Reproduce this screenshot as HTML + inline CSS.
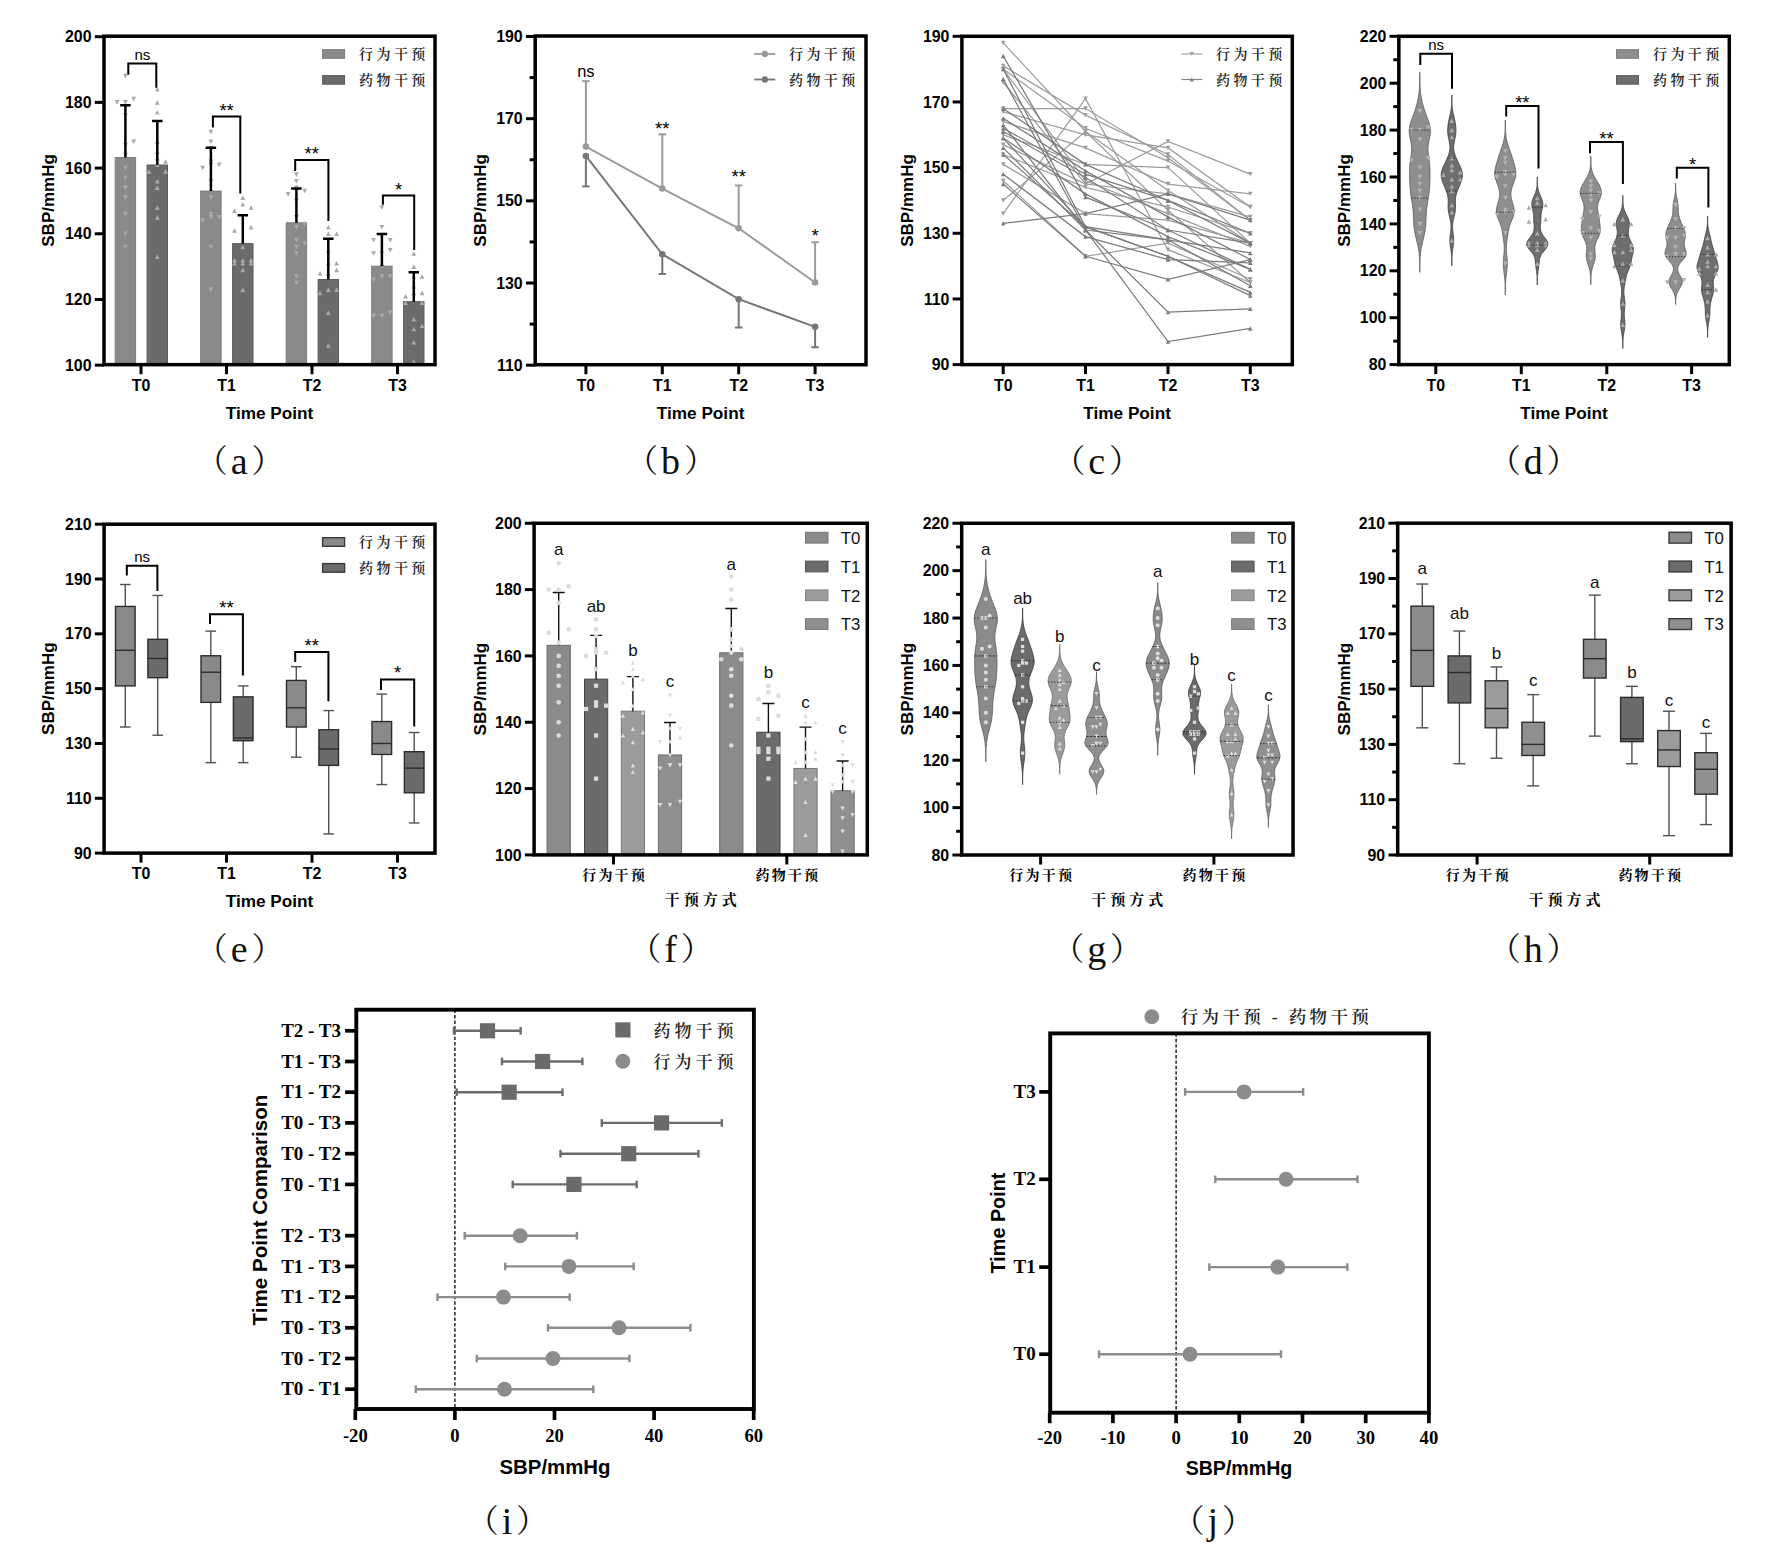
<!DOCTYPE html>
<html lang="zh"><head><meta charset="utf-8"><title>SBP figure</title>
<style>html,body{margin:0;padding:0;background:#fff}svg{display:block}</style></head>
<body>
<svg width="1770" height="1550" viewBox="0 0 1770 1550">
<rect width="1770" height="1550" fill="#fff"/>
<g id="pa">
<clipPath id="ca"><rect x="104.0" y="36.2" width="331.0" height="328.45"/></clipPath><g clip-path="url(#ca)">
<rect x="115.2" y="157.57" width="20.4" height="207.08" fill="#8a8a8a" stroke="#7a7a7a" stroke-width="1"/>
<polygon points="123,244.63 127.8,244.63 125.4,249.19" fill="#a9a9a9"/>
<polygon points="123,231.49 127.8,231.49 125.4,236.05" fill="#a9a9a9"/>
<polygon points="123,211.78 127.8,211.78 125.4,216.34" fill="#a9a9a9"/>
<polygon points="123,195.36 127.8,195.36 125.4,199.92" fill="#a9a9a9"/>
<polygon points="123,185.51 127.8,185.51 125.4,190.07" fill="#a9a9a9"/>
<polygon points="123,175.65 127.8,175.65 125.4,180.21" fill="#a9a9a9"/>
<polygon points="123,165.8 127.8,165.8 125.4,170.36" fill="#a9a9a9"/>
<polygon points="123,152.66 127.8,152.66 125.4,157.22" fill="#a9a9a9"/>
<polygon points="123,142.81 127.8,142.81 125.4,147.37" fill="#a9a9a9"/>
<polygon points="131.3,139.52 136.1,139.52 133.7,144.08" fill="#a9a9a9"/>
<polygon points="123,113.25 127.8,113.25 125.4,117.81" fill="#a9a9a9"/>
<polygon points="114.7,100.11 119.5,100.11 117.1,104.67" fill="#a9a9a9"/>
<polygon points="123,100.11 127.8,100.11 125.4,104.67" fill="#a9a9a9"/>
<polygon points="131.3,96.83 136.1,96.83 133.7,101.39" fill="#a9a9a9"/>
<polygon points="123,73.83 127.8,73.83 125.4,78.39" fill="#a9a9a9"/>
<line x1="125.4" y1="157.57" x2="125.4" y2="105.24" stroke="#000" stroke-width="2.5" stroke-linecap="butt"/>
<line x1="120.15" y1="105.24" x2="130.65" y2="105.24" stroke="#000" stroke-width="2.5" stroke-linecap="butt"/>
<rect x="147.1" y="165.01" width="20.4" height="199.64" fill="#6b6b6b" stroke="#5b5b5b" stroke-width="1"/>
<polygon points="154.9,259.04 159.7,259.04 157.3,254.48" fill="#a9a9a9"/>
<polygon points="154.9,219.63 159.7,219.63 157.3,215.07" fill="#a9a9a9"/>
<polygon points="154.9,209.77 159.7,209.77 157.3,205.21" fill="#a9a9a9"/>
<polygon points="154.9,190.07 159.7,190.07 157.3,185.51" fill="#a9a9a9"/>
<polygon points="154.9,183.5 159.7,183.5 157.3,178.94" fill="#a9a9a9"/>
<polygon points="146.6,173.64 151.4,173.64 149,169.08" fill="#a9a9a9"/>
<polygon points="163.2,173.64 168,173.64 165.6,169.08" fill="#a9a9a9"/>
<polygon points="154.9,167.08 159.7,167.08 157.3,162.52" fill="#a9a9a9"/>
<polygon points="163.2,163.79 168,163.79 165.6,159.23" fill="#a9a9a9"/>
<polygon points="154.9,160.51 159.7,160.51 157.3,155.95" fill="#a9a9a9"/>
<polygon points="154.9,153.94 159.7,153.94 157.3,149.38" fill="#a9a9a9"/>
<polygon points="154.9,144.08 159.7,144.08 157.3,139.52" fill="#a9a9a9"/>
<polygon points="154.9,114.52 159.7,114.52 157.3,109.96" fill="#a9a9a9"/>
<polygon points="154.9,104.67 159.7,104.67 157.3,100.11" fill="#a9a9a9"/>
<polygon points="154.9,91.53 159.7,91.53 157.3,86.97" fill="#a9a9a9"/>
<line x1="157.3" y1="165.01" x2="157.3" y2="121.06" stroke="#000" stroke-width="2.5" stroke-linecap="butt"/>
<line x1="152.05" y1="121.06" x2="162.55" y2="121.06" stroke="#000" stroke-width="2.5" stroke-linecap="butt"/>
<rect x="200.7" y="191.07" width="20.4" height="173.58" fill="#8a8a8a" stroke="#7a7a7a" stroke-width="1"/>
<polygon points="208.5,287.33 213.3,287.33 210.9,291.89" fill="#a9a9a9"/>
<polygon points="208.5,244.63 213.3,244.63 210.9,249.19" fill="#a9a9a9"/>
<polygon points="200.2,218.35 205,218.35 202.6,222.91" fill="#a9a9a9"/>
<polygon points="208.5,215.07 213.3,215.07 210.9,219.63" fill="#a9a9a9"/>
<polygon points="216.8,215.07 221.6,215.07 219.2,219.63" fill="#a9a9a9"/>
<polygon points="208.5,211.78 213.3,211.78 210.9,216.34" fill="#a9a9a9"/>
<polygon points="208.5,195.36 213.3,195.36 210.9,199.92" fill="#a9a9a9"/>
<polygon points="208.5,178.94 213.3,178.94 210.9,183.5" fill="#a9a9a9"/>
<polygon points="200.2,165.8 205,165.8 202.6,170.36" fill="#a9a9a9"/>
<polygon points="208.5,162.52 213.3,162.52 210.9,167.08" fill="#a9a9a9"/>
<polygon points="216.8,162.52 221.6,162.52 219.2,167.08" fill="#a9a9a9"/>
<polygon points="208.5,159.23 213.3,159.23 210.9,163.79" fill="#a9a9a9"/>
<polygon points="208.5,146.09 213.3,146.09 210.9,150.65" fill="#a9a9a9"/>
<polygon points="208.5,139.52 213.3,139.52 210.9,144.08" fill="#a9a9a9"/>
<polygon points="208.5,129.67 213.3,129.67 210.9,134.23" fill="#a9a9a9"/>
<line x1="210.9" y1="191.07" x2="210.9" y2="147.75" stroke="#000" stroke-width="2.5" stroke-linecap="butt"/>
<line x1="205.65" y1="147.75" x2="216.15" y2="147.75" stroke="#000" stroke-width="2.5" stroke-linecap="butt"/>
<rect x="232.6" y="243.62" width="20.4" height="121.03" fill="#6b6b6b" stroke="#5b5b5b" stroke-width="1"/>
<polygon points="240.4,291.89 245.2,291.89 242.8,287.33" fill="#a9a9a9"/>
<polygon points="240.4,272.18 245.2,272.18 242.8,267.62" fill="#a9a9a9"/>
<polygon points="232.1,265.61 236.9,265.61 234.5,261.05" fill="#a9a9a9"/>
<polygon points="240.4,265.61 245.2,265.61 242.8,261.05" fill="#a9a9a9"/>
<polygon points="248.7,265.61 253.5,265.61 251.1,261.05" fill="#a9a9a9"/>
<polygon points="232.1,262.33 236.9,262.33 234.5,257.77" fill="#a9a9a9"/>
<polygon points="240.4,262.33 245.2,262.33 242.8,257.77" fill="#a9a9a9"/>
<polygon points="248.7,262.33 253.5,262.33 251.1,257.77" fill="#a9a9a9"/>
<polygon points="240.4,249.19 245.2,249.19 242.8,244.63" fill="#a9a9a9"/>
<polygon points="232.1,232.77 236.9,232.77 234.5,228.21" fill="#a9a9a9"/>
<polygon points="248.7,229.48 253.5,229.48 251.1,224.92" fill="#a9a9a9"/>
<polygon points="232.1,213.06 236.9,213.06 234.5,208.5" fill="#a9a9a9"/>
<polygon points="248.7,209.77 253.5,209.77 251.1,205.21" fill="#a9a9a9"/>
<polygon points="240.4,206.49 245.2,206.49 242.8,201.93" fill="#a9a9a9"/>
<polygon points="240.4,199.92 245.2,199.92 242.8,195.36" fill="#a9a9a9"/>
<line x1="242.8" y1="243.62" x2="242.8" y2="215.23" stroke="#000" stroke-width="2.5" stroke-linecap="butt"/>
<line x1="237.55" y1="215.23" x2="248.05" y2="215.23" stroke="#000" stroke-width="2.5" stroke-linecap="butt"/>
<rect x="286.2" y="222.82" width="20.4" height="141.83" fill="#8a8a8a" stroke="#7a7a7a" stroke-width="1"/>
<polygon points="294,280.76 298.8,280.76 296.4,285.32" fill="#a9a9a9"/>
<polygon points="294,274.19 298.8,274.19 296.4,278.75" fill="#a9a9a9"/>
<polygon points="294,251.2 298.8,251.2 296.4,255.76" fill="#a9a9a9"/>
<polygon points="294,244.63 298.8,244.63 296.4,249.19" fill="#a9a9a9"/>
<polygon points="302.3,241.34 307.1,241.34 304.7,245.9" fill="#a9a9a9"/>
<polygon points="294,238.06 298.8,238.06 296.4,242.62" fill="#a9a9a9"/>
<polygon points="294,224.92 298.8,224.92 296.4,229.48" fill="#a9a9a9"/>
<polygon points="302.3,221.64 307.1,221.64 304.7,226.2" fill="#a9a9a9"/>
<polygon points="294,215.07 298.8,215.07 296.4,219.63" fill="#a9a9a9"/>
<polygon points="294,198.64 298.8,198.64 296.4,203.2" fill="#a9a9a9"/>
<polygon points="285.7,192.08 290.5,192.08 288.1,196.64" fill="#a9a9a9"/>
<polygon points="302.3,188.79 307.1,188.79 304.7,193.35" fill="#a9a9a9"/>
<polygon points="294,185.51 298.8,185.51 296.4,190.07" fill="#a9a9a9"/>
<polygon points="294,178.94 298.8,178.94 296.4,183.5" fill="#a9a9a9"/>
<polygon points="294,172.37 298.8,172.37 296.4,176.93" fill="#a9a9a9"/>
<line x1="296.4" y1="222.82" x2="296.4" y2="188.61" stroke="#000" stroke-width="2.5" stroke-linecap="butt"/>
<line x1="291.15" y1="188.61" x2="301.65" y2="188.61" stroke="#000" stroke-width="2.5" stroke-linecap="butt"/>
<rect x="318.1" y="279.53" width="20.4" height="85.12" fill="#6b6b6b" stroke="#5b5b5b" stroke-width="1"/>
<polygon points="325.9,377.28 330.7,377.28 328.3,372.72" fill="#a9a9a9"/>
<polygon points="325.9,347.72 330.7,347.72 328.3,343.16" fill="#a9a9a9"/>
<polygon points="325.9,314.88 330.7,314.88 328.3,310.32" fill="#a9a9a9"/>
<polygon points="317.6,295.17 322.4,295.17 320,290.61" fill="#a9a9a9"/>
<polygon points="325.9,291.89 330.7,291.89 328.3,287.33" fill="#a9a9a9"/>
<polygon points="334.2,291.89 339,291.89 336.6,287.33" fill="#a9a9a9"/>
<polygon points="317.6,275.46 322.4,275.46 320,270.9" fill="#a9a9a9"/>
<polygon points="325.9,275.46 330.7,275.46 328.3,270.9" fill="#a9a9a9"/>
<polygon points="334.2,272.18 339,272.18 336.6,267.62" fill="#a9a9a9"/>
<polygon points="325.9,265.61 330.7,265.61 328.3,261.05" fill="#a9a9a9"/>
<polygon points="334.2,265.61 339,265.61 336.6,261.05" fill="#a9a9a9"/>
<polygon points="325.9,252.47 330.7,252.47 328.3,247.91" fill="#a9a9a9"/>
<polygon points="325.9,236.05 330.7,236.05 328.3,231.49" fill="#a9a9a9"/>
<polygon points="334.2,236.05 339,236.05 336.6,231.49" fill="#a9a9a9"/>
<polygon points="325.9,229.48 330.7,229.48 328.3,224.92" fill="#a9a9a9"/>
<line x1="328.3" y1="279.53" x2="328.3" y2="238.63" stroke="#000" stroke-width="2.5" stroke-linecap="butt"/>
<line x1="323.05" y1="238.63" x2="333.55" y2="238.63" stroke="#000" stroke-width="2.5" stroke-linecap="butt"/>
<rect x="371.7" y="266.18" width="20.4" height="98.47" fill="#8a8a8a" stroke="#7a7a7a" stroke-width="1"/>
<polygon points="371.2,313.6 376,313.6 373.6,318.16" fill="#a9a9a9"/>
<polygon points="379.5,313.6 384.3,313.6 381.9,318.16" fill="#a9a9a9"/>
<polygon points="387.8,310.32 392.6,310.32 390.2,314.88" fill="#a9a9a9"/>
<polygon points="371.2,277.47 376,277.47 373.6,282.03" fill="#a9a9a9"/>
<polygon points="379.5,274.19 384.3,274.19 381.9,278.75" fill="#a9a9a9"/>
<polygon points="387.8,274.19 392.6,274.19 390.2,278.75" fill="#a9a9a9"/>
<polygon points="379.5,274.19 384.3,274.19 381.9,278.75" fill="#a9a9a9"/>
<polygon points="379.5,264.34 384.3,264.34 381.9,268.89" fill="#a9a9a9"/>
<polygon points="371.2,251.2 376,251.2 373.6,255.76" fill="#a9a9a9"/>
<polygon points="379.5,251.2 384.3,251.2 381.9,255.76" fill="#a9a9a9"/>
<polygon points="387.8,247.91 392.6,247.91 390.2,252.47" fill="#a9a9a9"/>
<polygon points="371.2,238.06 376,238.06 373.6,242.62" fill="#a9a9a9"/>
<polygon points="387.8,238.06 392.6,238.06 390.2,242.62" fill="#a9a9a9"/>
<polygon points="379.5,224.92 384.3,224.92 381.9,229.48" fill="#a9a9a9"/>
<polygon points="379.5,205.21 384.3,205.21 381.9,209.77" fill="#a9a9a9"/>
<line x1="381.9" y1="266.18" x2="381.9" y2="234.02" stroke="#000" stroke-width="2.5" stroke-linecap="butt"/>
<line x1="376.65" y1="234.02" x2="387.15" y2="234.02" stroke="#000" stroke-width="2.5" stroke-linecap="butt"/>
<rect x="403.6" y="301.65" width="20.4" height="63" fill="#6b6b6b" stroke="#5b5b5b" stroke-width="1"/>
<polygon points="411.4,364.15 416.2,364.15 413.8,359.59" fill="#a9a9a9"/>
<polygon points="411.4,344.44 416.2,344.44 413.8,339.88" fill="#a9a9a9"/>
<polygon points="411.4,331.3 416.2,331.3 413.8,326.74" fill="#a9a9a9"/>
<polygon points="419.7,328.02 424.5,328.02 422.1,323.46" fill="#a9a9a9"/>
<polygon points="411.4,321.45 416.2,321.45 413.8,316.89" fill="#a9a9a9"/>
<polygon points="403.1,305.02 407.9,305.02 405.5,300.46" fill="#a9a9a9"/>
<polygon points="419.7,305.02 424.5,305.02 422.1,300.46" fill="#a9a9a9"/>
<polygon points="403.1,298.46 407.9,298.46 405.5,293.9" fill="#a9a9a9"/>
<polygon points="411.4,295.17 416.2,295.17 413.8,290.61" fill="#a9a9a9"/>
<polygon points="419.7,295.17 424.5,295.17 422.1,290.61" fill="#a9a9a9"/>
<polygon points="411.4,288.6 416.2,288.6 413.8,284.04" fill="#a9a9a9"/>
<polygon points="411.4,278.75 416.2,278.75 413.8,274.19" fill="#a9a9a9"/>
<polygon points="419.7,278.75 424.5,278.75 422.1,274.19" fill="#a9a9a9"/>
<polygon points="411.4,268.89 416.2,268.89 413.8,264.34" fill="#a9a9a9"/>
<polygon points="411.4,255.76 416.2,255.76 413.8,251.2" fill="#a9a9a9"/>
<line x1="413.8" y1="301.65" x2="413.8" y2="272.2" stroke="#000" stroke-width="2.5" stroke-linecap="butt"/>
<line x1="408.55" y1="272.2" x2="419.05" y2="272.2" stroke="#000" stroke-width="2.5" stroke-linecap="butt"/>
</g>
<rect x="104" y="36.2" width="331" height="328.45" fill="none" stroke="#000" stroke-width="3.5"/>
<line x1="94.75" y1="365.15" x2="104" y2="365.15" stroke="#000" stroke-width="3" stroke-linecap="butt"/>
<text x="91.5" y="370.75" font-family='"Liberation Sans", sans-serif' font-size="15.9" font-weight="bold" text-anchor="end" fill="#000">100</text>
<line x1="94.75" y1="299.46" x2="104" y2="299.46" stroke="#000" stroke-width="3" stroke-linecap="butt"/>
<text x="91.5" y="305.06" font-family='"Liberation Sans", sans-serif' font-size="15.9" font-weight="bold" text-anchor="end" fill="#000">120</text>
<line x1="94.75" y1="233.77" x2="104" y2="233.77" stroke="#000" stroke-width="3" stroke-linecap="butt"/>
<text x="91.5" y="239.37" font-family='"Liberation Sans", sans-serif' font-size="15.9" font-weight="bold" text-anchor="end" fill="#000">140</text>
<line x1="94.75" y1="168.08" x2="104" y2="168.08" stroke="#000" stroke-width="3" stroke-linecap="butt"/>
<text x="91.5" y="173.68" font-family='"Liberation Sans", sans-serif' font-size="15.9" font-weight="bold" text-anchor="end" fill="#000">160</text>
<line x1="94.75" y1="102.39" x2="104" y2="102.39" stroke="#000" stroke-width="3" stroke-linecap="butt"/>
<text x="91.5" y="107.99" font-family='"Liberation Sans", sans-serif' font-size="15.9" font-weight="bold" text-anchor="end" fill="#000">180</text>
<line x1="94.75" y1="36.7" x2="104" y2="36.7" stroke="#000" stroke-width="3" stroke-linecap="butt"/>
<text x="91.5" y="42.3" font-family='"Liberation Sans", sans-serif' font-size="15.9" font-weight="bold" text-anchor="end" fill="#000">200</text>
<line x1="141" y1="364.65" x2="141" y2="374.2" stroke="#000" stroke-width="3" stroke-linecap="butt"/>
<text x="141" y="390.75" font-family='"Liberation Sans", sans-serif' font-size="15.9" font-weight="bold" text-anchor="middle" fill="#000">T0</text>
<line x1="226.5" y1="364.65" x2="226.5" y2="374.2" stroke="#000" stroke-width="3" stroke-linecap="butt"/>
<text x="226.5" y="390.75" font-family='"Liberation Sans", sans-serif' font-size="15.9" font-weight="bold" text-anchor="middle" fill="#000">T1</text>
<line x1="312" y1="364.65" x2="312" y2="374.2" stroke="#000" stroke-width="3" stroke-linecap="butt"/>
<text x="312" y="390.75" font-family='"Liberation Sans", sans-serif' font-size="15.9" font-weight="bold" text-anchor="middle" fill="#000">T2</text>
<line x1="397.5" y1="364.65" x2="397.5" y2="374.2" stroke="#000" stroke-width="3" stroke-linecap="butt"/>
<text x="397.5" y="390.75" font-family='"Liberation Sans", sans-serif' font-size="15.9" font-weight="bold" text-anchor="middle" fill="#000">T3</text>
<text x="49" y="200.42" font-family='"Liberation Sans", sans-serif' font-size="17.0" font-weight="bold" text-anchor="middle" fill="#000" transform="rotate(-90 49 200.42)" dominant-baseline="central">SBP/mmHg</text>
<text x="269.5" y="418.9" font-family='"Liberation Sans", sans-serif' font-size="17.2" font-weight="bold" text-anchor="middle" fill="#000">Time Point</text>
<polyline points="128.3,74.8 128.3,63.5 156.3,63.5 156.3,87.7" fill="none" stroke="#000" stroke-width="2"/>
<text x="142.3" y="59.5" font-family='"Liberation Sans", sans-serif' font-size="15" font-weight="normal" text-anchor="middle" fill="#000">ns</text>
<polyline points="212.9,127.4 212.9,116.6 240.3,116.6 240.3,193.5" fill="none" stroke="#000" stroke-width="2"/>
<text x="226.6" y="116.8" font-family='"Liberation Sans", sans-serif' font-size="18.5" font-weight="normal" text-anchor="middle" fill="#000">**</text>
<polyline points="295.2,171 295.2,160.1 328.4,160.1 328.4,221" fill="none" stroke="#000" stroke-width="2"/>
<text x="311.8" y="160.3" font-family='"Liberation Sans", sans-serif' font-size="18.5" font-weight="normal" text-anchor="middle" fill="#000">**</text>
<polyline points="382.9,204.8 382.9,195.5 414.2,195.5 414.2,250" fill="none" stroke="#000" stroke-width="2"/>
<text x="398.55" y="195.7" font-family='"Liberation Sans", sans-serif' font-size="18.5" font-weight="normal" text-anchor="middle" fill="#000">*</text>
<rect x="322.6" y="49.7" width="22" height="8.6" fill="#8a8a8a" stroke="#787878" stroke-width="1"/>
<text x="359.1" y="59" font-family='"Liberation Serif", "Noto Serif CJK SC", serif' font-size="14" font-weight="600" text-anchor="start" fill="#222" letter-spacing="3.4">行为干预</text>
<rect x="322.6" y="75.6" width="22" height="8.6" fill="#6b6b6b" stroke="#595959" stroke-width="1"/>
<text x="359.1" y="84.5" font-family='"Liberation Serif", "Noto Serif CJK SC", serif' font-size="14" font-weight="600" text-anchor="start" fill="#222" letter-spacing="3.4">药物干预</text>
<text x="195.73" y="472.2" font-family='"Noto Serif CJK SC", serif' font-size="32" font-weight="normal" text-anchor="start" fill="#111">（</text>
<text x="239.2" y="474" font-family='"Liberation Serif", serif' font-size="38" font-weight="normal" text-anchor="middle" fill="#111">a</text>
<text x="251.44" y="472.2" font-family='"Noto Serif CJK SC", serif' font-size="32" font-weight="normal" text-anchor="start" fill="#111">）</text>
</g>
<g id="pb">
<line x1="585.9" y1="146.61" x2="585.9" y2="81.15" stroke="#9a9a9a" stroke-width="2" stroke-linecap="butt"/>
<line x1="582.15" y1="81.15" x2="589.65" y2="81.15" stroke="#9a9a9a" stroke-width="2" stroke-linecap="butt"/>
<line x1="585.9" y1="155.93" x2="585.9" y2="186.38" stroke="#767676" stroke-width="2" stroke-linecap="butt"/>
<line x1="582.15" y1="186.38" x2="589.65" y2="186.38" stroke="#767676" stroke-width="2" stroke-linecap="butt"/>
<line x1="662.3" y1="188.52" x2="662.3" y2="134.33" stroke="#9a9a9a" stroke-width="2" stroke-linecap="butt"/>
<line x1="658.55" y1="134.33" x2="666.05" y2="134.33" stroke="#9a9a9a" stroke-width="2" stroke-linecap="butt"/>
<line x1="662.3" y1="254.26" x2="662.3" y2="273.93" stroke="#767676" stroke-width="2" stroke-linecap="butt"/>
<line x1="658.55" y1="273.93" x2="666.05" y2="273.93" stroke="#767676" stroke-width="2" stroke-linecap="butt"/>
<line x1="738.7" y1="228.24" x2="738.7" y2="185.44" stroke="#9a9a9a" stroke-width="2" stroke-linecap="butt"/>
<line x1="734.95" y1="185.44" x2="742.45" y2="185.44" stroke="#9a9a9a" stroke-width="2" stroke-linecap="butt"/>
<line x1="738.7" y1="299.19" x2="738.7" y2="327.52" stroke="#767676" stroke-width="2" stroke-linecap="butt"/>
<line x1="734.95" y1="327.52" x2="742.45" y2="327.52" stroke="#767676" stroke-width="2" stroke-linecap="butt"/>
<line x1="815.1" y1="282.48" x2="815.1" y2="242.25" stroke="#9a9a9a" stroke-width="2" stroke-linecap="butt"/>
<line x1="811.35" y1="242.25" x2="818.85" y2="242.25" stroke="#9a9a9a" stroke-width="2" stroke-linecap="butt"/>
<line x1="815.1" y1="326.85" x2="815.1" y2="347.25" stroke="#767676" stroke-width="2" stroke-linecap="butt"/>
<line x1="811.35" y1="347.25" x2="818.85" y2="347.25" stroke="#767676" stroke-width="2" stroke-linecap="butt"/>
<polyline fill="none" stroke="#9a9a9a" stroke-width="2" points="585.9,146.61 662.3,188.52 738.7,228.24 815.1,282.48"/>
<polyline fill="none" stroke="#767676" stroke-width="2" points="585.9,155.93 662.3,254.26 738.7,299.19 815.1,326.85"/>
<circle cx="585.9" cy="146.61" r="3.3" fill="#9a9a9a"/>
<circle cx="585.9" cy="155.93" r="3.3" fill="#767676"/>
<text x="585.9" y="76.65" font-family='"Liberation Sans", sans-serif' font-size="16.5" font-weight="normal" text-anchor="middle" fill="#000">ns</text>
<circle cx="662.3" cy="188.52" r="3.3" fill="#9a9a9a"/>
<circle cx="662.3" cy="254.26" r="3.3" fill="#767676"/>
<text x="662.3" y="135.33" font-family='"Liberation Sans", sans-serif' font-size="18.5" font-weight="normal" text-anchor="middle" fill="#000">**</text>
<circle cx="738.7" cy="228.24" r="3.3" fill="#9a9a9a"/>
<circle cx="738.7" cy="299.19" r="3.3" fill="#767676"/>
<text x="738.7" y="183.24" font-family='"Liberation Sans", sans-serif' font-size="18.5" font-weight="normal" text-anchor="middle" fill="#000">**</text>
<circle cx="815.1" cy="282.48" r="3.3" fill="#9a9a9a"/>
<circle cx="815.1" cy="326.85" r="3.3" fill="#767676"/>
<text x="815.1" y="241.65" font-family='"Liberation Sans", sans-serif' font-size="18.5" font-weight="normal" text-anchor="middle" fill="#000">*</text>
<rect x="535.2" y="36" width="330.8" height="328.7" fill="none" stroke="#000" stroke-width="3.5"/>
<line x1="525.95" y1="365.2" x2="535.2" y2="365.2" stroke="#000" stroke-width="3" stroke-linecap="butt"/>
<text x="522.7" y="370.8" font-family='"Liberation Sans", sans-serif' font-size="15.9" font-weight="bold" text-anchor="end" fill="#000">110</text>
<line x1="525.95" y1="283.02" x2="535.2" y2="283.02" stroke="#000" stroke-width="3" stroke-linecap="butt"/>
<text x="522.7" y="288.62" font-family='"Liberation Sans", sans-serif' font-size="15.9" font-weight="bold" text-anchor="end" fill="#000">130</text>
<line x1="525.95" y1="200.85" x2="535.2" y2="200.85" stroke="#000" stroke-width="3" stroke-linecap="butt"/>
<text x="522.7" y="206.45" font-family='"Liberation Sans", sans-serif' font-size="15.9" font-weight="bold" text-anchor="end" fill="#000">150</text>
<line x1="525.95" y1="118.68" x2="535.2" y2="118.68" stroke="#000" stroke-width="3" stroke-linecap="butt"/>
<text x="522.7" y="124.28" font-family='"Liberation Sans", sans-serif' font-size="15.9" font-weight="bold" text-anchor="end" fill="#000">170</text>
<line x1="525.95" y1="36.5" x2="535.2" y2="36.5" stroke="#000" stroke-width="3" stroke-linecap="butt"/>
<text x="522.7" y="42.1" font-family='"Liberation Sans", sans-serif' font-size="15.9" font-weight="bold" text-anchor="end" fill="#000">190</text>
<line x1="529.65" y1="324.11" x2="535.2" y2="324.11" stroke="#000" stroke-width="3" stroke-linecap="butt"/>
<line x1="529.65" y1="241.94" x2="535.2" y2="241.94" stroke="#000" stroke-width="3" stroke-linecap="butt"/>
<line x1="529.65" y1="159.76" x2="535.2" y2="159.76" stroke="#000" stroke-width="3" stroke-linecap="butt"/>
<line x1="529.65" y1="77.59" x2="535.2" y2="77.59" stroke="#000" stroke-width="3" stroke-linecap="butt"/>
<line x1="585.9" y1="364.7" x2="585.9" y2="374.25" stroke="#000" stroke-width="3" stroke-linecap="butt"/>
<text x="585.9" y="390.8" font-family='"Liberation Sans", sans-serif' font-size="15.9" font-weight="bold" text-anchor="middle" fill="#000">T0</text>
<line x1="662.3" y1="364.7" x2="662.3" y2="374.25" stroke="#000" stroke-width="3" stroke-linecap="butt"/>
<text x="662.3" y="390.8" font-family='"Liberation Sans", sans-serif' font-size="15.9" font-weight="bold" text-anchor="middle" fill="#000">T1</text>
<line x1="738.7" y1="364.7" x2="738.7" y2="374.25" stroke="#000" stroke-width="3" stroke-linecap="butt"/>
<text x="738.7" y="390.8" font-family='"Liberation Sans", sans-serif' font-size="15.9" font-weight="bold" text-anchor="middle" fill="#000">T2</text>
<line x1="815.1" y1="364.7" x2="815.1" y2="374.25" stroke="#000" stroke-width="3" stroke-linecap="butt"/>
<text x="815.1" y="390.8" font-family='"Liberation Sans", sans-serif' font-size="15.9" font-weight="bold" text-anchor="middle" fill="#000">T3</text>
<text x="480.5" y="200.35" font-family='"Liberation Sans", sans-serif' font-size="17.0" font-weight="bold" text-anchor="middle" fill="#000" transform="rotate(-90 480.5 200.35)" dominant-baseline="central">SBP/mmHg</text>
<text x="700.6" y="418.9" font-family='"Liberation Sans", sans-serif' font-size="17.2" font-weight="bold" text-anchor="middle" fill="#000">Time Point</text>
<line x1="754.3" y1="54" x2="775.3" y2="54" stroke="#9a9a9a" stroke-width="1.8" stroke-linecap="butt"/>
<circle cx="764.8" cy="54" r="3.2" fill="#9a9a9a"/>
<text x="789" y="59" font-family='"Liberation Serif", "Noto Serif CJK SC", serif' font-size="14" font-weight="600" text-anchor="start" fill="#222" letter-spacing="3.4">行为干预</text>
<line x1="754.3" y1="79.5" x2="775.3" y2="79.5" stroke="#767676" stroke-width="1.8" stroke-linecap="butt"/>
<circle cx="764.8" cy="79.5" r="3.2" fill="#767676"/>
<text x="789" y="84.5" font-family='"Liberation Serif", "Noto Serif CJK SC", serif' font-size="14" font-weight="600" text-anchor="start" fill="#222" letter-spacing="3.4">药物干预</text>
<text x="626.07" y="472.2" font-family='"Noto Serif CJK SC", serif' font-size="32" font-weight="normal" text-anchor="start" fill="#111">（</text>
<text x="670.6" y="474" font-family='"Liberation Serif", serif' font-size="38" font-weight="normal" text-anchor="middle" fill="#111">b</text>
<text x="683.9" y="472.2" font-family='"Noto Serif CJK SC", serif' font-size="32" font-weight="normal" text-anchor="start" fill="#111">）</text>
</g>
<g id="pc">
<polyline fill="none" stroke="#9c9c9c" stroke-width="1.25" points="1003.2,42.87 1085.5,131.51 1168,190.6 1250.3,243.13"/>
<polygon points="1000.9,40.68 1005.5,40.68 1003.2,45.05" fill="#9c9c9c"/>
<polygon points="1083.2,129.32 1087.8,129.32 1085.5,133.69" fill="#9c9c9c"/>
<polygon points="1165.7,188.42 1170.3,188.42 1168,192.79" fill="#9c9c9c"/>
<polygon points="1248,240.94 1252.6,240.94 1250.3,245.31" fill="#9c9c9c"/>
<polyline fill="none" stroke="#9c9c9c" stroke-width="1.25" points="1003.2,65.85 1085.5,115.09 1168,154.49 1250.3,220.15"/>
<polygon points="1000.9,63.66 1005.5,63.66 1003.2,68.03" fill="#9c9c9c"/>
<polygon points="1083.2,112.91 1087.8,112.91 1085.5,117.28" fill="#9c9c9c"/>
<polygon points="1165.7,152.3 1170.3,152.3 1168,156.67" fill="#9c9c9c"/>
<polygon points="1248,217.96 1252.6,217.96 1250.3,222.33" fill="#9c9c9c"/>
<polyline fill="none" stroke="#9c9c9c" stroke-width="1.25" points="1003.2,69.13 1085.5,128.22 1168,161.05 1250.3,207.02"/>
<polygon points="1000.9,66.94 1005.5,66.94 1003.2,71.31" fill="#9c9c9c"/>
<polygon points="1083.2,126.04 1087.8,126.04 1085.5,130.41" fill="#9c9c9c"/>
<polygon points="1165.7,158.87 1170.3,158.87 1168,163.24" fill="#9c9c9c"/>
<polygon points="1248,204.83 1252.6,204.83 1250.3,209.2" fill="#9c9c9c"/>
<polyline fill="none" stroke="#9c9c9c" stroke-width="1.25" points="1003.2,69.13 1085.5,180.75 1168,213.58 1250.3,246.41"/>
<polygon points="1000.9,66.94 1005.5,66.94 1003.2,71.31" fill="#9c9c9c"/>
<polygon points="1083.2,178.57 1087.8,178.57 1085.5,182.94" fill="#9c9c9c"/>
<polygon points="1165.7,211.4 1170.3,211.4 1168,215.77" fill="#9c9c9c"/>
<polygon points="1248,244.23 1252.6,244.23 1250.3,248.6" fill="#9c9c9c"/>
<polyline fill="none" stroke="#9c9c9c" stroke-width="1.25" points="1003.2,82.26 1085.5,184.03 1168,193.88 1250.3,216.87"/>
<polygon points="1000.9,80.08 1005.5,80.08 1003.2,84.45" fill="#9c9c9c"/>
<polygon points="1083.2,181.85 1087.8,181.85 1085.5,186.22" fill="#9c9c9c"/>
<polygon points="1165.7,191.7 1170.3,191.7 1168,196.07" fill="#9c9c9c"/>
<polygon points="1248,214.68 1252.6,214.68 1250.3,219.05" fill="#9c9c9c"/>
<polyline fill="none" stroke="#9c9c9c" stroke-width="1.25" points="1003.2,108.53 1085.5,108.53 1168,157.77 1250.3,220.15"/>
<polygon points="1000.9,106.34 1005.5,106.34 1003.2,110.71" fill="#9c9c9c"/>
<polygon points="1083.2,106.34 1087.8,106.34 1085.5,110.71" fill="#9c9c9c"/>
<polygon points="1165.7,155.59 1170.3,155.59 1168,159.96" fill="#9c9c9c"/>
<polygon points="1248,217.96 1252.6,217.96 1250.3,222.33" fill="#9c9c9c"/>
<polyline fill="none" stroke="#9c9c9c" stroke-width="1.25" points="1003.2,111.81 1085.5,134.79 1168,147.92 1250.3,207.02"/>
<polygon points="1000.9,109.62 1005.5,109.62 1003.2,113.99" fill="#9c9c9c"/>
<polygon points="1083.2,132.61 1087.8,132.61 1085.5,136.98" fill="#9c9c9c"/>
<polygon points="1165.7,145.74 1170.3,145.74 1168,150.11" fill="#9c9c9c"/>
<polygon points="1248,204.83 1252.6,204.83 1250.3,209.2" fill="#9c9c9c"/>
<polyline fill="none" stroke="#9c9c9c" stroke-width="1.25" points="1003.2,121.66 1085.5,147.92 1168,184.03 1250.3,193.88"/>
<polygon points="1000.9,119.47 1005.5,119.47 1003.2,123.84" fill="#9c9c9c"/>
<polygon points="1083.2,145.74 1087.8,145.74 1085.5,150.11" fill="#9c9c9c"/>
<polygon points="1165.7,181.85 1170.3,181.85 1168,186.22" fill="#9c9c9c"/>
<polygon points="1248,191.7 1252.6,191.7 1250.3,196.07" fill="#9c9c9c"/>
<polyline fill="none" stroke="#9c9c9c" stroke-width="1.25" points="1003.2,134.79 1085.5,164.34 1168,167.62 1250.3,243.13"/>
<polygon points="1000.9,132.61 1005.5,132.61 1003.2,136.98" fill="#9c9c9c"/>
<polygon points="1083.2,162.15 1087.8,162.15 1085.5,166.52" fill="#9c9c9c"/>
<polygon points="1165.7,165.44 1170.3,165.44 1168,169.81" fill="#9c9c9c"/>
<polygon points="1248,240.94 1252.6,240.94 1250.3,245.31" fill="#9c9c9c"/>
<polyline fill="none" stroke="#9c9c9c" stroke-width="1.25" points="1003.2,144.64 1085.5,184.03 1168,141.36 1250.3,174.19"/>
<polygon points="1000.9,142.45 1005.5,142.45 1003.2,146.82" fill="#9c9c9c"/>
<polygon points="1083.2,181.85 1087.8,181.85 1085.5,186.22" fill="#9c9c9c"/>
<polygon points="1165.7,139.17 1170.3,139.17 1168,143.54" fill="#9c9c9c"/>
<polygon points="1248,172 1252.6,172 1250.3,176.37" fill="#9c9c9c"/>
<polyline fill="none" stroke="#9c9c9c" stroke-width="1.25" points="1003.2,154.49 1085.5,187.32 1168,207.02 1250.3,233.28"/>
<polygon points="1000.9,152.3 1005.5,152.3 1003.2,156.67" fill="#9c9c9c"/>
<polygon points="1083.2,185.13 1087.8,185.13 1085.5,189.5" fill="#9c9c9c"/>
<polygon points="1165.7,204.83 1170.3,204.83 1168,209.2" fill="#9c9c9c"/>
<polygon points="1248,231.09 1252.6,231.09 1250.3,235.47" fill="#9c9c9c"/>
<polyline fill="none" stroke="#9c9c9c" stroke-width="1.25" points="1003.2,164.34 1085.5,213.58 1168,220.15 1250.3,243.13"/>
<polygon points="1000.9,162.15 1005.5,162.15 1003.2,166.52" fill="#9c9c9c"/>
<polygon points="1083.2,211.4 1087.8,211.4 1085.5,215.77" fill="#9c9c9c"/>
<polygon points="1165.7,217.96 1170.3,217.96 1168,222.33" fill="#9c9c9c"/>
<polygon points="1248,240.94 1252.6,240.94 1250.3,245.31" fill="#9c9c9c"/>
<polyline fill="none" stroke="#9c9c9c" stroke-width="1.25" points="1003.2,180.75 1085.5,256.26 1168,243.13 1250.3,279.24"/>
<polygon points="1000.9,178.57 1005.5,178.57 1003.2,182.94" fill="#9c9c9c"/>
<polygon points="1083.2,254.08 1087.8,254.08 1085.5,258.45" fill="#9c9c9c"/>
<polygon points="1165.7,240.94 1170.3,240.94 1168,245.31" fill="#9c9c9c"/>
<polygon points="1248,277.06 1252.6,277.06 1250.3,281.43" fill="#9c9c9c"/>
<polyline fill="none" stroke="#9c9c9c" stroke-width="1.25" points="1003.2,200.45 1085.5,131.51 1168,210.3 1250.3,282.53"/>
<polygon points="1000.9,198.27 1005.5,198.27 1003.2,202.64" fill="#9c9c9c"/>
<polygon points="1083.2,129.32 1087.8,129.32 1085.5,133.69" fill="#9c9c9c"/>
<polygon points="1165.7,208.11 1170.3,208.11 1168,212.48" fill="#9c9c9c"/>
<polygon points="1248,280.34 1252.6,280.34 1250.3,284.71" fill="#9c9c9c"/>
<polyline fill="none" stroke="#9c9c9c" stroke-width="1.25" points="1003.2,213.58 1085.5,98.68 1168,249.7 1250.3,282.53"/>
<polygon points="1000.9,211.4 1005.5,211.4 1003.2,215.77" fill="#9c9c9c"/>
<polygon points="1083.2,96.49 1087.8,96.49 1085.5,100.86" fill="#9c9c9c"/>
<polygon points="1165.7,247.51 1170.3,247.51 1168,251.88" fill="#9c9c9c"/>
<polygon points="1248,280.34 1252.6,280.34 1250.3,284.71" fill="#9c9c9c"/>
<polyline fill="none" stroke="#7c7c7c" stroke-width="1.25" points="1003.2,56 1085.5,197.17 1168,230 1250.3,269.39"/>
<polygon points="1000.9,58.18 1005.5,58.18 1003.2,53.81" fill="#7c7c7c"/>
<polygon points="1083.2,199.35 1087.8,199.35 1085.5,194.98" fill="#7c7c7c"/>
<polygon points="1165.7,232.18 1170.3,232.18 1168,227.81" fill="#7c7c7c"/>
<polygon points="1248,271.58 1252.6,271.58 1250.3,267.21" fill="#7c7c7c"/>
<polyline fill="none" stroke="#7c7c7c" stroke-width="1.25" points="1003.2,69.13 1085.5,226.71 1168,256.26 1250.3,292.37"/>
<polygon points="1000.9,71.31 1005.5,71.31 1003.2,66.94" fill="#7c7c7c"/>
<polygon points="1083.2,228.9 1087.8,228.9 1085.5,224.53" fill="#7c7c7c"/>
<polygon points="1165.7,258.45 1170.3,258.45 1168,254.08" fill="#7c7c7c"/>
<polygon points="1248,294.56 1252.6,294.56 1250.3,290.19" fill="#7c7c7c"/>
<polyline fill="none" stroke="#7c7c7c" stroke-width="1.25" points="1003.2,78.98 1085.5,230 1168,341.62 1250.3,328.49"/>
<polygon points="1000.9,81.16 1005.5,81.16 1003.2,76.79" fill="#7c7c7c"/>
<polygon points="1083.2,232.18 1087.8,232.18 1085.5,227.81" fill="#7c7c7c"/>
<polygon points="1165.7,343.8 1170.3,343.8 1168,339.43" fill="#7c7c7c"/>
<polygon points="1248,330.67 1252.6,330.67 1250.3,326.3" fill="#7c7c7c"/>
<polyline fill="none" stroke="#7c7c7c" stroke-width="1.25" points="1003.2,108.53 1085.5,164.34 1168,200.45 1250.3,243.13"/>
<polygon points="1000.9,110.71 1005.5,110.71 1003.2,106.34" fill="#7c7c7c"/>
<polygon points="1083.2,166.52 1087.8,166.52 1085.5,162.15" fill="#7c7c7c"/>
<polygon points="1165.7,202.64 1170.3,202.64 1168,198.27" fill="#7c7c7c"/>
<polygon points="1248,245.31 1252.6,245.31 1250.3,240.94" fill="#7c7c7c"/>
<polyline fill="none" stroke="#7c7c7c" stroke-width="1.25" points="1003.2,118.38 1085.5,170.9 1168,216.87 1250.3,259.54"/>
<polygon points="1000.9,120.56 1005.5,120.56 1003.2,116.19" fill="#7c7c7c"/>
<polygon points="1083.2,173.09 1087.8,173.09 1085.5,168.72" fill="#7c7c7c"/>
<polygon points="1165.7,219.05 1170.3,219.05 1168,214.68" fill="#7c7c7c"/>
<polygon points="1248,261.73 1252.6,261.73 1250.3,257.36" fill="#7c7c7c"/>
<polyline fill="none" stroke="#7c7c7c" stroke-width="1.25" points="1003.2,124.94 1085.5,230 1168,312.07 1250.3,308.79"/>
<polygon points="1000.9,127.13 1005.5,127.13 1003.2,122.76" fill="#7c7c7c"/>
<polygon points="1083.2,232.18 1087.8,232.18 1085.5,227.81" fill="#7c7c7c"/>
<polygon points="1165.7,314.26 1170.3,314.26 1168,309.89" fill="#7c7c7c"/>
<polygon points="1248,310.97 1252.6,310.97 1250.3,306.6" fill="#7c7c7c"/>
<polyline fill="none" stroke="#7c7c7c" stroke-width="1.25" points="1003.2,128.22 1085.5,174.19 1168,200.45 1250.3,233.28"/>
<polygon points="1000.9,130.41 1005.5,130.41 1003.2,126.04" fill="#7c7c7c"/>
<polygon points="1083.2,176.37 1087.8,176.37 1085.5,172" fill="#7c7c7c"/>
<polygon points="1165.7,202.64 1170.3,202.64 1168,198.27" fill="#7c7c7c"/>
<polygon points="1248,235.47 1252.6,235.47 1250.3,231.09" fill="#7c7c7c"/>
<polyline fill="none" stroke="#7c7c7c" stroke-width="1.25" points="1003.2,131.51 1085.5,177.47 1168,230 1250.3,243.13"/>
<polygon points="1000.9,133.69 1005.5,133.69 1003.2,129.32" fill="#7c7c7c"/>
<polygon points="1083.2,179.65 1087.8,179.65 1085.5,175.28" fill="#7c7c7c"/>
<polygon points="1165.7,232.18 1170.3,232.18 1168,227.81" fill="#7c7c7c"/>
<polygon points="1248,245.31 1252.6,245.31 1250.3,240.94" fill="#7c7c7c"/>
<polyline fill="none" stroke="#7c7c7c" stroke-width="1.25" points="1003.2,138.07 1085.5,226.71 1168,239.85 1250.3,252.98"/>
<polygon points="1000.9,140.26 1005.5,140.26 1003.2,135.89" fill="#7c7c7c"/>
<polygon points="1083.2,228.9 1087.8,228.9 1085.5,224.53" fill="#7c7c7c"/>
<polygon points="1165.7,242.03 1170.3,242.03 1168,237.66" fill="#7c7c7c"/>
<polygon points="1248,255.16 1252.6,255.16 1250.3,250.79" fill="#7c7c7c"/>
<polyline fill="none" stroke="#7c7c7c" stroke-width="1.25" points="1003.2,138.07 1085.5,193.88 1168,236.56 1250.3,269.39"/>
<polygon points="1000.9,140.26 1005.5,140.26 1003.2,135.89" fill="#7c7c7c"/>
<polygon points="1083.2,196.07 1087.8,196.07 1085.5,191.7" fill="#7c7c7c"/>
<polygon points="1165.7,238.75 1170.3,238.75 1168,234.38" fill="#7c7c7c"/>
<polygon points="1248,271.58 1252.6,271.58 1250.3,267.21" fill="#7c7c7c"/>
<polyline fill="none" stroke="#7c7c7c" stroke-width="1.25" points="1003.2,147.92 1085.5,230 1168,239.85 1250.3,285.81"/>
<polygon points="1000.9,150.11 1005.5,150.11 1003.2,145.74" fill="#7c7c7c"/>
<polygon points="1083.2,232.18 1087.8,232.18 1085.5,227.81" fill="#7c7c7c"/>
<polygon points="1165.7,242.03 1170.3,242.03 1168,237.66" fill="#7c7c7c"/>
<polygon points="1248,287.99 1252.6,287.99 1250.3,283.62" fill="#7c7c7c"/>
<polyline fill="none" stroke="#7c7c7c" stroke-width="1.25" points="1003.2,154.49 1085.5,226.71 1168,256.26 1250.3,295.66"/>
<polygon points="1000.9,156.67 1005.5,156.67 1003.2,152.3" fill="#7c7c7c"/>
<polygon points="1083.2,228.9 1087.8,228.9 1085.5,224.53" fill="#7c7c7c"/>
<polygon points="1165.7,258.45 1170.3,258.45 1168,254.08" fill="#7c7c7c"/>
<polygon points="1248,297.84 1252.6,297.84 1250.3,293.47" fill="#7c7c7c"/>
<polyline fill="none" stroke="#7c7c7c" stroke-width="1.25" points="1003.2,174.19 1085.5,236.56 1168,259.54 1250.3,262.83"/>
<polygon points="1000.9,176.37 1005.5,176.37 1003.2,172" fill="#7c7c7c"/>
<polygon points="1083.2,238.75 1087.8,238.75 1085.5,234.38" fill="#7c7c7c"/>
<polygon points="1165.7,261.73 1170.3,261.73 1168,257.36" fill="#7c7c7c"/>
<polygon points="1248,265.01 1252.6,265.01 1250.3,260.64" fill="#7c7c7c"/>
<polyline fill="none" stroke="#7c7c7c" stroke-width="1.25" points="1003.2,184.03 1085.5,256.26 1168,279.24 1250.3,259.54"/>
<polygon points="1000.9,186.22 1005.5,186.22 1003.2,181.85" fill="#7c7c7c"/>
<polygon points="1083.2,258.45 1087.8,258.45 1085.5,254.08" fill="#7c7c7c"/>
<polygon points="1165.7,281.43 1170.3,281.43 1168,277.06" fill="#7c7c7c"/>
<polygon points="1248,261.73 1252.6,261.73 1250.3,257.36" fill="#7c7c7c"/>
<polyline fill="none" stroke="#7c7c7c" stroke-width="1.25" points="1003.2,223.43 1085.5,213.58 1168,193.88 1250.3,220.15"/>
<polygon points="1000.9,225.62 1005.5,225.62 1003.2,221.25" fill="#7c7c7c"/>
<polygon points="1083.2,215.77 1087.8,215.77 1085.5,211.4" fill="#7c7c7c"/>
<polygon points="1165.7,196.07 1170.3,196.07 1168,191.7" fill="#7c7c7c"/>
<polygon points="1248,222.33 1252.6,222.33 1250.3,217.96" fill="#7c7c7c"/>
<rect x="961.9" y="36.3" width="330.4" height="328.3" fill="none" stroke="#000" stroke-width="3.5"/>
<line x1="952.65" y1="364.6" x2="961.9" y2="364.6" stroke="#000" stroke-width="3" stroke-linecap="butt"/>
<text x="949.4" y="370.2" font-family='"Liberation Sans", sans-serif' font-size="15.9" font-weight="bold" text-anchor="end" fill="#000">90</text>
<line x1="952.65" y1="298.94" x2="961.9" y2="298.94" stroke="#000" stroke-width="3" stroke-linecap="butt"/>
<text x="949.4" y="304.54" font-family='"Liberation Sans", sans-serif' font-size="15.9" font-weight="bold" text-anchor="end" fill="#000">110</text>
<line x1="952.65" y1="233.28" x2="961.9" y2="233.28" stroke="#000" stroke-width="3" stroke-linecap="butt"/>
<text x="949.4" y="238.88" font-family='"Liberation Sans", sans-serif' font-size="15.9" font-weight="bold" text-anchor="end" fill="#000">130</text>
<line x1="952.65" y1="167.62" x2="961.9" y2="167.62" stroke="#000" stroke-width="3" stroke-linecap="butt"/>
<text x="949.4" y="173.22" font-family='"Liberation Sans", sans-serif' font-size="15.9" font-weight="bold" text-anchor="end" fill="#000">150</text>
<line x1="952.65" y1="101.96" x2="961.9" y2="101.96" stroke="#000" stroke-width="3" stroke-linecap="butt"/>
<text x="949.4" y="107.56" font-family='"Liberation Sans", sans-serif' font-size="15.9" font-weight="bold" text-anchor="end" fill="#000">170</text>
<line x1="952.65" y1="36.3" x2="961.9" y2="36.3" stroke="#000" stroke-width="3" stroke-linecap="butt"/>
<text x="949.4" y="41.9" font-family='"Liberation Sans", sans-serif' font-size="15.9" font-weight="bold" text-anchor="end" fill="#000">190</text>
<line x1="1003.2" y1="364.6" x2="1003.2" y2="374.15" stroke="#000" stroke-width="3" stroke-linecap="butt"/>
<text x="1003.2" y="390.7" font-family='"Liberation Sans", sans-serif' font-size="15.9" font-weight="bold" text-anchor="middle" fill="#000">T0</text>
<line x1="1085.5" y1="364.6" x2="1085.5" y2="374.15" stroke="#000" stroke-width="3" stroke-linecap="butt"/>
<text x="1085.5" y="390.7" font-family='"Liberation Sans", sans-serif' font-size="15.9" font-weight="bold" text-anchor="middle" fill="#000">T1</text>
<line x1="1168" y1="364.6" x2="1168" y2="374.15" stroke="#000" stroke-width="3" stroke-linecap="butt"/>
<text x="1168" y="390.7" font-family='"Liberation Sans", sans-serif' font-size="15.9" font-weight="bold" text-anchor="middle" fill="#000">T2</text>
<line x1="1250.3" y1="364.6" x2="1250.3" y2="374.15" stroke="#000" stroke-width="3" stroke-linecap="butt"/>
<text x="1250.3" y="390.7" font-family='"Liberation Sans", sans-serif' font-size="15.9" font-weight="bold" text-anchor="middle" fill="#000">T3</text>
<text x="908" y="200.45" font-family='"Liberation Sans", sans-serif' font-size="17.0" font-weight="bold" text-anchor="middle" fill="#000" transform="rotate(-90 908 200.45)" dominant-baseline="central">SBP/mmHg</text>
<text x="1127.1" y="418.9" font-family='"Liberation Sans", sans-serif' font-size="17.2" font-weight="bold" text-anchor="middle" fill="#000">Time Point</text>
<line x1="1181.3" y1="54" x2="1202.3" y2="54" stroke="#a2a2a2" stroke-width="1.2" stroke-linecap="butt"/>
<polygon points="1189.6,51.91 1194,51.91 1191.8,56.09" fill="#a2a2a2"/>
<text x="1216" y="59" font-family='"Liberation Serif", "Noto Serif CJK SC", serif' font-size="14" font-weight="600" text-anchor="start" fill="#222" letter-spacing="3.4">行为干预</text>
<line x1="1181.3" y1="79.5" x2="1202.3" y2="79.5" stroke="#828282" stroke-width="1.2" stroke-linecap="butt"/>
<polygon points="1189.6,81.59 1194,81.59 1191.8,77.41" fill="#828282"/>
<text x="1216" y="84.5" font-family='"Liberation Serif", "Noto Serif CJK SC", serif' font-size="14" font-weight="600" text-anchor="start" fill="#222" letter-spacing="3.4">药物干预</text>
<text x="1053.33" y="472.2" font-family='"Noto Serif CJK SC", serif' font-size="32" font-weight="normal" text-anchor="start" fill="#111">（</text>
<text x="1096.8" y="474" font-family='"Liberation Serif", serif' font-size="38" font-weight="normal" text-anchor="middle" fill="#111">c</text>
<text x="1109.04" y="472.2" font-family='"Noto Serif CJK SC", serif' font-size="32" font-weight="normal" text-anchor="start" fill="#111">）</text>
</g>
<g id="pd">
<path d="M1419.8,272.41 L1419.81,270.16 L1419.83,267.91 L1419.85,265.66 L1419.89,263.41 L1419.96,261.16 L1420.06,258.91 L1420.2,256.66 L1420.39,254.41 L1420.65,252.17 L1420.97,249.92 L1421.36,247.67 L1421.82,245.42 L1422.33,243.17 L1422.88,240.92 L1423.43,238.67 L1423.98,236.42 L1424.48,234.17 L1424.91,231.92 L1425.27,229.67 L1425.54,227.42 L1425.74,225.17 L1425.88,222.92 L1425.98,220.67 L1426.06,218.42 L1426.15,216.17 L1426.26,213.92 L1426.42,211.68 L1426.63,209.43 L1426.89,207.18 L1427.2,204.93 L1427.54,202.68 L1427.91,200.43 L1428.27,198.18 L1428.62,195.93 L1428.94,193.68 L1429.22,191.43 L1429.45,189.18 L1429.63,186.93 L1429.76,184.68 L1429.85,182.43 L1429.92,180.18 L1429.97,177.93 L1430.01,175.68 L1430.03,173.43 L1430.02,171.19 L1429.98,168.94 L1429.88,166.69 L1429.72,164.44 L1429.48,162.19 L1429.18,159.94 L1428.85,157.69 L1428.52,155.44 L1428.25,153.19 L1428.06,150.94 L1428.02,148.69 L1428.13,146.44 L1428.39,144.19 L1428.78,141.94 L1429.24,139.69 L1429.69,137.44 L1430.08,135.19 L1430.33,132.94 L1430.4,130.7 L1430.26,128.45 L1429.91,126.2 L1429.37,123.95 L1428.69,121.7 L1427.91,119.45 L1427.09,117.2 L1426.25,114.95 L1425.43,112.7 L1424.65,110.45 L1423.93,108.2 L1423.26,105.95 L1422.65,103.7 L1422.1,101.45 L1421.61,99.2 L1421.2,96.95 L1420.85,94.7 L1420.56,92.45 L1420.33,90.21 L1420.16,87.96 L1420.04,85.71 L1419.95,83.46 L1419.89,81.21 L1419.85,78.96 L1419.82,76.71 L1419.81,74.46 L1419.8,72.21 L1419.8,72.21 L1419.79,74.46 L1419.78,76.71 L1419.75,78.96 L1419.71,81.21 L1419.65,83.46 L1419.56,85.71 L1419.44,87.96 L1419.27,90.21 L1419.04,92.45 L1418.75,94.7 L1418.4,96.95 L1417.99,99.2 L1417.5,101.45 L1416.95,103.7 L1416.34,105.95 L1415.67,108.2 L1414.95,110.45 L1414.17,112.7 L1413.35,114.95 L1412.51,117.2 L1411.69,119.45 L1410.91,121.7 L1410.23,123.95 L1409.69,126.2 L1409.34,128.45 L1409.2,130.7 L1409.27,132.94 L1409.52,135.19 L1409.91,137.44 L1410.36,139.69 L1410.82,141.94 L1411.21,144.19 L1411.47,146.44 L1411.58,148.69 L1411.54,150.94 L1411.35,153.19 L1411.08,155.44 L1410.75,157.69 L1410.42,159.94 L1410.12,162.19 L1409.88,164.44 L1409.72,166.69 L1409.62,168.94 L1409.58,171.19 L1409.57,173.43 L1409.59,175.68 L1409.63,177.93 L1409.68,180.18 L1409.75,182.43 L1409.84,184.68 L1409.97,186.93 L1410.15,189.18 L1410.38,191.43 L1410.66,193.68 L1410.98,195.93 L1411.33,198.18 L1411.69,200.43 L1412.06,202.68 L1412.4,204.93 L1412.71,207.18 L1412.97,209.43 L1413.18,211.68 L1413.34,213.92 L1413.45,216.17 L1413.54,218.42 L1413.62,220.67 L1413.72,222.92 L1413.86,225.17 L1414.06,227.42 L1414.33,229.67 L1414.69,231.92 L1415.12,234.17 L1415.62,236.42 L1416.17,238.67 L1416.72,240.92 L1417.27,243.17 L1417.78,245.42 L1418.24,247.67 L1418.63,249.92 L1418.95,252.17 L1419.21,254.41 L1419.4,256.66 L1419.54,258.91 L1419.64,261.16 L1419.71,263.41 L1419.75,265.66 L1419.77,267.91 L1419.79,270.16 L1419.8,272.41Z" fill="#8e8e8e" stroke="#5c5c5c" stroke-width="0.8"/>
<polygon points="1417.45,231.05 1422.15,231.05 1419.8,235.51" fill="#b2b2b2"/>
<polygon points="1417.45,221.67 1422.15,221.67 1419.8,226.13" fill="#b2b2b2"/>
<polygon points="1417.45,207.6 1422.15,207.6 1419.8,212.06" fill="#b2b2b2"/>
<polygon points="1417.45,195.87 1422.15,195.87 1419.8,200.34" fill="#b2b2b2"/>
<polygon points="1417.45,188.84 1422.15,188.84 1419.8,193.3" fill="#b2b2b2"/>
<polygon points="1417.45,181.8 1422.15,181.8 1419.8,186.27" fill="#b2b2b2"/>
<polygon points="1417.45,174.77 1422.15,174.77 1419.8,179.23" fill="#b2b2b2"/>
<polygon points="1417.45,165.39 1422.15,165.39 1419.8,169.85" fill="#b2b2b2"/>
<polygon points="1409.05,158.35 1413.75,158.35 1411.4,162.82" fill="#b2b2b2"/>
<polygon points="1425.85,156.01 1430.55,156.01 1428.2,160.47" fill="#b2b2b2"/>
<polygon points="1417.45,137.25 1422.15,137.25 1419.8,141.71" fill="#b2b2b2"/>
<polygon points="1409.05,127.87 1413.75,127.87 1411.4,132.33" fill="#b2b2b2"/>
<polygon points="1417.45,127.87 1422.15,127.87 1419.8,132.33" fill="#b2b2b2"/>
<polygon points="1425.85,125.52 1430.55,125.52 1428.2,129.99" fill="#b2b2b2"/>
<polygon points="1417.45,109.11 1422.15,109.11 1419.8,113.57" fill="#b2b2b2"/>
<line x1="1411.32" y1="198.11" x2="1428.28" y2="198.11" stroke="#1a1a1a" stroke-width="0.8" stroke-linecap="butt" stroke-dasharray="1.3 1.7"/>
<line x1="1409.24" y1="130.1" x2="1430.36" y2="130.1" stroke="#1a1a1a" stroke-width="0.8" stroke-linecap="butt" stroke-dasharray="1.3 1.7"/>
<path d="M1451.8,265.97 L1451.81,264.05 L1451.83,262.13 L1451.86,260.21 L1451.92,258.29 L1452.01,256.37 L1452.15,254.45 L1452.35,252.53 L1452.59,250.61 L1452.87,248.69 L1453.16,246.77 L1453.43,244.85 L1453.63,242.93 L1453.74,241.01 L1453.72,239.09 L1453.6,237.17 L1453.39,235.25 L1453.13,233.33 L1452.88,231.41 L1452.69,229.49 L1452.58,227.57 L1452.59,225.65 L1452.72,223.73 L1452.98,221.8 L1453.34,219.88 L1453.78,217.96 L1454.25,216.04 L1454.7,214.12 L1455.08,212.2 L1455.35,210.28 L1455.5,208.36 L1455.53,206.44 L1455.49,204.52 L1455.43,202.6 L1455.42,200.68 L1455.51,198.76 L1455.74,196.84 L1456.14,194.92 L1456.68,193 L1457.35,191.08 L1458.1,189.16 L1458.9,187.24 L1459.71,185.32 L1460.49,183.4 L1461.2,181.48 L1461.79,179.56 L1462.2,177.64 L1462.4,175.72 L1462.36,173.8 L1462.07,171.88 L1461.56,169.96 L1460.86,168.04 L1460.04,166.11 L1459.14,164.19 L1458.21,162.27 L1457.3,160.35 L1456.43,158.43 L1455.63,156.51 L1454.93,154.59 L1454.36,152.67 L1453.94,150.75 L1453.71,148.83 L1453.66,146.91 L1453.78,144.99 L1454.06,143.07 L1454.43,141.15 L1454.85,139.23 L1455.24,137.31 L1455.58,135.39 L1455.81,133.47 L1455.94,131.55 L1455.95,129.63 L1455.86,127.71 L1455.69,125.79 L1455.43,123.87 L1455.11,121.95 L1454.73,120.03 L1454.3,118.11 L1453.86,116.19 L1453.42,114.27 L1453.02,112.35 L1452.67,110.42 L1452.39,108.5 L1452.17,106.58 L1452.02,104.66 L1451.92,102.74 L1451.86,100.82 L1451.83,98.9 L1451.81,96.98 L1451.8,95.06 L1451.8,95.06 L1451.79,96.98 L1451.77,98.9 L1451.74,100.82 L1451.68,102.74 L1451.58,104.66 L1451.43,106.58 L1451.21,108.5 L1450.93,110.42 L1450.58,112.35 L1450.18,114.27 L1449.74,116.19 L1449.3,118.11 L1448.87,120.03 L1448.49,121.95 L1448.17,123.87 L1447.91,125.79 L1447.74,127.71 L1447.65,129.63 L1447.66,131.55 L1447.79,133.47 L1448.02,135.39 L1448.36,137.31 L1448.75,139.23 L1449.17,141.15 L1449.54,143.07 L1449.82,144.99 L1449.94,146.91 L1449.89,148.83 L1449.66,150.75 L1449.24,152.67 L1448.67,154.59 L1447.97,156.51 L1447.17,158.43 L1446.3,160.35 L1445.39,162.27 L1444.46,164.19 L1443.56,166.11 L1442.74,168.04 L1442.04,169.96 L1441.53,171.88 L1441.24,173.8 L1441.2,175.72 L1441.4,177.64 L1441.81,179.56 L1442.4,181.48 L1443.11,183.4 L1443.89,185.32 L1444.7,187.24 L1445.5,189.16 L1446.25,191.08 L1446.92,193 L1447.46,194.92 L1447.86,196.84 L1448.09,198.76 L1448.18,200.68 L1448.17,202.6 L1448.11,204.52 L1448.07,206.44 L1448.1,208.36 L1448.25,210.28 L1448.52,212.2 L1448.9,214.12 L1449.35,216.04 L1449.82,217.96 L1450.26,219.88 L1450.62,221.8 L1450.88,223.73 L1451.01,225.65 L1451.02,227.57 L1450.91,229.49 L1450.72,231.41 L1450.47,233.33 L1450.21,235.25 L1450,237.17 L1449.88,239.09 L1449.86,241.01 L1449.97,242.93 L1450.17,244.85 L1450.44,246.77 L1450.73,248.69 L1451.01,250.61 L1451.25,252.53 L1451.45,254.45 L1451.59,256.37 L1451.68,258.29 L1451.74,260.21 L1451.77,262.13 L1451.79,264.05 L1451.8,265.97Z" fill="#6e6e6e" stroke="#3c3c3c" stroke-width="0.8"/>
<polygon points="1449.45,242.55 1454.15,242.55 1451.8,238.08" fill="#aaaaaa"/>
<polygon points="1449.45,214.41 1454.15,214.41 1451.8,209.94" fill="#aaaaaa"/>
<polygon points="1449.45,207.37 1454.15,207.37 1451.8,202.91" fill="#aaaaaa"/>
<polygon points="1449.45,193.3 1454.15,193.3 1451.8,188.84" fill="#aaaaaa"/>
<polygon points="1449.45,188.61 1454.15,188.61 1451.8,184.15" fill="#aaaaaa"/>
<polygon points="1449.45,181.58 1454.15,181.58 1451.8,177.11" fill="#aaaaaa"/>
<polygon points="1457.85,181.58 1462.55,181.58 1460.2,177.11" fill="#aaaaaa"/>
<polygon points="1441.05,176.89 1445.75,176.89 1443.4,172.42" fill="#aaaaaa"/>
<polygon points="1457.85,174.54 1462.55,174.54 1460.2,170.08" fill="#aaaaaa"/>
<polygon points="1449.45,172.2 1454.15,172.2 1451.8,167.73" fill="#aaaaaa"/>
<polygon points="1449.45,167.51 1454.15,167.51 1451.8,163.04" fill="#aaaaaa"/>
<polygon points="1449.45,160.47 1454.15,160.47 1451.8,156.01" fill="#aaaaaa"/>
<polygon points="1449.45,139.37 1454.15,139.37 1451.8,134.9" fill="#aaaaaa"/>
<polygon points="1449.45,132.33 1454.15,132.33 1451.8,127.87" fill="#aaaaaa"/>
<polygon points="1449.45,122.95 1454.15,122.95 1451.8,118.49" fill="#aaaaaa"/>
<line x1="1446.25" y1="191.07" x2="1457.35" y2="191.07" stroke="#1a1a1a" stroke-width="0.8" stroke-linecap="butt" stroke-dasharray="1.3 1.7"/>
<line x1="1447.25" y1="158.24" x2="1456.35" y2="158.24" stroke="#1a1a1a" stroke-width="0.8" stroke-linecap="butt" stroke-dasharray="1.3 1.7"/>
<path d="M1505.3,294.92 L1505.31,292.96 L1505.32,290.99 L1505.34,289.03 L1505.38,287.06 L1505.44,285.1 L1505.53,283.13 L1505.65,281.17 L1505.82,279.2 L1506.02,277.24 L1506.25,275.27 L1506.51,273.31 L1506.77,271.34 L1507,269.38 L1507.19,267.41 L1507.31,265.45 L1507.35,263.48 L1507.3,261.52 L1507.18,259.55 L1507.01,257.59 L1506.81,255.62 L1506.62,253.66 L1506.48,251.69 L1506.39,249.73 L1506.39,247.76 L1506.47,245.8 L1506.62,243.83 L1506.83,241.87 L1507.08,239.91 L1507.35,237.94 L1507.63,235.98 L1507.92,234.01 L1508.23,232.05 L1508.59,230.08 L1509.03,228.12 L1509.58,226.15 L1510.23,224.19 L1510.99,222.22 L1511.81,220.26 L1512.62,218.29 L1513.34,216.33 L1513.89,214.36 L1514.21,212.4 L1514.27,210.43 L1514.07,208.47 L1513.67,206.5 L1513.13,204.54 L1512.53,202.57 L1511.95,200.61 L1511.46,198.64 L1511.11,196.68 L1510.95,194.71 L1510.98,192.75 L1511.2,190.78 L1511.62,188.82 L1512.19,186.85 L1512.88,184.89 L1513.62,182.92 L1514.35,180.96 L1514.99,178.99 L1515.49,177.03 L1515.8,175.06 L1515.9,173.1 L1515.79,171.14 L1515.51,169.17 L1515.09,167.21 L1514.59,165.24 L1514.03,163.28 L1513.45,161.31 L1512.86,159.35 L1512.25,157.38 L1511.63,155.42 L1510.97,153.45 L1510.3,151.49 L1509.61,149.52 L1508.92,147.56 L1508.26,145.59 L1507.65,143.63 L1507.11,141.66 L1506.64,139.7 L1506.26,137.73 L1505.96,135.77 L1505.74,133.8 L1505.58,131.84 L1505.47,129.87 L1505.4,127.91 L1505.35,125.94 L1505.32,123.98 L1505.31,122.01 L1505.3,120.05 L1505.3,120.05 L1505.29,122.01 L1505.28,123.98 L1505.25,125.94 L1505.2,127.91 L1505.13,129.87 L1505.02,131.84 L1504.86,133.8 L1504.64,135.77 L1504.34,137.73 L1503.96,139.7 L1503.49,141.66 L1502.95,143.63 L1502.34,145.59 L1501.68,147.56 L1500.99,149.52 L1500.3,151.49 L1499.63,153.45 L1498.97,155.42 L1498.35,157.38 L1497.74,159.35 L1497.15,161.31 L1496.57,163.28 L1496.01,165.24 L1495.51,167.21 L1495.09,169.17 L1494.81,171.14 L1494.7,173.1 L1494.8,175.06 L1495.11,177.03 L1495.61,178.99 L1496.25,180.96 L1496.98,182.92 L1497.72,184.89 L1498.41,186.85 L1498.98,188.82 L1499.4,190.78 L1499.62,192.75 L1499.65,194.71 L1499.49,196.68 L1499.14,198.64 L1498.65,200.61 L1498.07,202.57 L1497.47,204.54 L1496.93,206.5 L1496.53,208.47 L1496.33,210.43 L1496.39,212.4 L1496.71,214.36 L1497.26,216.33 L1497.98,218.29 L1498.79,220.26 L1499.61,222.22 L1500.37,224.19 L1501.02,226.15 L1501.57,228.12 L1502.01,230.08 L1502.37,232.05 L1502.68,234.01 L1502.97,235.98 L1503.25,237.94 L1503.52,239.91 L1503.77,241.87 L1503.98,243.83 L1504.13,245.8 L1504.21,247.76 L1504.21,249.73 L1504.12,251.69 L1503.98,253.66 L1503.79,255.62 L1503.59,257.59 L1503.42,259.55 L1503.3,261.52 L1503.25,263.48 L1503.29,265.45 L1503.41,267.41 L1503.6,269.38 L1503.83,271.34 L1504.09,273.31 L1504.35,275.27 L1504.58,277.24 L1504.78,279.2 L1504.95,281.17 L1505.07,283.13 L1505.16,285.1 L1505.22,287.06 L1505.26,289.03 L1505.28,290.99 L1505.29,292.96 L1505.3,294.92Z" fill="#8e8e8e" stroke="#5c5c5c" stroke-width="0.8"/>
<polygon points="1502.95,261.53 1507.65,261.53 1505.3,266" fill="#b2b2b2"/>
<polygon points="1502.95,231.05 1507.65,231.05 1505.3,235.51" fill="#b2b2b2"/>
<polygon points="1494.55,212.29 1499.25,212.29 1496.9,216.75" fill="#b2b2b2"/>
<polygon points="1502.95,209.94 1507.65,209.94 1505.3,214.41" fill="#b2b2b2"/>
<polygon points="1511.35,209.94 1516.05,209.94 1513.7,214.41" fill="#b2b2b2"/>
<polygon points="1502.95,207.6 1507.65,207.6 1505.3,212.06" fill="#b2b2b2"/>
<polygon points="1502.95,195.87 1507.65,195.87 1505.3,200.34" fill="#b2b2b2"/>
<polygon points="1502.95,184.15 1507.65,184.15 1505.3,188.61" fill="#b2b2b2"/>
<polygon points="1494.55,174.77 1499.25,174.77 1496.9,179.23" fill="#b2b2b2"/>
<polygon points="1502.95,172.42 1507.65,172.42 1505.3,176.89" fill="#b2b2b2"/>
<polygon points="1511.35,172.42 1516.05,172.42 1513.7,176.89" fill="#b2b2b2"/>
<polygon points="1502.95,170.08 1507.65,170.08 1505.3,174.54" fill="#b2b2b2"/>
<polygon points="1502.95,160.7 1507.65,160.7 1505.3,165.16" fill="#b2b2b2"/>
<polygon points="1502.95,156.01 1507.65,156.01 1505.3,160.47" fill="#b2b2b2"/>
<polygon points="1502.95,148.97 1507.65,148.97 1505.3,153.44" fill="#b2b2b2"/>
<line x1="1496.39" y1="212.18" x2="1514.21" y2="212.18" stroke="#1a1a1a" stroke-width="0.8" stroke-linecap="butt" stroke-dasharray="1.3 1.7"/>
<line x1="1494.74" y1="172.31" x2="1515.86" y2="172.31" stroke="#1a1a1a" stroke-width="0.8" stroke-linecap="butt" stroke-dasharray="1.3 1.7"/>
<path d="M1537.3,284.99 L1537.3,283.78 L1537.31,282.56 L1537.33,281.35 L1537.35,280.13 L1537.39,278.92 L1537.44,277.7 L1537.51,276.49 L1537.6,275.27 L1537.72,274.06 L1537.86,272.84 L1538.03,271.63 L1538.21,270.42 L1538.39,269.2 L1538.58,267.99 L1538.75,266.77 L1538.89,265.56 L1539.02,264.34 L1539.12,263.13 L1539.22,261.91 L1539.34,260.7 L1539.51,259.48 L1539.76,258.27 L1540.13,257.05 L1540.64,255.84 L1541.3,254.62 L1542.11,253.41 L1543.05,252.19 L1544.06,250.98 L1545.08,249.76 L1546.05,248.55 L1546.88,247.33 L1547.49,246.12 L1547.84,244.9 L1547.9,243.69 L1547.66,242.48 L1547.16,241.26 L1546.45,240.05 L1545.59,238.83 L1544.67,237.62 L1543.75,236.4 L1542.89,235.19 L1542.14,233.97 L1541.51,232.76 L1541.03,231.54 L1540.7,230.33 L1540.49,229.11 L1540.41,227.9 L1540.41,226.68 L1540.48,225.47 L1540.59,224.25 L1540.71,223.04 L1540.81,221.82 L1540.89,220.61 L1540.93,219.39 L1540.95,218.18 L1540.96,216.97 L1540.99,215.75 L1541.06,214.54 L1541.19,213.32 L1541.38,212.11 L1541.63,210.89 L1541.92,209.68 L1542.22,208.46 L1542.49,207.25 L1542.7,206.03 L1542.82,204.82 L1542.82,203.6 L1542.7,202.39 L1542.46,201.17 L1542.11,199.96 L1541.67,198.74 L1541.18,197.53 L1540.65,196.31 L1540.12,195.1 L1539.62,193.88 L1539.15,192.67 L1538.74,191.45 L1538.38,190.24 L1538.09,189.03 L1537.86,187.81 L1537.69,186.6 L1537.56,185.38 L1537.47,184.17 L1537.4,182.95 L1537.36,181.74 L1537.33,180.52 L1537.32,179.31 L1537.31,178.09 L1537.3,176.88 L1537.3,176.88 L1537.29,178.09 L1537.28,179.31 L1537.27,180.52 L1537.24,181.74 L1537.2,182.95 L1537.13,184.17 L1537.04,185.38 L1536.91,186.6 L1536.74,187.81 L1536.51,189.03 L1536.22,190.24 L1535.86,191.45 L1535.45,192.67 L1534.98,193.88 L1534.48,195.1 L1533.95,196.31 L1533.42,197.53 L1532.93,198.74 L1532.49,199.96 L1532.14,201.17 L1531.9,202.39 L1531.78,203.6 L1531.78,204.82 L1531.9,206.03 L1532.11,207.25 L1532.38,208.46 L1532.68,209.68 L1532.97,210.89 L1533.22,212.11 L1533.41,213.32 L1533.54,214.54 L1533.61,215.75 L1533.64,216.97 L1533.65,218.18 L1533.67,219.39 L1533.71,220.61 L1533.79,221.82 L1533.89,223.04 L1534.01,224.25 L1534.12,225.47 L1534.19,226.68 L1534.19,227.9 L1534.11,229.11 L1533.9,230.33 L1533.57,231.54 L1533.09,232.76 L1532.46,233.97 L1531.71,235.19 L1530.85,236.4 L1529.93,237.62 L1529.01,238.83 L1528.15,240.05 L1527.44,241.26 L1526.94,242.48 L1526.7,243.69 L1526.76,244.9 L1527.11,246.12 L1527.72,247.33 L1528.55,248.55 L1529.52,249.76 L1530.54,250.98 L1531.55,252.19 L1532.49,253.41 L1533.3,254.62 L1533.96,255.84 L1534.47,257.05 L1534.84,258.27 L1535.09,259.48 L1535.26,260.7 L1535.38,261.91 L1535.48,263.13 L1535.58,264.34 L1535.71,265.56 L1535.85,266.77 L1536.02,267.99 L1536.21,269.2 L1536.39,270.42 L1536.57,271.63 L1536.74,272.84 L1536.88,274.06 L1537,275.27 L1537.09,276.49 L1537.16,277.7 L1537.21,278.92 L1537.25,280.13 L1537.27,281.35 L1537.29,282.56 L1537.3,283.78 L1537.3,284.99Z" fill="#6e6e6e" stroke="#3c3c3c" stroke-width="0.8"/>
<polygon points="1534.95,266 1539.65,266 1537.3,261.53" fill="#aaaaaa"/>
<polygon points="1534.95,251.93 1539.65,251.93 1537.3,247.46" fill="#aaaaaa"/>
<polygon points="1526.55,247.24 1531.25,247.24 1528.9,242.77" fill="#aaaaaa"/>
<polygon points="1534.95,247.24 1539.65,247.24 1537.3,242.77" fill="#aaaaaa"/>
<polygon points="1543.35,247.24 1548.05,247.24 1545.7,242.77" fill="#aaaaaa"/>
<polygon points="1526.55,244.89 1531.25,244.89 1528.9,240.43" fill="#aaaaaa"/>
<polygon points="1534.95,244.89 1539.65,244.89 1537.3,240.43" fill="#aaaaaa"/>
<polygon points="1543.35,244.89 1548.05,244.89 1545.7,240.43" fill="#aaaaaa"/>
<polygon points="1534.95,235.51 1539.65,235.51 1537.3,231.05" fill="#aaaaaa"/>
<polygon points="1526.55,223.79 1531.25,223.79 1528.9,219.32" fill="#aaaaaa"/>
<polygon points="1543.35,221.44 1548.05,221.44 1545.7,216.98" fill="#aaaaaa"/>
<polygon points="1526.55,209.72 1531.25,209.72 1528.9,205.25" fill="#aaaaaa"/>
<polygon points="1543.35,207.37 1548.05,207.37 1545.7,202.91" fill="#aaaaaa"/>
<polygon points="1534.95,205.03 1539.65,205.03 1537.3,200.56" fill="#aaaaaa"/>
<polygon points="1534.95,200.34 1539.65,200.34 1537.3,195.87" fill="#aaaaaa"/>
<line x1="1526.79" y1="245.01" x2="1547.81" y2="245.01" stroke="#1a1a1a" stroke-width="0.8" stroke-linecap="butt" stroke-dasharray="1.3 1.7"/>
<line x1="1532.16" y1="207.49" x2="1542.44" y2="207.49" stroke="#1a1a1a" stroke-width="0.8" stroke-linecap="butt" stroke-dasharray="1.3 1.7"/>
<path d="M1590.8,284.66 L1590.81,283.21 L1590.82,281.77 L1590.85,280.33 L1590.89,278.88 L1590.95,277.44 L1591.04,275.99 L1591.16,274.55 L1591.34,273.1 L1591.57,271.66 L1591.87,270.21 L1592.22,268.77 L1592.64,267.33 L1593.09,265.88 L1593.57,264.44 L1594.04,262.99 L1594.48,261.55 L1594.85,260.1 L1595.13,258.66 L1595.29,257.21 L1595.35,255.77 L1595.31,254.33 L1595.19,252.88 L1595.05,251.44 L1594.92,249.99 L1594.86,248.55 L1594.9,247.1 L1595.08,245.66 L1595.4,244.22 L1595.87,242.77 L1596.45,241.33 L1597.12,239.88 L1597.83,238.44 L1598.51,236.99 L1599.13,235.55 L1599.63,234.1 L1600.01,232.66 L1600.24,231.22 L1600.33,229.77 L1600.31,228.33 L1600.21,226.88 L1600.06,225.44 L1599.89,223.99 L1599.71,222.55 L1599.53,221.1 L1599.34,219.66 L1599.14,218.22 L1598.91,216.77 L1598.66,215.33 L1598.37,213.88 L1598.09,212.44 L1597.83,210.99 L1597.63,209.55 L1597.53,208.11 L1597.56,206.66 L1597.74,205.22 L1598.05,203.77 L1598.5,202.33 L1599.03,200.88 L1599.61,199.44 L1600.18,197.99 L1600.68,196.55 L1601.08,195.11 L1601.32,193.66 L1601.4,192.22 L1601.29,190.77 L1601.01,189.33 L1600.56,187.88 L1599.96,186.44 L1599.25,184.99 L1598.45,183.55 L1597.59,182.11 L1596.72,180.66 L1595.84,179.22 L1595.01,177.77 L1594.23,176.33 L1593.53,174.88 L1592.91,173.44 L1592.39,171.99 L1591.97,170.55 L1591.63,169.11 L1591.37,167.66 L1591.18,166.22 L1591.05,164.77 L1590.95,163.33 L1590.89,161.88 L1590.85,160.44 L1590.82,159 L1590.81,157.55 L1590.8,156.11 L1590.8,156.11 L1590.79,157.55 L1590.78,159 L1590.75,160.44 L1590.71,161.88 L1590.65,163.33 L1590.55,164.77 L1590.42,166.22 L1590.23,167.66 L1589.97,169.11 L1589.63,170.55 L1589.21,171.99 L1588.69,173.44 L1588.07,174.88 L1587.37,176.33 L1586.59,177.77 L1585.76,179.22 L1584.88,180.66 L1584.01,182.11 L1583.15,183.55 L1582.35,184.99 L1581.64,186.44 L1581.04,187.88 L1580.59,189.33 L1580.31,190.77 L1580.2,192.22 L1580.28,193.66 L1580.52,195.11 L1580.92,196.55 L1581.42,197.99 L1581.99,199.44 L1582.57,200.88 L1583.1,202.33 L1583.55,203.77 L1583.86,205.22 L1584.04,206.66 L1584.07,208.11 L1583.97,209.55 L1583.77,210.99 L1583.51,212.44 L1583.23,213.88 L1582.94,215.33 L1582.69,216.77 L1582.46,218.22 L1582.26,219.66 L1582.07,221.1 L1581.89,222.55 L1581.71,223.99 L1581.54,225.44 L1581.39,226.88 L1581.29,228.33 L1581.27,229.77 L1581.36,231.22 L1581.59,232.66 L1581.97,234.1 L1582.47,235.55 L1583.09,236.99 L1583.77,238.44 L1584.48,239.88 L1585.15,241.33 L1585.73,242.77 L1586.2,244.22 L1586.52,245.66 L1586.7,247.1 L1586.74,248.55 L1586.68,249.99 L1586.55,251.44 L1586.41,252.88 L1586.29,254.33 L1586.25,255.77 L1586.31,257.21 L1586.47,258.66 L1586.75,260.1 L1587.12,261.55 L1587.56,262.99 L1588.03,264.44 L1588.51,265.88 L1588.96,267.33 L1589.38,268.77 L1589.73,270.21 L1590.03,271.66 L1590.26,273.1 L1590.44,274.55 L1590.56,275.99 L1590.65,277.44 L1590.71,278.88 L1590.75,280.33 L1590.78,281.77 L1590.79,283.21 L1590.8,284.66Z" fill="#8e8e8e" stroke="#5c5c5c" stroke-width="0.8"/>
<polygon points="1588.45,256.84 1593.15,256.84 1590.8,261.31" fill="#b2b2b2"/>
<polygon points="1588.45,252.15 1593.15,252.15 1590.8,256.62" fill="#b2b2b2"/>
<polygon points="1588.45,235.74 1593.15,235.74 1590.8,240.2" fill="#b2b2b2"/>
<polygon points="1580.05,231.05 1584.75,231.05 1582.4,235.51" fill="#b2b2b2"/>
<polygon points="1596.85,228.7 1601.55,228.7 1599.2,233.17" fill="#b2b2b2"/>
<polygon points="1588.45,226.36 1593.15,226.36 1590.8,230.82" fill="#b2b2b2"/>
<polygon points="1580.05,216.98 1584.75,216.98 1582.4,221.44" fill="#b2b2b2"/>
<polygon points="1596.85,214.63 1601.55,214.63 1599.2,219.1" fill="#b2b2b2"/>
<polygon points="1588.45,209.94 1593.15,209.94 1590.8,214.41" fill="#b2b2b2"/>
<polygon points="1588.45,198.22 1593.15,198.22 1590.8,202.68" fill="#b2b2b2"/>
<polygon points="1588.45,193.53 1593.15,193.53 1590.8,197.99" fill="#b2b2b2"/>
<polygon points="1596.85,191.18 1601.55,191.18 1599.2,195.65" fill="#b2b2b2"/>
<polygon points="1588.45,188.84 1593.15,188.84 1590.8,193.3" fill="#b2b2b2"/>
<polygon points="1588.45,184.15 1593.15,184.15 1590.8,188.61" fill="#b2b2b2"/>
<polygon points="1588.45,179.46 1593.15,179.46 1590.8,183.92" fill="#b2b2b2"/>
<line x1="1581.75" y1="233.28" x2="1599.85" y2="233.28" stroke="#1a1a1a" stroke-width="0.8" stroke-linecap="butt" stroke-dasharray="1.3 1.7"/>
<line x1="1580.26" y1="193.41" x2="1601.34" y2="193.41" stroke="#1a1a1a" stroke-width="0.8" stroke-linecap="butt" stroke-dasharray="1.3 1.7"/>
<path d="M1622.8,348.56 L1622.81,346.84 L1622.83,345.12 L1622.86,343.4 L1622.92,341.68 L1623.01,339.95 L1623.15,338.23 L1623.34,336.51 L1623.58,334.79 L1623.87,333.07 L1624.17,331.35 L1624.47,329.63 L1624.72,327.91 L1624.88,326.19 L1624.94,324.47 L1624.89,322.74 L1624.75,321.02 L1624.57,319.3 L1624.39,317.58 L1624.26,315.86 L1624.22,314.14 L1624.27,312.42 L1624.4,310.7 L1624.58,308.98 L1624.76,307.25 L1624.9,305.53 L1624.95,303.81 L1624.9,302.09 L1624.75,300.37 L1624.53,298.65 L1624.3,296.93 L1624.08,295.21 L1623.94,293.49 L1623.9,291.76 L1623.97,290.04 L1624.14,288.32 L1624.39,286.6 L1624.69,284.88 L1625,283.16 L1625.31,281.44 L1625.62,279.72 L1625.94,278 L1626.32,276.28 L1626.8,274.55 L1627.38,272.83 L1628.05,271.11 L1628.77,269.39 L1629.48,267.67 L1630.11,265.95 L1630.62,264.23 L1631.02,262.51 L1631.36,260.79 L1631.68,259.06 L1632.03,257.34 L1632.43,255.62 L1632.84,253.9 L1633.19,252.18 L1633.4,250.46 L1633.38,248.74 L1633.11,247.02 L1632.58,245.3 L1631.86,243.57 L1631.03,241.85 L1630.19,240.13 L1629.43,238.41 L1628.84,236.69 L1628.45,234.97 L1628.29,233.25 L1628.34,231.53 L1628.55,229.81 L1628.85,228.09 L1629.15,226.36 L1629.33,224.64 L1629.32,222.92 L1629.07,221.2 L1628.59,219.48 L1627.9,217.76 L1627.08,216.04 L1626.22,214.32 L1625.4,212.6 L1624.68,210.87 L1624.09,209.15 L1623.64,207.43 L1623.31,205.71 L1623.1,203.99 L1622.96,202.27 L1622.88,200.55 L1622.84,198.83 L1622.81,197.11 L1622.8,195.38 L1622.8,195.38 L1622.79,197.11 L1622.76,198.83 L1622.72,200.55 L1622.64,202.27 L1622.5,203.99 L1622.29,205.71 L1621.96,207.43 L1621.51,209.15 L1620.92,210.87 L1620.2,212.6 L1619.38,214.32 L1618.52,216.04 L1617.7,217.76 L1617.01,219.48 L1616.53,221.2 L1616.28,222.92 L1616.27,224.64 L1616.45,226.36 L1616.75,228.09 L1617.05,229.81 L1617.26,231.53 L1617.31,233.25 L1617.15,234.97 L1616.76,236.69 L1616.17,238.41 L1615.41,240.13 L1614.57,241.85 L1613.74,243.57 L1613.02,245.3 L1612.49,247.02 L1612.22,248.74 L1612.2,250.46 L1612.41,252.18 L1612.76,253.9 L1613.17,255.62 L1613.57,257.34 L1613.92,259.06 L1614.24,260.79 L1614.58,262.51 L1614.98,264.23 L1615.49,265.95 L1616.12,267.67 L1616.83,269.39 L1617.55,271.11 L1618.22,272.83 L1618.8,274.55 L1619.28,276.28 L1619.66,278 L1619.98,279.72 L1620.29,281.44 L1620.6,283.16 L1620.91,284.88 L1621.21,286.6 L1621.46,288.32 L1621.63,290.04 L1621.7,291.76 L1621.66,293.49 L1621.52,295.21 L1621.3,296.93 L1621.07,298.65 L1620.85,300.37 L1620.7,302.09 L1620.65,303.81 L1620.7,305.53 L1620.84,307.25 L1621.02,308.98 L1621.2,310.7 L1621.33,312.42 L1621.38,314.14 L1621.34,315.86 L1621.21,317.58 L1621.03,319.3 L1620.85,321.02 L1620.71,322.74 L1620.66,324.47 L1620.72,326.19 L1620.88,327.91 L1621.13,329.63 L1621.43,331.35 L1621.73,333.07 L1622.02,334.79 L1622.26,336.51 L1622.45,338.23 L1622.59,339.95 L1622.68,341.68 L1622.74,343.4 L1622.77,345.12 L1622.79,346.84 L1622.8,348.56Z" fill="#6e6e6e" stroke="#3c3c3c" stroke-width="0.8"/>
<polygon points="1620.45,326.97 1625.15,326.97 1622.8,322.5" fill="#aaaaaa"/>
<polygon points="1620.45,305.86 1625.15,305.86 1622.8,301.4" fill="#aaaaaa"/>
<polygon points="1620.45,282.41 1625.15,282.41 1622.8,277.95" fill="#aaaaaa"/>
<polygon points="1612.05,268.34 1616.75,268.34 1614.4,263.88" fill="#aaaaaa"/>
<polygon points="1620.45,266 1625.15,266 1622.8,261.53" fill="#aaaaaa"/>
<polygon points="1628.85,266 1633.55,266 1631.2,261.53" fill="#aaaaaa"/>
<polygon points="1612.05,254.27 1616.75,254.27 1614.4,249.81" fill="#aaaaaa"/>
<polygon points="1620.45,254.27 1625.15,254.27 1622.8,249.81" fill="#aaaaaa"/>
<polygon points="1628.85,251.93 1633.55,251.93 1631.2,247.46" fill="#aaaaaa"/>
<polygon points="1612.05,247.24 1616.75,247.24 1614.4,242.77" fill="#aaaaaa"/>
<polygon points="1628.85,247.24 1633.55,247.24 1631.2,242.77" fill="#aaaaaa"/>
<polygon points="1620.45,237.86 1625.15,237.86 1622.8,233.39" fill="#aaaaaa"/>
<polygon points="1612.05,226.13 1616.75,226.13 1614.4,221.67" fill="#aaaaaa"/>
<polygon points="1628.85,226.13 1633.55,226.13 1631.2,221.67" fill="#aaaaaa"/>
<polygon points="1620.45,221.44 1625.15,221.44 1622.8,216.98" fill="#aaaaaa"/>
<line x1="1615.55" y1="266.11" x2="1630.05" y2="266.11" stroke="#1a1a1a" stroke-width="0.8" stroke-linecap="butt" stroke-dasharray="1.3 1.7"/>
<line x1="1617" y1="235.63" x2="1628.6" y2="235.63" stroke="#1a1a1a" stroke-width="0.8" stroke-linecap="butt" stroke-dasharray="1.3 1.7"/>
<path d="M1675.61,304.52 L1675.63,303.15 L1675.67,301.79 L1675.73,300.43 L1675.83,299.06 L1675.98,297.7 L1676.21,296.34 L1676.54,294.97 L1676.99,293.61 L1677.56,292.24 L1678.25,290.88 L1679.03,289.52 L1679.86,288.15 L1680.67,286.79 L1681.39,285.43 L1681.94,284.06 L1682.27,282.7 L1682.32,281.33 L1682.1,279.97 L1681.64,278.61 L1681,277.24 L1680.24,275.88 L1679.47,274.52 L1678.77,273.15 L1678.2,271.79 L1677.83,270.42 L1677.69,269.06 L1677.82,267.7 L1678.22,266.33 L1678.88,264.97 L1679.77,263.61 L1680.84,262.24 L1682.01,260.88 L1683.2,259.52 L1684.28,258.15 L1685.18,256.79 L1685.82,255.42 L1686.16,254.06 L1686.2,252.7 L1685.99,251.33 L1685.62,249.97 L1685.17,248.61 L1684.75,247.24 L1684.43,245.88 L1684.26,244.51 L1684.27,243.15 L1684.42,241.79 L1684.67,240.42 L1684.95,239.06 L1685.21,237.7 L1685.39,236.33 L1685.45,234.97 L1685.36,233.6 L1685.14,232.24 L1684.79,230.88 L1684.33,229.51 L1683.79,228.15 L1683.2,226.79 L1682.58,225.42 L1681.95,224.06 L1681.34,222.7 L1680.76,221.33 L1680.22,219.97 L1679.74,218.6 L1679.31,217.24 L1678.96,215.88 L1678.68,214.51 L1678.48,213.15 L1678.36,211.79 L1678.29,210.42 L1678.26,209.06 L1678.23,207.69 L1678.19,206.33 L1678.1,204.97 L1677.95,203.6 L1677.74,202.24 L1677.49,200.88 L1677.2,199.51 L1676.9,198.15 L1676.62,196.78 L1676.36,195.42 L1676.15,194.06 L1675.98,192.69 L1675.85,191.33 L1675.75,189.97 L1675.69,188.6 L1675.65,187.24 L1675.62,185.87 L1675.61,184.51 L1675.6,183.15 L1675.6,183.15 L1675.59,184.51 L1675.58,185.87 L1675.55,187.24 L1675.51,188.6 L1675.45,189.97 L1675.35,191.33 L1675.22,192.69 L1675.05,194.06 L1674.84,195.42 L1674.58,196.78 L1674.3,198.15 L1674,199.51 L1673.71,200.88 L1673.46,202.24 L1673.25,203.6 L1673.1,204.97 L1673.01,206.33 L1672.97,207.69 L1672.94,209.06 L1672.91,210.42 L1672.84,211.79 L1672.72,213.15 L1672.52,214.51 L1672.24,215.88 L1671.89,217.24 L1671.46,218.6 L1670.98,219.97 L1670.44,221.33 L1669.86,222.7 L1669.25,224.06 L1668.62,225.42 L1668,226.79 L1667.41,228.15 L1666.87,229.51 L1666.41,230.88 L1666.06,232.24 L1665.84,233.6 L1665.75,234.97 L1665.81,236.33 L1665.99,237.7 L1666.25,239.06 L1666.53,240.42 L1666.78,241.79 L1666.93,243.15 L1666.94,244.51 L1666.77,245.88 L1666.45,247.24 L1666.03,248.61 L1665.58,249.97 L1665.21,251.33 L1665,252.7 L1665.04,254.06 L1665.38,255.42 L1666.02,256.79 L1666.92,258.15 L1668,259.52 L1669.19,260.88 L1670.36,262.24 L1671.43,263.61 L1672.32,264.97 L1672.98,266.33 L1673.38,267.7 L1673.51,269.06 L1673.37,270.42 L1673,271.79 L1672.43,273.15 L1671.73,274.52 L1670.96,275.88 L1670.2,277.24 L1669.56,278.61 L1669.1,279.97 L1668.88,281.33 L1668.93,282.7 L1669.26,284.06 L1669.81,285.43 L1670.53,286.79 L1671.34,288.15 L1672.17,289.52 L1672.95,290.88 L1673.64,292.24 L1674.21,293.61 L1674.66,294.97 L1674.99,296.34 L1675.22,297.7 L1675.37,299.06 L1675.47,300.43 L1675.53,301.79 L1675.57,303.15 L1675.59,304.52Z" fill="#8e8e8e" stroke="#5c5c5c" stroke-width="0.8"/>
<polygon points="1664.85,280.29 1669.55,280.29 1667.2,284.76" fill="#b2b2b2"/>
<polygon points="1673.25,280.29 1677.95,280.29 1675.6,284.76" fill="#b2b2b2"/>
<polygon points="1681.65,277.95 1686.35,277.95 1684,282.41" fill="#b2b2b2"/>
<polygon points="1664.85,254.5 1669.55,254.5 1667.2,258.96" fill="#b2b2b2"/>
<polygon points="1673.25,252.15 1677.95,252.15 1675.6,256.62" fill="#b2b2b2"/>
<polygon points="1681.65,252.15 1686.35,252.15 1684,256.62" fill="#b2b2b2"/>
<polygon points="1673.25,252.15 1677.95,252.15 1675.6,256.62" fill="#b2b2b2"/>
<polygon points="1673.25,245.12 1677.95,245.12 1675.6,249.58" fill="#b2b2b2"/>
<polygon points="1664.85,235.74 1669.55,235.74 1667.2,240.2" fill="#b2b2b2"/>
<polygon points="1673.25,235.74 1677.95,235.74 1675.6,240.2" fill="#b2b2b2"/>
<polygon points="1681.65,233.39 1686.35,233.39 1684,237.86" fill="#b2b2b2"/>
<polygon points="1673.25,226.36 1677.95,226.36 1675.6,230.82" fill="#b2b2b2"/>
<polygon points="1681.65,226.36 1686.35,226.36 1684,230.82" fill="#b2b2b2"/>
<polygon points="1673.25,216.98 1677.95,216.98 1675.6,221.44" fill="#b2b2b2"/>
<polygon points="1673.25,202.91 1677.95,202.91 1675.6,207.37" fill="#b2b2b2"/>
<line x1="1665.99" y1="256.73" x2="1685.21" y2="256.73" stroke="#1a1a1a" stroke-width="0.8" stroke-linecap="butt" stroke-dasharray="1.3 1.7"/>
<line x1="1667.23" y1="228.59" x2="1683.97" y2="228.59" stroke="#1a1a1a" stroke-width="0.8" stroke-linecap="butt" stroke-dasharray="1.3 1.7"/>
<path d="M1707.6,337.37 L1707.61,336.01 L1707.62,334.64 L1707.64,333.28 L1707.68,331.92 L1707.73,330.55 L1707.82,329.19 L1707.93,327.82 L1708.08,326.46 L1708.27,325.09 L1708.49,323.73 L1708.74,322.37 L1709,321 L1709.25,319.64 L1709.48,318.27 L1709.66,316.91 L1709.79,315.54 L1709.86,314.18 L1709.9,312.82 L1709.91,311.45 L1709.93,310.09 L1709.97,308.72 L1710.05,307.36 L1710.18,305.99 L1710.37,304.63 L1710.6,303.27 L1710.89,301.9 L1711.21,300.54 L1711.56,299.17 L1711.94,297.81 L1712.33,296.44 L1712.7,295.08 L1713.05,293.72 L1713.33,292.35 L1713.53,290.99 L1713.63,289.62 L1713.63,288.26 L1713.55,286.89 L1713.42,285.53 L1713.29,284.17 L1713.22,282.8 L1713.26,281.44 L1713.45,280.07 L1713.8,278.71 L1714.3,277.34 L1714.94,275.98 L1715.65,274.62 L1716.37,273.25 L1717.04,271.89 L1717.59,270.52 L1717.98,269.16 L1718.18,267.79 L1718.2,266.43 L1718.05,265.07 L1717.77,263.7 L1717.41,262.34 L1716.99,260.97 L1716.57,259.61 L1716.15,258.24 L1715.75,256.88 L1715.37,255.52 L1714.98,254.15 L1714.58,252.79 L1714.17,251.42 L1713.74,250.06 L1713.3,248.69 L1712.87,247.33 L1712.45,245.97 L1712.06,244.6 L1711.71,243.24 L1711.38,241.87 L1711.07,240.51 L1710.77,239.14 L1710.46,237.78 L1710.14,236.42 L1709.81,235.05 L1709.48,233.69 L1709.14,232.32 L1708.83,230.96 L1708.54,229.59 L1708.3,228.23 L1708.1,226.87 L1707.94,225.5 L1707.82,224.14 L1707.74,222.77 L1707.68,221.41 L1707.64,220.05 L1707.62,218.68 L1707.61,217.32 L1707.6,215.95 L1707.6,215.95 L1707.59,217.32 L1707.58,218.68 L1707.56,220.05 L1707.52,221.41 L1707.46,222.77 L1707.38,224.14 L1707.26,225.5 L1707.1,226.87 L1706.9,228.23 L1706.66,229.59 L1706.37,230.96 L1706.06,232.32 L1705.72,233.69 L1705.39,235.05 L1705.06,236.42 L1704.74,237.78 L1704.43,239.14 L1704.13,240.51 L1703.82,241.87 L1703.49,243.24 L1703.14,244.6 L1702.75,245.97 L1702.33,247.33 L1701.9,248.69 L1701.46,250.06 L1701.03,251.42 L1700.62,252.79 L1700.22,254.15 L1699.83,255.52 L1699.45,256.88 L1699.05,258.24 L1698.63,259.61 L1698.21,260.97 L1697.79,262.34 L1697.43,263.7 L1697.15,265.07 L1697,266.43 L1697.02,267.79 L1697.22,269.16 L1697.61,270.52 L1698.16,271.89 L1698.83,273.25 L1699.55,274.62 L1700.26,275.98 L1700.9,277.34 L1701.4,278.71 L1701.75,280.07 L1701.94,281.44 L1701.98,282.8 L1701.91,284.17 L1701.78,285.53 L1701.65,286.89 L1701.57,288.26 L1701.57,289.62 L1701.67,290.99 L1701.87,292.35 L1702.15,293.72 L1702.5,295.08 L1702.87,296.44 L1703.26,297.81 L1703.64,299.17 L1703.99,300.54 L1704.31,301.9 L1704.6,303.27 L1704.83,304.63 L1705.02,305.99 L1705.15,307.36 L1705.23,308.72 L1705.27,310.09 L1705.29,311.45 L1705.3,312.82 L1705.34,314.18 L1705.41,315.54 L1705.54,316.91 L1705.72,318.27 L1705.95,319.64 L1706.2,321 L1706.46,322.37 L1706.71,323.73 L1706.93,325.09 L1707.12,326.46 L1707.27,327.82 L1707.38,329.19 L1707.47,330.55 L1707.52,331.92 L1707.56,333.28 L1707.58,334.64 L1707.59,336.01 L1707.6,337.37Z" fill="#6e6e6e" stroke="#3c3c3c" stroke-width="0.8"/>
<polygon points="1705.25,317.59 1709.95,317.59 1707.6,313.12" fill="#aaaaaa"/>
<polygon points="1705.25,303.52 1709.95,303.52 1707.6,299.05" fill="#aaaaaa"/>
<polygon points="1705.25,294.14 1709.95,294.14 1707.6,289.67" fill="#aaaaaa"/>
<polygon points="1713.65,291.79 1718.35,291.79 1716,287.33" fill="#aaaaaa"/>
<polygon points="1705.25,287.1 1709.95,287.1 1707.6,282.64" fill="#aaaaaa"/>
<polygon points="1696.85,275.38 1701.55,275.38 1699.2,270.91" fill="#aaaaaa"/>
<polygon points="1713.65,275.38 1718.35,275.38 1716,270.91" fill="#aaaaaa"/>
<polygon points="1696.85,270.69 1701.55,270.69 1699.2,266.22" fill="#aaaaaa"/>
<polygon points="1705.25,268.34 1709.95,268.34 1707.6,263.88" fill="#aaaaaa"/>
<polygon points="1713.65,268.34 1718.35,268.34 1716,263.88" fill="#aaaaaa"/>
<polygon points="1705.25,263.65 1709.95,263.65 1707.6,259.19" fill="#aaaaaa"/>
<polygon points="1705.25,256.62 1709.95,256.62 1707.6,252.15" fill="#aaaaaa"/>
<polygon points="1713.65,256.62 1718.35,256.62 1716,252.15" fill="#aaaaaa"/>
<polygon points="1705.25,249.58 1709.95,249.58 1707.6,245.12" fill="#aaaaaa"/>
<polygon points="1705.25,240.2 1709.95,240.2 1707.6,235.74" fill="#aaaaaa"/>
<line x1="1701.57" y1="289.56" x2="1713.63" y2="289.56" stroke="#1a1a1a" stroke-width="0.8" stroke-linecap="butt" stroke-dasharray="1.3 1.7"/>
<line x1="1700.16" y1="254.39" x2="1715.04" y2="254.39" stroke="#1a1a1a" stroke-width="0.8" stroke-linecap="butt" stroke-dasharray="1.3 1.7"/>
<rect x="1398.85" y="36.3" width="330.45" height="328.3" fill="none" stroke="#000" stroke-width="3.5"/>
<line x1="1389.6" y1="364.6" x2="1398.85" y2="364.6" stroke="#000" stroke-width="3" stroke-linecap="butt"/>
<text x="1386.35" y="370.2" font-family='"Liberation Sans", sans-serif' font-size="15.9" font-weight="bold" text-anchor="end" fill="#000">80</text>
<line x1="1389.6" y1="317.7" x2="1398.85" y2="317.7" stroke="#000" stroke-width="3" stroke-linecap="butt"/>
<text x="1386.35" y="323.3" font-family='"Liberation Sans", sans-serif' font-size="15.9" font-weight="bold" text-anchor="end" fill="#000">100</text>
<line x1="1389.6" y1="270.8" x2="1398.85" y2="270.8" stroke="#000" stroke-width="3" stroke-linecap="butt"/>
<text x="1386.35" y="276.4" font-family='"Liberation Sans", sans-serif' font-size="15.9" font-weight="bold" text-anchor="end" fill="#000">120</text>
<line x1="1389.6" y1="223.9" x2="1398.85" y2="223.9" stroke="#000" stroke-width="3" stroke-linecap="butt"/>
<text x="1386.35" y="229.5" font-family='"Liberation Sans", sans-serif' font-size="15.9" font-weight="bold" text-anchor="end" fill="#000">140</text>
<line x1="1389.6" y1="177" x2="1398.85" y2="177" stroke="#000" stroke-width="3" stroke-linecap="butt"/>
<text x="1386.35" y="182.6" font-family='"Liberation Sans", sans-serif' font-size="15.9" font-weight="bold" text-anchor="end" fill="#000">160</text>
<line x1="1389.6" y1="130.1" x2="1398.85" y2="130.1" stroke="#000" stroke-width="3" stroke-linecap="butt"/>
<text x="1386.35" y="135.7" font-family='"Liberation Sans", sans-serif' font-size="15.9" font-weight="bold" text-anchor="end" fill="#000">180</text>
<line x1="1389.6" y1="83.2" x2="1398.85" y2="83.2" stroke="#000" stroke-width="3" stroke-linecap="butt"/>
<text x="1386.35" y="88.8" font-family='"Liberation Sans", sans-serif' font-size="15.9" font-weight="bold" text-anchor="end" fill="#000">200</text>
<line x1="1389.6" y1="36.3" x2="1398.85" y2="36.3" stroke="#000" stroke-width="3" stroke-linecap="butt"/>
<text x="1386.35" y="41.9" font-family='"Liberation Sans", sans-serif' font-size="15.9" font-weight="bold" text-anchor="end" fill="#000">220</text>
<line x1="1393.3" y1="341.15" x2="1398.85" y2="341.15" stroke="#000" stroke-width="3" stroke-linecap="butt"/>
<line x1="1393.3" y1="294.25" x2="1398.85" y2="294.25" stroke="#000" stroke-width="3" stroke-linecap="butt"/>
<line x1="1393.3" y1="247.35" x2="1398.85" y2="247.35" stroke="#000" stroke-width="3" stroke-linecap="butt"/>
<line x1="1393.3" y1="200.45" x2="1398.85" y2="200.45" stroke="#000" stroke-width="3" stroke-linecap="butt"/>
<line x1="1393.3" y1="153.55" x2="1398.85" y2="153.55" stroke="#000" stroke-width="3" stroke-linecap="butt"/>
<line x1="1393.3" y1="106.65" x2="1398.85" y2="106.65" stroke="#000" stroke-width="3" stroke-linecap="butt"/>
<line x1="1393.3" y1="59.75" x2="1398.85" y2="59.75" stroke="#000" stroke-width="3" stroke-linecap="butt"/>
<line x1="1435.8" y1="364.6" x2="1435.8" y2="374.15" stroke="#000" stroke-width="3" stroke-linecap="butt"/>
<text x="1435.8" y="390.7" font-family='"Liberation Sans", sans-serif' font-size="15.9" font-weight="bold" text-anchor="middle" fill="#000">T0</text>
<line x1="1521.3" y1="364.6" x2="1521.3" y2="374.15" stroke="#000" stroke-width="3" stroke-linecap="butt"/>
<text x="1521.3" y="390.7" font-family='"Liberation Sans", sans-serif' font-size="15.9" font-weight="bold" text-anchor="middle" fill="#000">T1</text>
<line x1="1606.8" y1="364.6" x2="1606.8" y2="374.15" stroke="#000" stroke-width="3" stroke-linecap="butt"/>
<text x="1606.8" y="390.7" font-family='"Liberation Sans", sans-serif' font-size="15.9" font-weight="bold" text-anchor="middle" fill="#000">T2</text>
<line x1="1691.6" y1="364.6" x2="1691.6" y2="374.15" stroke="#000" stroke-width="3" stroke-linecap="butt"/>
<text x="1691.6" y="390.7" font-family='"Liberation Sans", sans-serif' font-size="15.9" font-weight="bold" text-anchor="middle" fill="#000">T3</text>
<text x="1344.5" y="200.45" font-family='"Liberation Sans", sans-serif' font-size="17.0" font-weight="bold" text-anchor="middle" fill="#000" transform="rotate(-90 1344.5 200.45)" dominant-baseline="central">SBP/mmHg</text>
<text x="1564.07" y="418.9" font-family='"Liberation Sans", sans-serif' font-size="17.2" font-weight="bold" text-anchor="middle" fill="#000">Time Point</text>
<polyline points="1420.3,65 1420.3,53.7 1452,53.7 1452,88.8" fill="none" stroke="#000" stroke-width="2"/>
<text x="1436.15" y="49.7" font-family='"Liberation Sans", sans-serif' font-size="15" font-weight="normal" text-anchor="middle" fill="#000">ns</text>
<polyline points="1506.2,116.6 1506.2,106 1538.5,106 1538.5,168.6" fill="none" stroke="#000" stroke-width="2"/>
<text x="1522.35" y="108.9" font-family='"Liberation Sans", sans-serif' font-size="18.5" font-weight="normal" text-anchor="middle" fill="#000">**</text>
<polyline points="1590,153.2 1590,141.9 1622.9,141.9 1622.9,183.9" fill="none" stroke="#000" stroke-width="2"/>
<text x="1606.45" y="144.8" font-family='"Liberation Sans", sans-serif' font-size="18.5" font-weight="normal" text-anchor="middle" fill="#000">**</text>
<polyline points="1676.8,178.4 1676.8,167.7 1708.4,167.7 1708.4,207.4" fill="none" stroke="#000" stroke-width="2"/>
<text x="1692.6" y="170.6" font-family='"Liberation Sans", sans-serif' font-size="18.5" font-weight="normal" text-anchor="middle" fill="#000">*</text>
<rect x="1616.5" y="49.7" width="22" height="8.6" fill="#8e8e8e" stroke="#7c7c7c" stroke-width="1"/>
<text x="1653" y="59" font-family='"Liberation Serif", "Noto Serif CJK SC", serif' font-size="14" font-weight="600" text-anchor="start" fill="#222" letter-spacing="3.4">行为干预</text>
<rect x="1616.5" y="75.6" width="22" height="8.6" fill="#6e6e6e" stroke="#5c5c5c" stroke-width="1"/>
<text x="1653" y="84.5" font-family='"Liberation Serif", "Noto Serif CJK SC", serif' font-size="14" font-weight="600" text-anchor="start" fill="#222" letter-spacing="3.4">药物干预</text>
<text x="1488.67" y="472.2" font-family='"Noto Serif CJK SC", serif' font-size="32" font-weight="normal" text-anchor="start" fill="#111">（</text>
<text x="1533.2" y="474" font-family='"Liberation Serif", serif' font-size="38" font-weight="normal" text-anchor="middle" fill="#111">d</text>
<text x="1546.5" y="472.2" font-family='"Noto Serif CJK SC", serif' font-size="32" font-weight="normal" text-anchor="start" fill="#111">）</text>
</g>
<g id="pe">
<line x1="125.3" y1="584.5" x2="125.3" y2="727.02" stroke="#505050" stroke-width="1.4" stroke-linecap="butt"/>
<line x1="120" y1="584.5" x2="130.6" y2="584.5" stroke="#505050" stroke-width="1.4" stroke-linecap="butt"/>
<line x1="120" y1="727.02" x2="130.6" y2="727.02" stroke="#505050" stroke-width="1.4" stroke-linecap="butt"/>
<rect x="115.5" y="606.43" width="19.6" height="79.48" fill="#8a8a8a" stroke="#2c2c2c" stroke-width="1.4"/>
<line x1="115.5" y1="650.28" x2="135.1" y2="650.28" stroke="#2c2c2c" stroke-width="1.4" stroke-linecap="butt"/>
<line x1="157.7" y1="595.46" x2="157.7" y2="735.24" stroke="#505050" stroke-width="1.4" stroke-linecap="butt"/>
<line x1="152.4" y1="595.46" x2="163" y2="595.46" stroke="#505050" stroke-width="1.4" stroke-linecap="butt"/>
<line x1="152.4" y1="735.24" x2="163" y2="735.24" stroke="#505050" stroke-width="1.4" stroke-linecap="butt"/>
<rect x="147.9" y="639.32" width="19.6" height="38.37" fill="#6b6b6b" stroke="#2c2c2c" stroke-width="1.4"/>
<line x1="147.9" y1="658.5" x2="167.5" y2="658.5" stroke="#2c2c2c" stroke-width="1.4" stroke-linecap="butt"/>
<line x1="210.8" y1="631.09" x2="210.8" y2="762.65" stroke="#505050" stroke-width="1.4" stroke-linecap="butt"/>
<line x1="205.5" y1="631.09" x2="216.1" y2="631.09" stroke="#505050" stroke-width="1.4" stroke-linecap="butt"/>
<line x1="205.5" y1="762.65" x2="216.1" y2="762.65" stroke="#505050" stroke-width="1.4" stroke-linecap="butt"/>
<rect x="201" y="655.76" width="19.6" height="46.59" fill="#8a8a8a" stroke="#2c2c2c" stroke-width="1.4"/>
<line x1="201" y1="672.21" x2="220.6" y2="672.21" stroke="#2c2c2c" stroke-width="1.4" stroke-linecap="butt"/>
<line x1="243.2" y1="685.91" x2="243.2" y2="762.65" stroke="#505050" stroke-width="1.4" stroke-linecap="butt"/>
<line x1="237.9" y1="685.91" x2="248.5" y2="685.91" stroke="#505050" stroke-width="1.4" stroke-linecap="butt"/>
<line x1="237.9" y1="762.65" x2="248.5" y2="762.65" stroke="#505050" stroke-width="1.4" stroke-linecap="butt"/>
<rect x="233.4" y="696.87" width="19.6" height="43.85" fill="#6b6b6b" stroke="#2c2c2c" stroke-width="1.4"/>
<line x1="233.4" y1="737.99" x2="253" y2="737.99" stroke="#2c2c2c" stroke-width="1.4" stroke-linecap="butt"/>
<line x1="296.3" y1="666.72" x2="296.3" y2="757.17" stroke="#505050" stroke-width="1.4" stroke-linecap="butt"/>
<line x1="291" y1="666.72" x2="301.6" y2="666.72" stroke="#505050" stroke-width="1.4" stroke-linecap="butt"/>
<line x1="291" y1="757.17" x2="301.6" y2="757.17" stroke="#505050" stroke-width="1.4" stroke-linecap="butt"/>
<rect x="286.5" y="680.43" width="19.6" height="46.59" fill="#8a8a8a" stroke="#2c2c2c" stroke-width="1.4"/>
<line x1="286.5" y1="707.84" x2="306.1" y2="707.84" stroke="#2c2c2c" stroke-width="1.4" stroke-linecap="butt"/>
<line x1="328.7" y1="710.58" x2="328.7" y2="833.91" stroke="#505050" stroke-width="1.4" stroke-linecap="butt"/>
<line x1="323.4" y1="710.58" x2="334" y2="710.58" stroke="#505050" stroke-width="1.4" stroke-linecap="butt"/>
<line x1="323.4" y1="833.91" x2="334" y2="833.91" stroke="#505050" stroke-width="1.4" stroke-linecap="butt"/>
<rect x="318.9" y="729.76" width="19.6" height="35.63" fill="#6b6b6b" stroke="#2c2c2c" stroke-width="1.4"/>
<line x1="318.9" y1="748.95" x2="338.5" y2="748.95" stroke="#2c2c2c" stroke-width="1.4" stroke-linecap="butt"/>
<line x1="381.8" y1="694.13" x2="381.8" y2="784.58" stroke="#505050" stroke-width="1.4" stroke-linecap="butt"/>
<line x1="376.5" y1="694.13" x2="387.1" y2="694.13" stroke="#505050" stroke-width="1.4" stroke-linecap="butt"/>
<line x1="376.5" y1="784.58" x2="387.1" y2="784.58" stroke="#505050" stroke-width="1.4" stroke-linecap="butt"/>
<rect x="372" y="721.54" width="19.6" height="32.89" fill="#8a8a8a" stroke="#2c2c2c" stroke-width="1.4"/>
<line x1="372" y1="743.47" x2="391.6" y2="743.47" stroke="#2c2c2c" stroke-width="1.4" stroke-linecap="butt"/>
<line x1="414.2" y1="732.5" x2="414.2" y2="822.95" stroke="#505050" stroke-width="1.4" stroke-linecap="butt"/>
<line x1="408.9" y1="732.5" x2="419.5" y2="732.5" stroke="#505050" stroke-width="1.4" stroke-linecap="butt"/>
<line x1="408.9" y1="822.95" x2="419.5" y2="822.95" stroke="#505050" stroke-width="1.4" stroke-linecap="butt"/>
<rect x="404.4" y="751.69" width="19.6" height="41.11" fill="#6b6b6b" stroke="#2c2c2c" stroke-width="1.4"/>
<line x1="404.4" y1="768.13" x2="424" y2="768.13" stroke="#2c2c2c" stroke-width="1.4" stroke-linecap="butt"/>
<rect x="104.1" y="524.2" width="330.9" height="328.9" fill="none" stroke="#000" stroke-width="3.5"/>
<line x1="94.85" y1="853.1" x2="104.1" y2="853.1" stroke="#000" stroke-width="3" stroke-linecap="butt"/>
<text x="91.6" y="858.7" font-family='"Liberation Sans", sans-serif' font-size="15.9" font-weight="bold" text-anchor="end" fill="#000">90</text>
<line x1="94.85" y1="798.28" x2="104.1" y2="798.28" stroke="#000" stroke-width="3" stroke-linecap="butt"/>
<text x="91.6" y="803.88" font-family='"Liberation Sans", sans-serif' font-size="15.9" font-weight="bold" text-anchor="end" fill="#000">110</text>
<line x1="94.85" y1="743.47" x2="104.1" y2="743.47" stroke="#000" stroke-width="3" stroke-linecap="butt"/>
<text x="91.6" y="749.07" font-family='"Liberation Sans", sans-serif' font-size="15.9" font-weight="bold" text-anchor="end" fill="#000">130</text>
<line x1="94.85" y1="688.65" x2="104.1" y2="688.65" stroke="#000" stroke-width="3" stroke-linecap="butt"/>
<text x="91.6" y="694.25" font-family='"Liberation Sans", sans-serif' font-size="15.9" font-weight="bold" text-anchor="end" fill="#000">150</text>
<line x1="94.85" y1="633.83" x2="104.1" y2="633.83" stroke="#000" stroke-width="3" stroke-linecap="butt"/>
<text x="91.6" y="639.43" font-family='"Liberation Sans", sans-serif' font-size="15.9" font-weight="bold" text-anchor="end" fill="#000">170</text>
<line x1="94.85" y1="579.02" x2="104.1" y2="579.02" stroke="#000" stroke-width="3" stroke-linecap="butt"/>
<text x="91.6" y="584.62" font-family='"Liberation Sans", sans-serif' font-size="15.9" font-weight="bold" text-anchor="end" fill="#000">190</text>
<line x1="94.85" y1="524.2" x2="104.1" y2="524.2" stroke="#000" stroke-width="3" stroke-linecap="butt"/>
<text x="91.6" y="529.8" font-family='"Liberation Sans", sans-serif' font-size="15.9" font-weight="bold" text-anchor="end" fill="#000">210</text>
<line x1="141" y1="853.1" x2="141" y2="862.65" stroke="#000" stroke-width="3" stroke-linecap="butt"/>
<text x="141" y="879.2" font-family='"Liberation Sans", sans-serif' font-size="15.9" font-weight="bold" text-anchor="middle" fill="#000">T0</text>
<line x1="226.5" y1="853.1" x2="226.5" y2="862.65" stroke="#000" stroke-width="3" stroke-linecap="butt"/>
<text x="226.5" y="879.2" font-family='"Liberation Sans", sans-serif' font-size="15.9" font-weight="bold" text-anchor="middle" fill="#000">T1</text>
<line x1="312" y1="853.1" x2="312" y2="862.65" stroke="#000" stroke-width="3" stroke-linecap="butt"/>
<text x="312" y="879.2" font-family='"Liberation Sans", sans-serif' font-size="15.9" font-weight="bold" text-anchor="middle" fill="#000">T2</text>
<line x1="397.5" y1="853.1" x2="397.5" y2="862.65" stroke="#000" stroke-width="3" stroke-linecap="butt"/>
<text x="397.5" y="879.2" font-family='"Liberation Sans", sans-serif' font-size="15.9" font-weight="bold" text-anchor="middle" fill="#000">T3</text>
<text x="49" y="688.65" font-family='"Liberation Sans", sans-serif' font-size="17.0" font-weight="bold" text-anchor="middle" fill="#000" transform="rotate(-90 49 688.65)" dominant-baseline="central">SBP/mmHg</text>
<text x="269.55" y="907.4" font-family='"Liberation Sans", sans-serif' font-size="17.2" font-weight="bold" text-anchor="middle" fill="#000">Time Point</text>
<polyline points="126.8,575.5 126.8,565.8 157.4,565.8 157.4,591" fill="none" stroke="#000" stroke-width="2"/>
<text x="142.1" y="561.8" font-family='"Liberation Sans", sans-serif' font-size="15" font-weight="normal" text-anchor="middle" fill="#000">ns</text>
<polyline points="210,623.9 210,614.3 242.9,614.3 242.9,675.5" fill="none" stroke="#000" stroke-width="2"/>
<text x="226.45" y="613.9" font-family='"Liberation Sans", sans-serif' font-size="18.5" font-weight="normal" text-anchor="middle" fill="#000">**</text>
<polyline points="295.2,661.9 295.2,651.9 328.4,651.9 328.4,701.3" fill="none" stroke="#000" stroke-width="2"/>
<text x="311.8" y="651.5" font-family='"Liberation Sans", sans-serif' font-size="18.5" font-weight="normal" text-anchor="middle" fill="#000">**</text>
<polyline points="381,690 381,679.5 414.2,679.5 414.2,726.5" fill="none" stroke="#000" stroke-width="2"/>
<text x="397.6" y="679.1" font-family='"Liberation Sans", sans-serif' font-size="18.5" font-weight="normal" text-anchor="middle" fill="#000">*</text>
<rect x="322.6" y="537.7" width="22" height="8.6" fill="#8a8a8a" stroke="#3a3a3a" stroke-width="1.4"/>
<text x="359.1" y="547" font-family='"Liberation Serif", "Noto Serif CJK SC", serif' font-size="14" font-weight="600" text-anchor="start" fill="#222" letter-spacing="3.4">行为干预</text>
<rect x="322.6" y="563.6" width="22" height="8.6" fill="#6b6b6b" stroke="#3a3a3a" stroke-width="1.4"/>
<text x="359.1" y="572.5" font-family='"Liberation Serif", "Noto Serif CJK SC", serif' font-size="14" font-weight="600" text-anchor="start" fill="#222" letter-spacing="3.4">药物干预</text>
<text x="195.73" y="959.8" font-family='"Noto Serif CJK SC", serif' font-size="32" font-weight="normal" text-anchor="start" fill="#111">（</text>
<text x="239.2" y="961.6" font-family='"Liberation Serif", serif' font-size="38" font-weight="normal" text-anchor="middle" fill="#111">e</text>
<text x="251.44" y="959.8" font-family='"Noto Serif CJK SC", serif' font-size="32" font-weight="normal" text-anchor="start" fill="#111">）</text>
</g>
<g id="pf">
<clipPath id="cf"><rect x="534.1" y="523.25" width="333.19999999999993" height="331.65"/></clipPath><g clip-path="url(#cf)">
<rect x="547.1" y="645.3" width="23.2" height="209.6" fill="#8b8b8b" stroke="#676767" stroke-width="1"/>
<line x1="558.7" y1="645.3" x2="558.7" y2="592.45" stroke="#111" stroke-width="1.4" stroke-linecap="butt"/>
<line x1="552.7" y1="592.45" x2="564.7" y2="592.45" stroke="#111" stroke-width="1.4" stroke-linecap="butt"/>
<circle cx="558.7" cy="735.51" r="2.3" fill="#dcdcdc"/>
<circle cx="558.7" cy="722.24" r="2.3" fill="#dcdcdc"/>
<circle cx="558.7" cy="702.34" r="2.3" fill="#dcdcdc"/>
<circle cx="558.7" cy="685.76" r="2.3" fill="#dcdcdc"/>
<circle cx="558.7" cy="675.81" r="2.3" fill="#dcdcdc"/>
<circle cx="558.7" cy="665.86" r="2.3" fill="#dcdcdc"/>
<circle cx="558.7" cy="655.91" r="2.3" fill="#dcdcdc"/>
<circle cx="558.7" cy="642.64" r="2.3" fill="#dcdcdc"/>
<circle cx="548.7" cy="632.69" r="2.3" fill="#dcdcdc"/>
<circle cx="568.7" cy="629.38" r="2.3" fill="#dcdcdc"/>
<circle cx="558.7" cy="602.85" r="2.3" fill="#dcdcdc"/>
<circle cx="548.7" cy="589.58" r="2.3" fill="#dcdcdc"/>
<circle cx="558.7" cy="589.58" r="2.3" fill="#dcdcdc"/>
<circle cx="568.7" cy="586.26" r="2.3" fill="#dcdcdc"/>
<circle cx="558.7" cy="563.05" r="2.3" fill="#dcdcdc"/>
<rect x="584.5" y="679.13" width="23.2" height="175.77" fill="#6b6b6b" stroke="#474747" stroke-width="1"/>
<line x1="596.1" y1="679.13" x2="596.1" y2="635.38" stroke="#111" stroke-width="1.4" stroke-linecap="butt"/>
<line x1="590.1" y1="635.38" x2="602.1" y2="635.38" stroke="#111" stroke-width="1.4" stroke-linecap="butt"/>
<rect x="594" y="776.52" width="4.2" height="4.2" fill="#dcdcdc" stroke="none" stroke-width="1"/>
<rect x="594" y="733.41" width="4.2" height="4.2" fill="#dcdcdc" stroke="none" stroke-width="1"/>
<rect x="584" y="706.87" width="4.2" height="4.2" fill="#dcdcdc" stroke="none" stroke-width="1"/>
<rect x="594" y="703.56" width="4.2" height="4.2" fill="#dcdcdc" stroke="none" stroke-width="1"/>
<rect x="604" y="703.56" width="4.2" height="4.2" fill="#dcdcdc" stroke="none" stroke-width="1"/>
<rect x="594" y="700.24" width="4.2" height="4.2" fill="#dcdcdc" stroke="none" stroke-width="1"/>
<rect x="594" y="683.66" width="4.2" height="4.2" fill="#dcdcdc" stroke="none" stroke-width="1"/>
<rect x="594" y="667.08" width="4.2" height="4.2" fill="#dcdcdc" stroke="none" stroke-width="1"/>
<rect x="584" y="653.81" width="4.2" height="4.2" fill="#dcdcdc" stroke="none" stroke-width="1"/>
<rect x="594" y="650.49" width="4.2" height="4.2" fill="#dcdcdc" stroke="none" stroke-width="1"/>
<rect x="604" y="650.49" width="4.2" height="4.2" fill="#dcdcdc" stroke="none" stroke-width="1"/>
<rect x="594" y="647.18" width="4.2" height="4.2" fill="#dcdcdc" stroke="none" stroke-width="1"/>
<rect x="594" y="633.91" width="4.2" height="4.2" fill="#dcdcdc" stroke="none" stroke-width="1"/>
<rect x="594" y="627.28" width="4.2" height="4.2" fill="#dcdcdc" stroke="none" stroke-width="1"/>
<rect x="594" y="617.33" width="4.2" height="4.2" fill="#dcdcdc" stroke="none" stroke-width="1"/>
<rect x="621.3" y="711.18" width="23.2" height="143.72" fill="#9b9b9b" stroke="#777777" stroke-width="1"/>
<line x1="632.9" y1="711.18" x2="632.9" y2="676.64" stroke="#111" stroke-width="1.4" stroke-linecap="butt"/>
<line x1="626.9" y1="676.64" x2="638.9" y2="676.64" stroke="#111" stroke-width="1.4" stroke-linecap="butt"/>
<polygon points="630.7,774.08 635.1,774.08 632.9,769.9" fill="#dcdcdc"/>
<polygon points="630.7,767.44 635.1,767.44 632.9,763.26" fill="#dcdcdc"/>
<polygon points="630.7,744.23 635.1,744.23 632.9,740.05" fill="#dcdcdc"/>
<polygon points="620.7,737.6 625.1,737.6 622.9,733.42" fill="#dcdcdc"/>
<polygon points="640.7,734.28 645.1,734.28 642.9,730.1" fill="#dcdcdc"/>
<polygon points="630.7,730.96 635.1,730.96 632.9,726.78" fill="#dcdcdc"/>
<polygon points="620.7,717.7 625.1,717.7 622.9,713.52" fill="#dcdcdc"/>
<polygon points="640.7,714.38 645.1,714.38 642.9,710.2" fill="#dcdcdc"/>
<polygon points="630.7,707.75 635.1,707.75 632.9,703.57" fill="#dcdcdc"/>
<polygon points="630.7,691.17 635.1,691.17 632.9,686.99" fill="#dcdcdc"/>
<polygon points="620.7,684.53 625.1,684.53 622.9,680.35" fill="#dcdcdc"/>
<polygon points="640.7,681.22 645.1,681.22 642.9,677.04" fill="#dcdcdc"/>
<polygon points="630.7,677.9 635.1,677.9 632.9,673.72" fill="#dcdcdc"/>
<polygon points="630.7,671.27 635.1,671.27 632.9,667.09" fill="#dcdcdc"/>
<polygon points="630.7,664.63 635.1,664.63 632.9,660.45" fill="#dcdcdc"/>
<rect x="658.4" y="754.96" width="23.2" height="99.94" fill="#8f8f8f" stroke="#6b6b6b" stroke-width="1"/>
<line x1="670" y1="754.96" x2="670" y2="722.5" stroke="#111" stroke-width="1.4" stroke-linecap="butt"/>
<line x1="664" y1="722.5" x2="676" y2="722.5" stroke="#111" stroke-width="1.4" stroke-linecap="butt"/>
<polygon points="657.8,803.06 662.2,803.06 660,807.24" fill="#dcdcdc"/>
<polygon points="667.8,803.06 672.2,803.06 670,807.24" fill="#dcdcdc"/>
<polygon points="677.8,799.75 682.2,799.75 680,803.93" fill="#dcdcdc"/>
<polygon points="657.8,766.58 662.2,766.58 660,770.76" fill="#dcdcdc"/>
<polygon points="667.8,763.26 672.2,763.26 670,767.44" fill="#dcdcdc"/>
<polygon points="677.8,763.26 682.2,763.26 680,767.44" fill="#dcdcdc"/>
<polygon points="667.8,763.26 672.2,763.26 670,767.44" fill="#dcdcdc"/>
<polygon points="667.8,753.31 672.2,753.31 670,757.5" fill="#dcdcdc"/>
<polygon points="657.8,740.05 662.2,740.05 660,744.23" fill="#dcdcdc"/>
<polygon points="667.8,740.05 672.2,740.05 670,744.23" fill="#dcdcdc"/>
<polygon points="677.8,736.73 682.2,736.73 680,740.91" fill="#dcdcdc"/>
<polygon points="667.8,726.78 672.2,726.78 670,730.96" fill="#dcdcdc"/>
<polygon points="677.8,726.78 682.2,726.78 680,730.96" fill="#dcdcdc"/>
<polygon points="667.8,713.52 672.2,713.52 670,717.7" fill="#dcdcdc"/>
<polygon points="667.8,693.62 672.2,693.62 670,697.8" fill="#dcdcdc"/>
<rect x="719.7" y="652.81" width="23.2" height="202.09" fill="#8b8b8b" stroke="#676767" stroke-width="1"/>
<line x1="731.3" y1="652.81" x2="731.3" y2="608.43" stroke="#111" stroke-width="1.4" stroke-linecap="butt"/>
<line x1="725.3" y1="608.43" x2="737.3" y2="608.43" stroke="#111" stroke-width="1.4" stroke-linecap="butt"/>
<circle cx="731.3" cy="745.46" r="2.3" fill="#dcdcdc"/>
<circle cx="731.3" cy="705.66" r="2.3" fill="#dcdcdc"/>
<circle cx="731.3" cy="695.71" r="2.3" fill="#dcdcdc"/>
<circle cx="731.3" cy="675.81" r="2.3" fill="#dcdcdc"/>
<circle cx="731.3" cy="669.18" r="2.3" fill="#dcdcdc"/>
<circle cx="721.3" cy="659.23" r="2.3" fill="#dcdcdc"/>
<circle cx="741.3" cy="659.23" r="2.3" fill="#dcdcdc"/>
<circle cx="731.3" cy="652.59" r="2.3" fill="#dcdcdc"/>
<circle cx="741.3" cy="649.28" r="2.3" fill="#dcdcdc"/>
<circle cx="731.3" cy="645.96" r="2.3" fill="#dcdcdc"/>
<circle cx="731.3" cy="639.33" r="2.3" fill="#dcdcdc"/>
<circle cx="731.3" cy="629.38" r="2.3" fill="#dcdcdc"/>
<circle cx="731.3" cy="599.53" r="2.3" fill="#dcdcdc"/>
<circle cx="731.3" cy="589.58" r="2.3" fill="#dcdcdc"/>
<circle cx="731.3" cy="576.31" r="2.3" fill="#dcdcdc"/>
<rect x="756.8" y="732.19" width="23.2" height="122.71" fill="#6b6b6b" stroke="#474747" stroke-width="1"/>
<line x1="768.4" y1="732.19" x2="768.4" y2="703.52" stroke="#111" stroke-width="1.4" stroke-linecap="butt"/>
<line x1="762.4" y1="703.52" x2="774.4" y2="703.52" stroke="#111" stroke-width="1.4" stroke-linecap="butt"/>
<rect x="766.3" y="776.52" width="4.2" height="4.2" fill="#dcdcdc" stroke="none" stroke-width="1"/>
<rect x="766.3" y="756.62" width="4.2" height="4.2" fill="#dcdcdc" stroke="none" stroke-width="1"/>
<rect x="756.3" y="749.99" width="4.2" height="4.2" fill="#dcdcdc" stroke="none" stroke-width="1"/>
<rect x="766.3" y="749.99" width="4.2" height="4.2" fill="#dcdcdc" stroke="none" stroke-width="1"/>
<rect x="776.3" y="749.99" width="4.2" height="4.2" fill="#dcdcdc" stroke="none" stroke-width="1"/>
<rect x="756.3" y="746.67" width="4.2" height="4.2" fill="#dcdcdc" stroke="none" stroke-width="1"/>
<rect x="766.3" y="746.67" width="4.2" height="4.2" fill="#dcdcdc" stroke="none" stroke-width="1"/>
<rect x="776.3" y="746.67" width="4.2" height="4.2" fill="#dcdcdc" stroke="none" stroke-width="1"/>
<rect x="766.3" y="733.41" width="4.2" height="4.2" fill="#dcdcdc" stroke="none" stroke-width="1"/>
<rect x="756.3" y="716.82" width="4.2" height="4.2" fill="#dcdcdc" stroke="none" stroke-width="1"/>
<rect x="776.3" y="713.51" width="4.2" height="4.2" fill="#dcdcdc" stroke="none" stroke-width="1"/>
<rect x="756.3" y="696.92" width="4.2" height="4.2" fill="#dcdcdc" stroke="none" stroke-width="1"/>
<rect x="776.3" y="693.61" width="4.2" height="4.2" fill="#dcdcdc" stroke="none" stroke-width="1"/>
<rect x="766.3" y="690.29" width="4.2" height="4.2" fill="#dcdcdc" stroke="none" stroke-width="1"/>
<rect x="766.3" y="683.66" width="4.2" height="4.2" fill="#dcdcdc" stroke="none" stroke-width="1"/>
<rect x="793.9" y="768.45" width="23.2" height="86.45" fill="#9b9b9b" stroke="#777777" stroke-width="1"/>
<line x1="805.5" y1="768.45" x2="805.5" y2="727.15" stroke="#111" stroke-width="1.4" stroke-linecap="butt"/>
<line x1="799.5" y1="727.15" x2="811.5" y2="727.15" stroke="#111" stroke-width="1.4" stroke-linecap="butt"/>
<polygon points="803.3,866.94 807.7,866.94 805.5,862.76" fill="#dcdcdc"/>
<polygon points="803.3,837.09 807.7,837.09 805.5,832.91" fill="#dcdcdc"/>
<polygon points="803.3,803.93 807.7,803.93 805.5,799.75" fill="#dcdcdc"/>
<polygon points="793.3,784.03 797.7,784.03 795.5,779.85" fill="#dcdcdc"/>
<polygon points="803.3,780.71 807.7,780.71 805.5,776.53" fill="#dcdcdc"/>
<polygon points="813.3,780.71 817.7,780.71 815.5,776.53" fill="#dcdcdc"/>
<polygon points="793.3,764.13 797.7,764.13 795.5,759.95" fill="#dcdcdc"/>
<polygon points="803.3,764.13 807.7,764.13 805.5,759.95" fill="#dcdcdc"/>
<polygon points="813.3,760.81 817.7,760.81 815.5,756.63" fill="#dcdcdc"/>
<polygon points="803.3,754.18 807.7,754.18 805.5,750" fill="#dcdcdc"/>
<polygon points="813.3,754.18 817.7,754.18 815.5,750" fill="#dcdcdc"/>
<polygon points="803.3,740.91 807.7,740.91 805.5,736.73" fill="#dcdcdc"/>
<polygon points="803.3,724.33 807.7,724.33 805.5,720.15" fill="#dcdcdc"/>
<polygon points="813.3,724.33 817.7,724.33 815.5,720.15" fill="#dcdcdc"/>
<polygon points="803.3,717.7 807.7,717.7 805.5,713.52" fill="#dcdcdc"/>
<rect x="831" y="790.78" width="23.2" height="64.12" fill="#8f8f8f" stroke="#6b6b6b" stroke-width="1"/>
<line x1="842.6" y1="790.78" x2="842.6" y2="761.05" stroke="#111" stroke-width="1.4" stroke-linecap="butt"/>
<line x1="836.6" y1="761.05" x2="848.6" y2="761.05" stroke="#111" stroke-width="1.4" stroke-linecap="butt"/>
<polygon points="840.4,849.49 844.8,849.49 842.6,853.67" fill="#dcdcdc"/>
<polygon points="840.4,829.59 844.8,829.59 842.6,833.77" fill="#dcdcdc"/>
<polygon points="840.4,816.33 844.8,816.33 842.6,820.51" fill="#dcdcdc"/>
<polygon points="850.4,813.01 854.8,813.01 852.6,817.19" fill="#dcdcdc"/>
<polygon points="840.4,806.38 844.8,806.38 842.6,810.56" fill="#dcdcdc"/>
<polygon points="830.4,789.8 834.8,789.8 832.6,793.98" fill="#dcdcdc"/>
<polygon points="850.4,789.8 854.8,789.8 852.6,793.98" fill="#dcdcdc"/>
<polygon points="830.4,783.16 834.8,783.16 832.6,787.34" fill="#dcdcdc"/>
<polygon points="840.4,779.85 844.8,779.85 842.6,784.03" fill="#dcdcdc"/>
<polygon points="850.4,779.85 854.8,779.85 852.6,784.03" fill="#dcdcdc"/>
<polygon points="840.4,773.21 844.8,773.21 842.6,777.39" fill="#dcdcdc"/>
<polygon points="840.4,763.26 844.8,763.26 842.6,767.44" fill="#dcdcdc"/>
<polygon points="850.4,763.26 854.8,763.26 852.6,767.44" fill="#dcdcdc"/>
<polygon points="840.4,753.31 844.8,753.31 842.6,757.5" fill="#dcdcdc"/>
<polygon points="840.4,740.05 844.8,740.05 842.6,744.23" fill="#dcdcdc"/>
</g>
<text x="558.7" y="554.65" font-family='"Liberation Sans", sans-serif' font-size="17" font-weight="normal" text-anchor="middle" fill="#111">a</text>
<text x="596.1" y="612.03" font-family='"Liberation Sans", sans-serif' font-size="17" font-weight="normal" text-anchor="middle" fill="#111">ab</text>
<text x="632.9" y="655.84" font-family='"Liberation Sans", sans-serif' font-size="17" font-weight="normal" text-anchor="middle" fill="#111">b</text>
<text x="670" y="687.01" font-family='"Liberation Sans", sans-serif' font-size="17" font-weight="normal" text-anchor="middle" fill="#111">c</text>
<text x="731.3" y="569.61" font-family='"Liberation Sans", sans-serif' font-size="17" font-weight="normal" text-anchor="middle" fill="#111">a</text>
<text x="768.4" y="678.36" font-family='"Liberation Sans", sans-serif' font-size="17" font-weight="normal" text-anchor="middle" fill="#111">b</text>
<text x="805.5" y="707.91" font-family='"Liberation Sans", sans-serif' font-size="17" font-weight="normal" text-anchor="middle" fill="#111">c</text>
<text x="842.6" y="734.14" font-family='"Liberation Sans", sans-serif' font-size="17" font-weight="normal" text-anchor="middle" fill="#111">c</text>
<rect x="534.1" y="523.25" width="333.2" height="331.65" fill="none" stroke="#000" stroke-width="3.5"/>
<line x1="524.85" y1="854.9" x2="534.1" y2="854.9" stroke="#000" stroke-width="3" stroke-linecap="butt"/>
<text x="521.6" y="860.5" font-family='"Liberation Sans", sans-serif' font-size="15.9" font-weight="bold" text-anchor="end" fill="#000">100</text>
<line x1="524.85" y1="788.57" x2="534.1" y2="788.57" stroke="#000" stroke-width="3" stroke-linecap="butt"/>
<text x="521.6" y="794.17" font-family='"Liberation Sans", sans-serif' font-size="15.9" font-weight="bold" text-anchor="end" fill="#000">120</text>
<line x1="524.85" y1="722.24" x2="534.1" y2="722.24" stroke="#000" stroke-width="3" stroke-linecap="butt"/>
<text x="521.6" y="727.84" font-family='"Liberation Sans", sans-serif' font-size="15.9" font-weight="bold" text-anchor="end" fill="#000">140</text>
<line x1="524.85" y1="655.91" x2="534.1" y2="655.91" stroke="#000" stroke-width="3" stroke-linecap="butt"/>
<text x="521.6" y="661.51" font-family='"Liberation Sans", sans-serif' font-size="15.9" font-weight="bold" text-anchor="end" fill="#000">160</text>
<line x1="524.85" y1="589.58" x2="534.1" y2="589.58" stroke="#000" stroke-width="3" stroke-linecap="butt"/>
<text x="521.6" y="595.18" font-family='"Liberation Sans", sans-serif' font-size="15.9" font-weight="bold" text-anchor="end" fill="#000">180</text>
<line x1="524.85" y1="523.25" x2="534.1" y2="523.25" stroke="#000" stroke-width="3" stroke-linecap="butt"/>
<text x="521.6" y="528.85" font-family='"Liberation Sans", sans-serif' font-size="15.9" font-weight="bold" text-anchor="end" fill="#000">200</text>
<line x1="613.5" y1="854.9" x2="613.5" y2="864.45" stroke="#000" stroke-width="3" stroke-linecap="butt"/>
<text x="614.6" y="879.7" font-family='"Liberation Serif", "Noto Serif CJK SC", serif' font-size="14" font-weight="bold" text-anchor="middle" fill="#000" letter-spacing="2.2">行为干预</text>
<line x1="786.8" y1="854.9" x2="786.8" y2="864.45" stroke="#000" stroke-width="3" stroke-linecap="butt"/>
<text x="787.9" y="879.7" font-family='"Liberation Serif", "Noto Serif CJK SC", serif' font-size="14" font-weight="bold" text-anchor="middle" fill="#000" letter-spacing="2.2">药物干预</text>
<text x="702.7" y="905.1" font-family='"Liberation Serif", "Noto Serif CJK SC", serif' font-size="15" font-weight="bold" text-anchor="middle" fill="#000" letter-spacing="4">干预方式</text>
<text x="480.5" y="689.08" font-family='"Liberation Sans", sans-serif' font-size="17.0" font-weight="bold" text-anchor="middle" fill="#000" transform="rotate(-90 480.5 689.08)" dominant-baseline="central">SBP/mmHg</text>
<rect x="805.5" y="532.3" width="22.5" height="10.8" fill="#8b8b8b" stroke="#757575" stroke-width="1"/>
<text x="840.8" y="544" font-family='"Liberation Sans", sans-serif' font-size="16.8" font-weight="normal" text-anchor="start" fill="#111">T0</text>
<rect x="805.5" y="561.1" width="22.5" height="10.8" fill="#6b6b6b" stroke="#555555" stroke-width="1"/>
<text x="840.8" y="572.8" font-family='"Liberation Sans", sans-serif' font-size="16.8" font-weight="normal" text-anchor="start" fill="#111">T1</text>
<rect x="805.5" y="589.9" width="22.5" height="10.8" fill="#9b9b9b" stroke="#858585" stroke-width="1"/>
<text x="840.8" y="601.6" font-family='"Liberation Sans", sans-serif' font-size="16.8" font-weight="normal" text-anchor="start" fill="#111">T2</text>
<rect x="805.5" y="618.7" width="22.5" height="10.8" fill="#8f8f8f" stroke="#797979" stroke-width="1"/>
<text x="840.8" y="630.4" font-family='"Liberation Sans", sans-serif' font-size="16.8" font-weight="normal" text-anchor="start" fill="#111">T3</text>
<text x="629.24" y="959.8" font-family='"Noto Serif CJK SC", serif' font-size="32" font-weight="normal" text-anchor="start" fill="#111">（</text>
<text x="670.6" y="961.6" font-family='"Liberation Serif", serif' font-size="38" font-weight="normal" text-anchor="middle" fill="#111">f</text>
<text x="680.73" y="959.8" font-family='"Noto Serif CJK SC", serif' font-size="32" font-weight="normal" text-anchor="start" fill="#111">）</text>
</g>
<g id="pg">
<path d="M985.8,761.84 L985.81,759.57 L985.83,757.3 L985.86,755.02 L985.9,752.75 L985.98,750.48 L986.08,748.2 L986.24,745.93 L986.45,743.66 L986.73,741.38 L987.08,739.11 L987.51,736.84 L988.01,734.56 L988.57,732.29 L989.17,730.02 L989.78,727.75 L990.37,725.47 L990.92,723.2 L991.39,720.93 L991.78,718.65 L992.09,716.38 L992.3,714.11 L992.45,711.83 L992.56,709.56 L992.65,707.29 L992.75,705.01 L992.87,702.74 L993.05,700.47 L993.28,698.2 L993.56,695.92 L993.9,693.65 L994.27,691.38 L994.67,689.1 L995.07,686.83 L995.45,684.56 L995.8,682.28 L996.11,680.01 L996.36,677.74 L996.55,675.46 L996.7,673.19 L996.8,670.92 L996.88,668.65 L996.93,666.37 L996.97,664.1 L996.99,661.83 L996.99,659.55 L996.94,657.28 L996.83,655.01 L996.65,652.73 L996.39,650.46 L996.07,648.19 L995.71,645.91 L995.35,643.64 L995.04,641.37 L994.84,639.09 L994.8,636.82 L994.92,634.55 L995.21,632.28 L995.63,630 L996.13,627.73 L996.63,625.46 L997.05,623.18 L997.33,620.91 L997.4,618.64 L997.24,616.36 L996.86,614.09 L996.27,611.82 L995.53,609.54 L994.68,607.27 L993.77,605 L992.86,602.73 L991.96,600.45 L991.11,598.18 L990.32,595.91 L989.58,593.63 L988.91,591.36 L988.31,589.09 L987.79,586.81 L987.33,584.54 L986.94,582.27 L986.63,579.99 L986.39,577.72 L986.2,575.45 L986.06,573.18 L985.96,570.9 L985.9,568.63 L985.85,566.36 L985.83,564.08 L985.81,561.81 L985.8,559.54 L985.8,559.54 L985.79,561.81 L985.77,564.08 L985.75,566.36 L985.7,568.63 L985.64,570.9 L985.54,573.18 L985.4,575.45 L985.21,577.72 L984.97,579.99 L984.66,582.27 L984.27,584.54 L983.81,586.81 L983.29,589.09 L982.69,591.36 L982.02,593.63 L981.28,595.91 L980.49,598.18 L979.64,600.45 L978.74,602.73 L977.83,605 L976.92,607.27 L976.07,609.54 L975.33,611.82 L974.74,614.09 L974.36,616.36 L974.2,618.64 L974.27,620.91 L974.55,623.18 L974.97,625.46 L975.47,627.73 L975.97,630 L976.39,632.28 L976.68,634.55 L976.8,636.82 L976.76,639.09 L976.56,641.37 L976.25,643.64 L975.89,645.91 L975.53,648.19 L975.21,650.46 L974.95,652.73 L974.77,655.01 L974.66,657.28 L974.61,659.55 L974.61,661.83 L974.63,664.1 L974.67,666.37 L974.72,668.65 L974.8,670.92 L974.9,673.19 L975.05,675.46 L975.24,677.74 L975.49,680.01 L975.8,682.28 L976.15,684.56 L976.53,686.83 L976.93,689.1 L977.33,691.38 L977.7,693.65 L978.04,695.92 L978.32,698.2 L978.55,700.47 L978.73,702.74 L978.85,705.01 L978.95,707.29 L979.04,709.56 L979.15,711.83 L979.3,714.11 L979.51,716.38 L979.82,718.65 L980.21,720.93 L980.68,723.2 L981.23,725.47 L981.82,727.75 L982.43,730.02 L983.03,732.29 L983.59,734.56 L984.09,736.84 L984.52,739.11 L984.87,741.38 L985.15,743.66 L985.36,745.93 L985.52,748.2 L985.62,750.48 L985.7,752.75 L985.74,755.02 L985.77,757.3 L985.79,759.57 L985.8,761.84Z" fill="#8b8b8b" stroke="#595959" stroke-width="0.8"/>
<circle cx="985.8" cy="722.3" r="2" fill="#dcdcdc"/>
<circle cx="985.8" cy="712.82" r="2" fill="#dcdcdc"/>
<circle cx="985.8" cy="698.6" r="2" fill="#dcdcdc"/>
<circle cx="985.8" cy="686.76" r="2" fill="#dcdcdc"/>
<circle cx="985.8" cy="679.65" r="2" fill="#dcdcdc"/>
<circle cx="985.8" cy="672.54" r="2" fill="#dcdcdc"/>
<circle cx="985.8" cy="665.43" r="2" fill="#dcdcdc"/>
<circle cx="985.8" cy="655.95" r="2" fill="#dcdcdc"/>
<circle cx="982" cy="648.84" r="2" fill="#dcdcdc"/>
<circle cx="989.6" cy="646.47" r="2" fill="#dcdcdc"/>
<circle cx="985.8" cy="627.51" r="2" fill="#dcdcdc"/>
<circle cx="982" cy="618.04" r="2" fill="#dcdcdc"/>
<circle cx="985.8" cy="618.04" r="2" fill="#dcdcdc"/>
<circle cx="989.6" cy="615.67" r="2" fill="#dcdcdc"/>
<circle cx="985.8" cy="599.08" r="2" fill="#dcdcdc"/>
<line x1="976.52" y1="686.76" x2="995.08" y2="686.76" stroke="#1a1a1a" stroke-width="0.8" stroke-linecap="butt" stroke-dasharray="1.3 1.7"/>
<line x1="974.24" y1="618.04" x2="997.36" y2="618.04" stroke="#1a1a1a" stroke-width="0.8" stroke-linecap="butt" stroke-dasharray="1.3 1.7"/>
<line x1="974.72" y1="655.95" x2="996.88" y2="655.95" stroke="#1a1a1a" stroke-width="0.8" stroke-linecap="butt" stroke-dasharray="2.2 1.4"/>
<text x="985.8" y="555.04" font-family='"Liberation Sans", sans-serif' font-size="17" font-weight="normal" text-anchor="middle" fill="#111">a</text>
<path d="M1022.6,784.59 L1022.61,782.6 L1022.62,780.62 L1022.65,778.63 L1022.69,776.65 L1022.76,774.66 L1022.85,772.68 L1022.99,770.69 L1023.16,768.7 L1023.38,766.72 L1023.64,764.73 L1023.92,762.75 L1024.21,760.76 L1024.46,758.78 L1024.67,756.79 L1024.8,754.81 L1024.84,752.82 L1024.79,750.84 L1024.66,748.85 L1024.47,746.86 L1024.25,744.88 L1024.05,742.89 L1023.89,740.91 L1023.8,738.92 L1023.79,736.94 L1023.88,734.95 L1024.04,732.97 L1024.27,730.98 L1024.54,728.99 L1024.84,727.01 L1025.15,725.02 L1025.47,723.04 L1025.81,721.05 L1026.21,719.07 L1026.69,717.08 L1027.28,715.1 L1028,713.11 L1028.83,711.13 L1029.72,709.14 L1030.61,707.15 L1031.4,705.17 L1032,703.18 L1032.35,701.2 L1032.41,699.21 L1032.2,697.23 L1031.76,695.24 L1031.17,693.26 L1030.51,691.27 L1029.88,689.28 L1029.34,687.3 L1028.96,685.31 L1028.78,683.33 L1028.81,681.34 L1029.06,679.36 L1029.51,677.37 L1030.14,675.39 L1030.89,673.4 L1031.7,671.42 L1032.5,669.43 L1033.21,667.44 L1033.76,665.46 L1034.09,663.47 L1034.2,661.49 L1034.08,659.5 L1033.77,657.52 L1033.31,655.53 L1032.76,653.55 L1032.16,651.56 L1031.52,649.57 L1030.87,647.59 L1030.21,645.6 L1029.52,643.62 L1028.81,641.63 L1028.07,639.65 L1027.31,637.66 L1026.56,635.68 L1025.84,633.69 L1025.17,631.71 L1024.58,629.72 L1024.07,627.73 L1023.65,625.75 L1023.32,623.76 L1023.08,621.78 L1022.9,619.79 L1022.78,617.81 L1022.71,615.82 L1022.66,613.84 L1022.63,611.85 L1022.61,609.86 L1022.6,607.88 L1022.6,607.88 L1022.59,609.86 L1022.57,611.85 L1022.54,613.84 L1022.49,615.82 L1022.42,617.81 L1022.3,619.79 L1022.12,621.78 L1021.88,623.76 L1021.55,625.75 L1021.13,627.73 L1020.62,629.72 L1020.03,631.71 L1019.36,633.69 L1018.64,635.68 L1017.89,637.66 L1017.13,639.65 L1016.39,641.63 L1015.68,643.62 L1014.99,645.6 L1014.33,647.59 L1013.68,649.57 L1013.04,651.56 L1012.44,653.55 L1011.89,655.53 L1011.43,657.52 L1011.12,659.5 L1011,661.49 L1011.11,663.47 L1011.44,665.46 L1011.99,667.44 L1012.7,669.43 L1013.5,671.42 L1014.31,673.4 L1015.06,675.39 L1015.69,677.37 L1016.14,679.36 L1016.39,681.34 L1016.42,683.33 L1016.24,685.31 L1015.86,687.3 L1015.32,689.28 L1014.69,691.27 L1014.03,693.26 L1013.44,695.24 L1013,697.23 L1012.79,699.21 L1012.85,701.2 L1013.2,703.18 L1013.8,705.17 L1014.59,707.15 L1015.48,709.14 L1016.37,711.13 L1017.2,713.11 L1017.92,715.1 L1018.51,717.08 L1018.99,719.07 L1019.39,721.05 L1019.73,723.04 L1020.05,725.02 L1020.36,727.01 L1020.66,728.99 L1020.93,730.98 L1021.16,732.97 L1021.32,734.95 L1021.41,736.94 L1021.4,738.92 L1021.31,740.91 L1021.15,742.89 L1020.95,744.88 L1020.73,746.86 L1020.54,748.85 L1020.41,750.84 L1020.36,752.82 L1020.4,754.81 L1020.53,756.79 L1020.74,758.78 L1020.99,760.76 L1021.28,762.75 L1021.56,764.73 L1021.82,766.72 L1022.04,768.7 L1022.21,770.69 L1022.35,772.68 L1022.44,774.66 L1022.51,776.65 L1022.55,778.63 L1022.58,780.62 L1022.59,782.6 L1022.6,784.59Z" fill="#6b6b6b" stroke="#393939" stroke-width="0.8"/>
<rect x="1021" y="751.51" width="3.2" height="3.2" fill="#dcdcdc" stroke="none" stroke-width="1"/>
<rect x="1021" y="720.7" width="3.2" height="3.2" fill="#dcdcdc" stroke="none" stroke-width="1"/>
<rect x="1017.2" y="701.74" width="3.2" height="3.2" fill="#dcdcdc" stroke="none" stroke-width="1"/>
<rect x="1021" y="699.37" width="3.2" height="3.2" fill="#dcdcdc" stroke="none" stroke-width="1"/>
<rect x="1024.8" y="699.37" width="3.2" height="3.2" fill="#dcdcdc" stroke="none" stroke-width="1"/>
<rect x="1021" y="697" width="3.2" height="3.2" fill="#dcdcdc" stroke="none" stroke-width="1"/>
<rect x="1021" y="685.16" width="3.2" height="3.2" fill="#dcdcdc" stroke="none" stroke-width="1"/>
<rect x="1021" y="673.31" width="3.2" height="3.2" fill="#dcdcdc" stroke="none" stroke-width="1"/>
<rect x="1017.2" y="663.83" width="3.2" height="3.2" fill="#dcdcdc" stroke="none" stroke-width="1"/>
<rect x="1021" y="661.46" width="3.2" height="3.2" fill="#dcdcdc" stroke="none" stroke-width="1"/>
<rect x="1024.8" y="661.46" width="3.2" height="3.2" fill="#dcdcdc" stroke="none" stroke-width="1"/>
<rect x="1021" y="659.09" width="3.2" height="3.2" fill="#dcdcdc" stroke="none" stroke-width="1"/>
<rect x="1021" y="649.61" width="3.2" height="3.2" fill="#dcdcdc" stroke="none" stroke-width="1"/>
<rect x="1021" y="644.87" width="3.2" height="3.2" fill="#dcdcdc" stroke="none" stroke-width="1"/>
<rect x="1021" y="637.76" width="3.2" height="3.2" fill="#dcdcdc" stroke="none" stroke-width="1"/>
<line x1="1012.85" y1="700.97" x2="1032.35" y2="700.97" stroke="#1a1a1a" stroke-width="0.8" stroke-linecap="butt" stroke-dasharray="1.3 1.7"/>
<line x1="1011.05" y1="660.69" x2="1034.15" y2="660.69" stroke="#1a1a1a" stroke-width="0.8" stroke-linecap="butt" stroke-dasharray="1.3 1.7"/>
<line x1="1014.88" y1="674.91" x2="1030.32" y2="674.91" stroke="#1a1a1a" stroke-width="0.8" stroke-linecap="butt" stroke-dasharray="2.2 1.4"/>
<text x="1022.6" y="604.38" font-family='"Liberation Sans", sans-serif' font-size="17" font-weight="normal" text-anchor="middle" fill="#111">ab</text>
<path d="M1059.7,774.22 L1059.71,772.76 L1059.73,771.3 L1059.75,769.84 L1059.8,768.38 L1059.86,766.92 L1059.96,765.46 L1060.1,764 L1060.29,762.54 L1060.55,761.08 L1060.87,759.62 L1061.26,758.16 L1061.71,756.7 L1062.21,755.24 L1062.73,753.78 L1063.25,752.32 L1063.73,750.87 L1064.13,749.41 L1064.43,747.95 L1064.62,746.49 L1064.68,745.03 L1064.63,743.57 L1064.51,742.11 L1064.35,740.65 L1064.21,739.19 L1064.14,737.73 L1064.19,736.27 L1064.38,734.81 L1064.73,733.35 L1065.24,731.89 L1065.89,730.43 L1066.62,728.97 L1067.39,727.51 L1068.14,726.05 L1068.81,724.59 L1069.37,723.13 L1069.78,721.67 L1070.03,720.21 L1070.13,718.75 L1070.11,717.29 L1070,715.84 L1069.84,714.38 L1069.65,712.92 L1069.45,711.46 L1069.25,710 L1069.05,708.54 L1068.83,707.08 L1068.58,705.62 L1068.3,704.16 L1067.99,702.7 L1067.67,701.24 L1067.39,699.78 L1067.17,698.32 L1067.07,696.86 L1067.1,695.4 L1067.29,693.94 L1067.64,692.48 L1068.12,691.02 L1068.71,689.56 L1069.34,688.1 L1069.96,686.64 L1070.51,685.18 L1070.95,683.72 L1071.22,682.26 L1071.3,680.81 L1071.18,679.35 L1070.87,677.89 L1070.38,676.43 L1069.72,674.97 L1068.94,673.51 L1068.07,672.05 L1067.13,670.59 L1066.17,669.13 L1065.22,667.67 L1064.31,666.21 L1063.45,664.75 L1062.68,663.29 L1062.01,661.83 L1061.44,660.37 L1060.98,658.91 L1060.61,657.45 L1060.33,655.99 L1060.12,654.53 L1059.97,653.07 L1059.87,651.61 L1059.8,650.15 L1059.75,648.69 L1059.73,647.23 L1059.71,645.78 L1059.7,644.32 L1059.7,644.32 L1059.69,645.78 L1059.67,647.23 L1059.65,648.69 L1059.6,650.15 L1059.53,651.61 L1059.43,653.07 L1059.28,654.53 L1059.07,655.99 L1058.79,657.45 L1058.42,658.91 L1057.96,660.37 L1057.39,661.83 L1056.72,663.29 L1055.95,664.75 L1055.09,666.21 L1054.18,667.67 L1053.23,669.13 L1052.27,670.59 L1051.33,672.05 L1050.46,673.51 L1049.68,674.97 L1049.02,676.43 L1048.53,677.89 L1048.22,679.35 L1048.1,680.81 L1048.18,682.26 L1048.45,683.72 L1048.89,685.18 L1049.44,686.64 L1050.06,688.1 L1050.69,689.56 L1051.28,691.02 L1051.76,692.48 L1052.11,693.94 L1052.3,695.4 L1052.33,696.86 L1052.23,698.32 L1052.01,699.78 L1051.73,701.24 L1051.41,702.7 L1051.1,704.16 L1050.82,705.62 L1050.57,707.08 L1050.35,708.54 L1050.15,710 L1049.95,711.46 L1049.75,712.92 L1049.56,714.38 L1049.4,715.84 L1049.29,717.29 L1049.27,718.75 L1049.37,720.21 L1049.62,721.67 L1050.03,723.13 L1050.59,724.59 L1051.26,726.05 L1052.01,727.51 L1052.78,728.97 L1053.51,730.43 L1054.16,731.89 L1054.67,733.35 L1055.02,734.81 L1055.21,736.27 L1055.26,737.73 L1055.19,739.19 L1055.05,740.65 L1054.89,742.11 L1054.77,743.57 L1054.72,745.03 L1054.78,746.49 L1054.97,747.95 L1055.27,749.41 L1055.67,750.87 L1056.15,752.32 L1056.67,753.78 L1057.19,755.24 L1057.69,756.7 L1058.14,758.16 L1058.53,759.62 L1058.85,761.08 L1059.11,762.54 L1059.3,764 L1059.44,765.46 L1059.54,766.92 L1059.6,768.38 L1059.65,769.84 L1059.67,771.3 L1059.69,772.76 L1059.7,774.22Z" fill="#9b9b9b" stroke="#696969" stroke-width="0.8"/>
<polygon points="1057.7,750.27 1061.7,750.27 1059.7,746.47" fill="#dcdcdc"/>
<polygon points="1057.7,745.53 1061.7,745.53 1059.7,741.73" fill="#dcdcdc"/>
<polygon points="1057.7,728.94 1061.7,728.94 1059.7,725.14" fill="#dcdcdc"/>
<polygon points="1057.7,724.2 1061.7,724.2 1059.7,720.4" fill="#dcdcdc"/>
<polygon points="1061.5,721.83 1065.5,721.83 1063.5,718.03" fill="#dcdcdc"/>
<polygon points="1057.7,719.46 1061.7,719.46 1059.7,715.66" fill="#dcdcdc"/>
<polygon points="1053.9,709.98 1057.9,709.98 1055.9,706.18" fill="#dcdcdc"/>
<polygon points="1061.5,707.61 1065.5,707.61 1063.5,703.81" fill="#dcdcdc"/>
<polygon points="1057.7,702.87 1061.7,702.87 1059.7,699.07" fill="#dcdcdc"/>
<polygon points="1057.7,691.02 1061.7,691.02 1059.7,687.23" fill="#dcdcdc"/>
<polygon points="1057.7,686.29 1061.7,686.29 1059.7,682.49" fill="#dcdcdc"/>
<polygon points="1061.5,683.92 1065.5,683.92 1063.5,680.12" fill="#dcdcdc"/>
<polygon points="1057.7,681.55 1061.7,681.55 1059.7,677.75" fill="#dcdcdc"/>
<polygon points="1057.7,676.81 1061.7,676.81 1059.7,673.01" fill="#dcdcdc"/>
<polygon points="1057.7,672.07 1061.7,672.07 1059.7,668.27" fill="#dcdcdc"/>
<line x1="1049.8" y1="722.3" x2="1069.6" y2="722.3" stroke="#1a1a1a" stroke-width="0.8" stroke-linecap="butt" stroke-dasharray="1.3 1.7"/>
<line x1="1048.17" y1="682.02" x2="1071.23" y2="682.02" stroke="#1a1a1a" stroke-width="0.8" stroke-linecap="butt" stroke-dasharray="1.3 1.7"/>
<line x1="1050.8" y1="705.71" x2="1068.6" y2="705.71" stroke="#1a1a1a" stroke-width="0.8" stroke-linecap="butt" stroke-dasharray="2.2 1.4"/>
<text x="1059.7" y="642.32" font-family='"Liberation Sans", sans-serif' font-size="17" font-weight="normal" text-anchor="middle" fill="#111">b</text>
<path d="M1096.51,794.29 L1096.53,792.91 L1096.57,791.53 L1096.64,790.15 L1096.75,788.77 L1096.92,787.4 L1097.17,786.02 L1097.53,784.64 L1098.02,783.26 L1098.64,781.88 L1099.4,780.51 L1100.25,779.13 L1101.16,777.75 L1102.05,776.37 L1102.84,774.99 L1103.44,773.62 L1103.79,772.24 L1103.86,770.86 L1103.62,769.48 L1103.11,768.1 L1102.41,766.73 L1101.58,765.35 L1100.74,763.97 L1099.97,762.59 L1099.34,761.21 L1098.94,759.84 L1098.79,758.46 L1098.93,757.08 L1099.37,755.7 L1100.09,754.32 L1101.07,752.94 L1102.24,751.57 L1103.52,750.19 L1104.81,748.81 L1106,747.43 L1106.99,746.05 L1107.68,744.68 L1108.05,743.3 L1108.1,741.92 L1107.87,740.54 L1107.46,739.16 L1106.97,737.79 L1106.51,736.41 L1106.16,735.03 L1105.98,733.65 L1105.99,732.27 L1106.15,730.9 L1106.42,729.52 L1106.73,728.14 L1107.02,726.76 L1107.21,725.38 L1107.27,724.01 L1107.18,722.63 L1106.94,721.25 L1106.56,719.87 L1106.05,718.49 L1105.47,717.12 L1104.82,715.74 L1104.14,714.36 L1103.45,712.98 L1102.79,711.6 L1102.15,710.23 L1101.56,708.85 L1101.03,707.47 L1100.56,706.09 L1100.17,704.71 L1099.87,703.34 L1099.65,701.96 L1099.52,700.58 L1099.44,699.2 L1099.41,697.82 L1099.38,696.45 L1099.33,695.07 L1099.23,693.69 L1099.07,692.31 L1098.85,690.93 L1098.57,689.56 L1098.25,688.18 L1097.93,686.8 L1097.62,685.42 L1097.34,684.04 L1097.1,682.67 L1096.91,681.29 L1096.77,679.91 L1096.67,678.53 L1096.6,677.15 L1096.55,675.77 L1096.53,674.4 L1096.51,673.02 L1096.5,671.64 L1096.5,671.64 L1096.49,673.02 L1096.47,674.4 L1096.45,675.77 L1096.4,677.15 L1096.33,678.53 L1096.23,679.91 L1096.09,681.29 L1095.9,682.67 L1095.66,684.04 L1095.38,685.42 L1095.07,686.8 L1094.75,688.18 L1094.43,689.56 L1094.15,690.93 L1093.93,692.31 L1093.77,693.69 L1093.67,695.07 L1093.62,696.45 L1093.59,697.82 L1093.56,699.2 L1093.48,700.58 L1093.35,701.96 L1093.13,703.34 L1092.83,704.71 L1092.44,706.09 L1091.97,707.47 L1091.44,708.85 L1090.85,710.23 L1090.21,711.6 L1089.55,712.98 L1088.86,714.36 L1088.18,715.74 L1087.53,717.12 L1086.95,718.49 L1086.44,719.87 L1086.06,721.25 L1085.82,722.63 L1085.73,724.01 L1085.79,725.38 L1085.98,726.76 L1086.27,728.14 L1086.58,729.52 L1086.85,730.9 L1087.01,732.27 L1087.02,733.65 L1086.84,735.03 L1086.49,736.41 L1086.03,737.79 L1085.54,739.16 L1085.13,740.54 L1084.9,741.92 L1084.95,743.3 L1085.32,744.68 L1086.01,746.05 L1087,747.43 L1088.19,748.81 L1089.48,750.19 L1090.76,751.57 L1091.93,752.94 L1092.91,754.32 L1093.63,755.7 L1094.07,757.08 L1094.21,758.46 L1094.06,759.84 L1093.66,761.21 L1093.03,762.59 L1092.26,763.97 L1091.42,765.35 L1090.59,766.73 L1089.89,768.1 L1089.38,769.48 L1089.14,770.86 L1089.21,772.24 L1089.56,773.62 L1090.16,774.99 L1090.95,776.37 L1091.84,777.75 L1092.75,779.13 L1093.6,780.51 L1094.36,781.88 L1094.98,783.26 L1095.47,784.64 L1095.83,786.02 L1096.08,787.4 L1096.25,788.77 L1096.36,790.15 L1096.43,791.53 L1096.47,792.91 L1096.49,794.29Z" fill="#8f8f8f" stroke="#5d5d5d" stroke-width="0.8"/>
<polygon points="1090.7,770.16 1094.7,770.16 1092.7,773.96" fill="#dcdcdc"/>
<polygon points="1094.5,770.16 1098.5,770.16 1096.5,773.96" fill="#dcdcdc"/>
<polygon points="1098.3,767.79 1102.3,767.79 1100.3,771.59" fill="#dcdcdc"/>
<polygon points="1090.7,744.1 1094.7,744.1 1092.7,747.9" fill="#dcdcdc"/>
<polygon points="1094.5,741.73 1098.5,741.73 1096.5,745.53" fill="#dcdcdc"/>
<polygon points="1098.3,741.73 1102.3,741.73 1100.3,745.53" fill="#dcdcdc"/>
<polygon points="1094.5,741.73 1098.5,741.73 1096.5,745.53" fill="#dcdcdc"/>
<polygon points="1094.5,734.62 1098.5,734.62 1096.5,738.42" fill="#dcdcdc"/>
<polygon points="1090.7,725.14 1094.7,725.14 1092.7,728.94" fill="#dcdcdc"/>
<polygon points="1094.5,725.14 1098.5,725.14 1096.5,728.94" fill="#dcdcdc"/>
<polygon points="1098.3,722.77 1102.3,722.77 1100.3,726.57" fill="#dcdcdc"/>
<polygon points="1094.5,715.66 1098.5,715.66 1096.5,719.46" fill="#dcdcdc"/>
<polygon points="1098.3,715.66 1102.3,715.66 1100.3,719.46" fill="#dcdcdc"/>
<polygon points="1094.5,706.18 1098.5,706.18 1096.5,709.98" fill="#dcdcdc"/>
<polygon points="1094.5,691.96 1098.5,691.96 1096.5,695.76" fill="#dcdcdc"/>
<line x1="1085.98" y1="746" x2="1107.02" y2="746" stroke="#1a1a1a" stroke-width="0.8" stroke-linecap="butt" stroke-dasharray="1.3 1.7"/>
<line x1="1087.34" y1="717.56" x2="1105.66" y2="717.56" stroke="#1a1a1a" stroke-width="0.8" stroke-linecap="butt" stroke-dasharray="1.3 1.7"/>
<line x1="1086.45" y1="736.52" x2="1106.55" y2="736.52" stroke="#1a1a1a" stroke-width="0.8" stroke-linecap="butt" stroke-dasharray="2.2 1.4"/>
<text x="1096.5" y="670.64" font-family='"Liberation Sans", sans-serif' font-size="17" font-weight="normal" text-anchor="middle" fill="#111">c</text>
<path d="M1157.7,755.34 L1157.71,753.4 L1157.73,751.46 L1157.77,749.51 L1157.83,747.57 L1157.93,745.63 L1158.09,743.69 L1158.3,741.75 L1158.56,739.81 L1158.87,737.87 L1159.19,735.93 L1159.49,733.99 L1159.71,732.05 L1159.82,730.11 L1159.8,728.17 L1159.67,726.23 L1159.44,724.29 L1159.16,722.35 L1158.88,720.41 L1158.67,718.47 L1158.55,716.53 L1158.56,714.59 L1158.71,712.64 L1158.99,710.7 L1159.39,708.76 L1159.87,706.82 L1160.38,704.88 L1160.87,702.94 L1161.29,701 L1161.58,699.06 L1161.75,697.12 L1161.78,695.18 L1161.74,693.24 L1161.67,691.3 L1161.66,689.36 L1161.76,687.42 L1162.01,685.48 L1162.44,683.54 L1163.04,681.6 L1163.77,679.66 L1164.6,677.72 L1165.47,675.77 L1166.36,673.83 L1167.21,671.89 L1167.99,669.95 L1168.63,668.01 L1169.08,666.07 L1169.3,664.13 L1169.25,662.19 L1168.94,660.25 L1168.38,658.31 L1167.62,656.37 L1166.71,654.43 L1165.73,652.49 L1164.72,650.55 L1163.72,648.61 L1162.77,646.67 L1161.9,644.73 L1161.13,642.79 L1160.5,640.85 L1160.05,638.9 L1159.79,636.96 L1159.73,635.02 L1159.87,633.08 L1160.17,631.14 L1160.58,629.2 L1161.03,627.26 L1161.47,625.32 L1161.83,623.38 L1162.09,621.44 L1162.23,619.5 L1162.24,617.56 L1162.15,615.62 L1161.96,613.68 L1161.68,611.74 L1161.32,609.8 L1160.9,607.86 L1160.44,605.92 L1159.96,603.98 L1159.48,602.03 L1159.03,600.09 L1158.65,598.15 L1158.34,596.21 L1158.11,594.27 L1157.94,592.33 L1157.84,590.39 L1157.77,588.45 L1157.73,586.51 L1157.71,584.57 L1157.7,582.63 L1157.7,582.63 L1157.69,584.57 L1157.67,586.51 L1157.63,588.45 L1157.56,590.39 L1157.46,592.33 L1157.29,594.27 L1157.06,596.21 L1156.75,598.15 L1156.37,600.09 L1155.92,602.03 L1155.44,603.98 L1154.96,605.92 L1154.5,607.86 L1154.08,609.8 L1153.72,611.74 L1153.44,613.68 L1153.25,615.62 L1153.16,617.56 L1153.17,619.5 L1153.31,621.44 L1153.57,623.38 L1153.93,625.32 L1154.37,627.26 L1154.82,629.2 L1155.23,631.14 L1155.53,633.08 L1155.67,635.02 L1155.61,636.96 L1155.35,638.9 L1154.9,640.85 L1154.27,642.79 L1153.5,644.73 L1152.63,646.67 L1151.68,648.61 L1150.68,650.55 L1149.67,652.49 L1148.69,654.43 L1147.78,656.37 L1147.02,658.31 L1146.46,660.25 L1146.15,662.19 L1146.1,664.13 L1146.32,666.07 L1146.77,668.01 L1147.41,669.95 L1148.19,671.89 L1149.04,673.83 L1149.93,675.77 L1150.8,677.72 L1151.63,679.66 L1152.36,681.6 L1152.96,683.54 L1153.39,685.48 L1153.64,687.42 L1153.74,689.36 L1153.73,691.3 L1153.66,693.24 L1153.62,695.18 L1153.65,697.12 L1153.82,699.06 L1154.11,701 L1154.53,702.94 L1155.02,704.88 L1155.53,706.82 L1156.01,708.76 L1156.41,710.7 L1156.69,712.64 L1156.84,714.59 L1156.85,716.53 L1156.73,718.47 L1156.52,720.41 L1156.24,722.35 L1155.96,724.29 L1155.73,726.23 L1155.6,728.17 L1155.58,730.11 L1155.69,732.05 L1155.91,733.99 L1156.21,735.93 L1156.53,737.87 L1156.84,739.81 L1157.1,741.75 L1157.31,743.69 L1157.47,745.63 L1157.57,747.57 L1157.63,749.51 L1157.67,751.46 L1157.69,753.4 L1157.7,755.34Z" fill="#8b8b8b" stroke="#595959" stroke-width="0.8"/>
<circle cx="1157.7" cy="729.41" r="2" fill="#dcdcdc"/>
<circle cx="1157.7" cy="700.97" r="2" fill="#dcdcdc"/>
<circle cx="1157.7" cy="693.86" r="2" fill="#dcdcdc"/>
<circle cx="1157.7" cy="679.65" r="2" fill="#dcdcdc"/>
<circle cx="1157.7" cy="674.91" r="2" fill="#dcdcdc"/>
<circle cx="1153.9" cy="667.8" r="2" fill="#dcdcdc"/>
<circle cx="1161.5" cy="667.8" r="2" fill="#dcdcdc"/>
<circle cx="1153.9" cy="663.06" r="2" fill="#dcdcdc"/>
<circle cx="1161.5" cy="660.69" r="2" fill="#dcdcdc"/>
<circle cx="1157.7" cy="658.32" r="2" fill="#dcdcdc"/>
<circle cx="1157.7" cy="653.58" r="2" fill="#dcdcdc"/>
<circle cx="1157.7" cy="646.47" r="2" fill="#dcdcdc"/>
<circle cx="1157.7" cy="625.14" r="2" fill="#dcdcdc"/>
<circle cx="1157.7" cy="618.04" r="2" fill="#dcdcdc"/>
<circle cx="1157.7" cy="608.56" r="2" fill="#dcdcdc"/>
<line x1="1151.62" y1="679.65" x2="1163.78" y2="679.65" stroke="#1a1a1a" stroke-width="0.8" stroke-linecap="butt" stroke-dasharray="1.3 1.7"/>
<line x1="1152.72" y1="646.47" x2="1162.68" y2="646.47" stroke="#1a1a1a" stroke-width="0.8" stroke-linecap="butt" stroke-dasharray="1.3 1.7"/>
<line x1="1146.13" y1="663.06" x2="1169.27" y2="663.06" stroke="#1a1a1a" stroke-width="0.8" stroke-linecap="butt" stroke-dasharray="2.2 1.4"/>
<text x="1157.7" y="577.43" font-family='"Liberation Sans", sans-serif' font-size="17" font-weight="normal" text-anchor="middle" fill="#111">a</text>
<path d="M1194.5,774.56 L1194.51,773.33 L1194.52,772.1 L1194.53,770.87 L1194.56,769.65 L1194.59,768.42 L1194.65,767.19 L1194.72,765.96 L1194.83,764.74 L1194.96,763.51 L1195.11,762.28 L1195.29,761.05 L1195.49,759.83 L1195.7,758.6 L1195.9,757.37 L1196.08,756.14 L1196.24,754.92 L1196.38,753.69 L1196.49,752.46 L1196.6,751.23 L1196.73,750.01 L1196.92,748.78 L1197.19,747.55 L1197.6,746.32 L1198.16,745.09 L1198.88,743.87 L1199.77,742.64 L1200.79,741.41 L1201.9,740.18 L1203.02,738.96 L1204.08,737.73 L1204.98,736.5 L1205.65,735.27 L1206.04,734.05 L1206.1,732.82 L1205.84,731.59 L1205.29,730.36 L1204.51,729.14 L1203.58,727.91 L1202.57,726.68 L1201.56,725.45 L1200.62,724.23 L1199.79,723 L1199.11,721.77 L1198.59,720.54 L1198.22,719.32 L1198,718.09 L1197.9,716.86 L1197.91,715.63 L1197.98,714.41 L1198.1,713.18 L1198.23,711.95 L1198.34,710.72 L1198.42,709.5 L1198.47,708.27 L1198.49,707.04 L1198.51,705.81 L1198.54,704.59 L1198.62,703.36 L1198.75,702.13 L1198.96,700.9 L1199.24,699.68 L1199.56,698.45 L1199.88,697.22 L1200.18,695.99 L1200.41,694.77 L1200.54,693.54 L1200.54,692.31 L1200.41,691.08 L1200.15,689.86 L1199.76,688.63 L1199.29,687.4 L1198.74,686.17 L1198.17,684.95 L1197.59,683.72 L1197.03,682.49 L1196.52,681.26 L1196.07,680.04 L1195.69,678.81 L1195.37,677.58 L1195.12,676.35 L1194.93,675.13 L1194.78,673.9 L1194.68,672.67 L1194.61,671.44 L1194.57,670.21 L1194.54,668.99 L1194.52,667.76 L1194.51,666.53 L1194.5,665.3 L1194.5,665.3 L1194.49,666.53 L1194.48,667.76 L1194.46,668.99 L1194.43,670.21 L1194.39,671.44 L1194.32,672.67 L1194.22,673.9 L1194.07,675.13 L1193.88,676.35 L1193.63,677.58 L1193.31,678.81 L1192.93,680.04 L1192.48,681.26 L1191.97,682.49 L1191.41,683.72 L1190.83,684.95 L1190.26,686.17 L1189.71,687.4 L1189.24,688.63 L1188.85,689.86 L1188.59,691.08 L1188.46,692.31 L1188.46,693.54 L1188.59,694.77 L1188.82,695.99 L1189.12,697.22 L1189.44,698.45 L1189.76,699.68 L1190.04,700.9 L1190.25,702.13 L1190.38,703.36 L1190.46,704.59 L1190.49,705.81 L1190.51,707.04 L1190.53,708.27 L1190.58,709.5 L1190.66,710.72 L1190.77,711.95 L1190.9,713.18 L1191.02,714.41 L1191.09,715.63 L1191.1,716.86 L1191,718.09 L1190.78,719.32 L1190.41,720.54 L1189.89,721.77 L1189.21,723 L1188.38,724.23 L1187.44,725.45 L1186.43,726.68 L1185.42,727.91 L1184.49,729.14 L1183.71,730.36 L1183.16,731.59 L1182.9,732.82 L1182.96,734.05 L1183.35,735.27 L1184.02,736.5 L1184.92,737.73 L1185.98,738.96 L1187.1,740.18 L1188.21,741.41 L1189.23,742.64 L1190.12,743.87 L1190.84,745.09 L1191.4,746.32 L1191.81,747.55 L1192.08,748.78 L1192.27,750.01 L1192.4,751.23 L1192.51,752.46 L1192.62,753.69 L1192.76,754.92 L1192.92,756.14 L1193.1,757.37 L1193.3,758.6 L1193.51,759.83 L1193.71,761.05 L1193.89,762.28 L1194.04,763.51 L1194.17,764.74 L1194.28,765.96 L1194.35,767.19 L1194.41,768.42 L1194.44,769.65 L1194.47,770.87 L1194.48,772.1 L1194.49,773.33 L1194.5,774.56Z" fill="#6b6b6b" stroke="#393939" stroke-width="0.8"/>
<rect x="1192.9" y="751.51" width="3.2" height="3.2" fill="#dcdcdc" stroke="none" stroke-width="1"/>
<rect x="1192.9" y="737.29" width="3.2" height="3.2" fill="#dcdcdc" stroke="none" stroke-width="1"/>
<rect x="1189.1" y="732.55" width="3.2" height="3.2" fill="#dcdcdc" stroke="none" stroke-width="1"/>
<rect x="1192.9" y="732.55" width="3.2" height="3.2" fill="#dcdcdc" stroke="none" stroke-width="1"/>
<rect x="1196.7" y="732.55" width="3.2" height="3.2" fill="#dcdcdc" stroke="none" stroke-width="1"/>
<rect x="1189.1" y="730.18" width="3.2" height="3.2" fill="#dcdcdc" stroke="none" stroke-width="1"/>
<rect x="1192.9" y="730.18" width="3.2" height="3.2" fill="#dcdcdc" stroke="none" stroke-width="1"/>
<rect x="1196.7" y="730.18" width="3.2" height="3.2" fill="#dcdcdc" stroke="none" stroke-width="1"/>
<rect x="1192.9" y="720.7" width="3.2" height="3.2" fill="#dcdcdc" stroke="none" stroke-width="1"/>
<rect x="1189.1" y="708.85" width="3.2" height="3.2" fill="#dcdcdc" stroke="none" stroke-width="1"/>
<rect x="1196.7" y="706.48" width="3.2" height="3.2" fill="#dcdcdc" stroke="none" stroke-width="1"/>
<rect x="1189.1" y="694.63" width="3.2" height="3.2" fill="#dcdcdc" stroke="none" stroke-width="1"/>
<rect x="1196.7" y="692.26" width="3.2" height="3.2" fill="#dcdcdc" stroke="none" stroke-width="1"/>
<rect x="1192.9" y="689.89" width="3.2" height="3.2" fill="#dcdcdc" stroke="none" stroke-width="1"/>
<rect x="1192.9" y="685.16" width="3.2" height="3.2" fill="#dcdcdc" stroke="none" stroke-width="1"/>
<line x1="1182.99" y1="734.15" x2="1206.01" y2="734.15" stroke="#1a1a1a" stroke-width="0.8" stroke-linecap="butt" stroke-dasharray="1.3 1.7"/>
<line x1="1188.88" y1="696.23" x2="1200.12" y2="696.23" stroke="#1a1a1a" stroke-width="0.8" stroke-linecap="butt" stroke-dasharray="1.3 1.7"/>
<line x1="1183.12" y1="731.78" x2="1205.88" y2="731.78" stroke="#1a1a1a" stroke-width="0.8" stroke-linecap="butt" stroke-dasharray="2.2 1.4"/>
<text x="1194.5" y="664.8" font-family='"Liberation Sans", sans-serif' font-size="17" font-weight="normal" text-anchor="middle" fill="#111">b</text>
<path d="M1231.6,838.79 L1231.61,837.05 L1231.63,835.31 L1231.67,833.57 L1231.73,831.83 L1231.83,830.1 L1231.98,828.36 L1232.19,826.62 L1232.45,824.88 L1232.77,823.14 L1233.1,821.4 L1233.43,819.66 L1233.7,817.92 L1233.88,816.18 L1233.94,814.44 L1233.89,812.7 L1233.74,810.97 L1233.54,809.23 L1233.34,807.49 L1233.2,805.75 L1233.15,804.01 L1233.21,802.27 L1233.35,800.53 L1233.55,798.79 L1233.75,797.05 L1233.9,795.31 L1233.95,793.57 L1233.89,791.83 L1233.73,790.1 L1233.5,788.36 L1233.24,786.62 L1233.01,784.88 L1232.85,783.14 L1232.81,781.4 L1232.88,779.66 L1233.07,777.92 L1233.34,776.18 L1233.67,774.44 L1234.01,772.7 L1234.35,770.96 L1234.68,769.23 L1235.04,767.49 L1235.46,765.75 L1235.97,764.01 L1236.61,762.27 L1237.34,760.53 L1238.14,758.79 L1238.91,757.05 L1239.6,755.31 L1240.16,753.57 L1240.6,751.83 L1240.96,750.09 L1241.31,748.36 L1241.7,746.62 L1242.14,744.88 L1242.59,743.14 L1242.97,741.4 L1243.2,739.66 L1243.18,737.92 L1242.88,736.18 L1242.3,734.44 L1241.51,732.7 L1240.6,730.96 L1239.68,729.22 L1238.86,727.49 L1238.21,725.75 L1237.78,724.01 L1237.61,722.27 L1237.66,720.53 L1237.9,718.79 L1238.23,717.05 L1238.54,715.31 L1238.74,713.57 L1238.74,711.83 L1238.47,710.09 L1237.93,708.35 L1237.18,706.62 L1236.28,704.88 L1235.34,703.14 L1234.44,701.4 L1233.65,699.66 L1233.01,697.92 L1232.52,696.18 L1232.16,694.44 L1231.93,692.7 L1231.78,690.96 L1231.69,689.22 L1231.64,687.48 L1231.61,685.75 L1231.6,684.01 L1231.6,684.01 L1231.59,685.75 L1231.56,687.48 L1231.51,689.22 L1231.42,690.96 L1231.27,692.7 L1231.04,694.44 L1230.68,696.18 L1230.19,697.92 L1229.55,699.66 L1228.76,701.4 L1227.86,703.14 L1226.92,704.88 L1226.02,706.62 L1225.27,708.35 L1224.73,710.09 L1224.46,711.83 L1224.46,713.57 L1224.66,715.31 L1224.97,717.05 L1225.3,718.79 L1225.54,720.53 L1225.59,722.27 L1225.42,724.01 L1224.99,725.75 L1224.34,727.49 L1223.52,729.22 L1222.6,730.96 L1221.69,732.7 L1220.9,734.44 L1220.32,736.18 L1220.02,737.92 L1220,739.66 L1220.23,741.4 L1220.61,743.14 L1221.06,744.88 L1221.5,746.62 L1221.89,748.36 L1222.24,750.09 L1222.6,751.83 L1223.04,753.57 L1223.6,755.31 L1224.29,757.05 L1225.06,758.79 L1225.86,760.53 L1226.59,762.27 L1227.23,764.01 L1227.74,765.75 L1228.16,767.49 L1228.52,769.23 L1228.85,770.96 L1229.19,772.7 L1229.53,774.44 L1229.86,776.18 L1230.13,777.92 L1230.32,779.66 L1230.39,781.4 L1230.35,783.14 L1230.19,784.88 L1229.96,786.62 L1229.7,788.36 L1229.47,790.1 L1229.31,791.83 L1229.25,793.57 L1229.3,795.31 L1229.45,797.05 L1229.65,798.79 L1229.85,800.53 L1229.99,802.27 L1230.05,804.01 L1230,805.75 L1229.86,807.49 L1229.66,809.23 L1229.46,810.97 L1229.31,812.7 L1229.26,814.44 L1229.32,816.18 L1229.5,817.92 L1229.77,819.66 L1230.1,821.4 L1230.43,823.14 L1230.75,824.88 L1231.01,826.62 L1231.22,828.36 L1231.37,830.1 L1231.47,831.83 L1231.53,833.57 L1231.57,835.31 L1231.59,837.05 L1231.6,838.79Z" fill="#9b9b9b" stroke="#696969" stroke-width="0.8"/>
<polygon points="1229.6,816.62 1233.6,816.62 1231.6,812.82" fill="#dcdcdc"/>
<polygon points="1229.6,795.29 1233.6,795.29 1231.6,791.49" fill="#dcdcdc"/>
<polygon points="1229.6,771.59 1233.6,771.59 1231.6,767.79" fill="#dcdcdc"/>
<polygon points="1225.8,757.38 1229.8,757.38 1227.8,753.58" fill="#dcdcdc"/>
<polygon points="1229.6,755.01 1233.6,755.01 1231.6,751.21" fill="#dcdcdc"/>
<polygon points="1233.4,755.01 1237.4,755.01 1235.4,751.21" fill="#dcdcdc"/>
<polygon points="1225.8,743.16 1229.8,743.16 1227.8,739.36" fill="#dcdcdc"/>
<polygon points="1229.6,743.16 1233.6,743.16 1231.6,739.36" fill="#dcdcdc"/>
<polygon points="1233.4,740.79 1237.4,740.79 1235.4,736.99" fill="#dcdcdc"/>
<polygon points="1225.8,736.05 1229.8,736.05 1227.8,732.25" fill="#dcdcdc"/>
<polygon points="1233.4,736.05 1237.4,736.05 1235.4,732.25" fill="#dcdcdc"/>
<polygon points="1229.6,726.57 1233.6,726.57 1231.6,722.77" fill="#dcdcdc"/>
<polygon points="1225.8,714.72 1229.8,714.72 1227.8,710.92" fill="#dcdcdc"/>
<polygon points="1233.4,714.72 1237.4,714.72 1235.4,710.92" fill="#dcdcdc"/>
<polygon points="1229.6,709.98 1233.6,709.98 1231.6,706.18" fill="#dcdcdc"/>
<line x1="1223.67" y1="755.48" x2="1239.53" y2="755.48" stroke="#1a1a1a" stroke-width="0.8" stroke-linecap="butt" stroke-dasharray="1.3 1.7"/>
<line x1="1225.26" y1="724.67" x2="1237.94" y2="724.67" stroke="#1a1a1a" stroke-width="0.8" stroke-linecap="butt" stroke-dasharray="1.3 1.7"/>
<line x1="1220.21" y1="741.26" x2="1242.99" y2="741.26" stroke="#1a1a1a" stroke-width="0.8" stroke-linecap="butt" stroke-dasharray="2.2 1.4"/>
<text x="1231.6" y="680.91" font-family='"Liberation Sans", sans-serif' font-size="17" font-weight="normal" text-anchor="middle" fill="#111">c</text>
<path d="M1268.4,827.49 L1268.41,826.11 L1268.42,824.73 L1268.45,823.35 L1268.49,821.97 L1268.55,820.59 L1268.64,819.21 L1268.76,817.84 L1268.92,816.46 L1269.13,815.08 L1269.38,813.7 L1269.65,812.32 L1269.93,810.94 L1270.21,809.56 L1270.45,808.19 L1270.65,806.81 L1270.79,805.43 L1270.88,804.05 L1270.92,802.67 L1270.93,801.29 L1270.95,799.91 L1270.99,798.54 L1271.08,797.16 L1271.22,795.78 L1271.43,794.4 L1271.69,793.02 L1272,791.64 L1272.35,790.26 L1272.74,788.89 L1273.15,787.51 L1273.57,786.13 L1273.98,784.75 L1274.36,783.37 L1274.67,781.99 L1274.89,780.61 L1275,779.24 L1275,777.86 L1274.91,776.48 L1274.77,775.1 L1274.63,773.72 L1274.55,772.34 L1274.6,770.96 L1274.8,769.58 L1275.18,768.21 L1275.74,766.83 L1276.43,765.45 L1277.21,764.07 L1278,762.69 L1278.73,761.31 L1279.33,759.93 L1279.76,758.56 L1279.98,757.18 L1280,755.8 L1279.84,754.42 L1279.53,753.04 L1279.13,751.66 L1278.68,750.28 L1278.21,748.91 L1277.76,747.53 L1277.32,746.15 L1276.9,744.77 L1276.47,743.39 L1276.04,742.01 L1275.59,740.63 L1275.12,739.26 L1274.64,737.88 L1274.16,736.5 L1273.71,735.12 L1273.29,733.74 L1272.9,732.36 L1272.54,730.98 L1272.2,729.61 L1271.87,728.23 L1271.53,726.85 L1271.18,725.47 L1270.82,724.09 L1270.45,722.71 L1270.09,721.33 L1269.74,719.95 L1269.43,718.58 L1269.16,717.2 L1268.94,715.82 L1268.77,714.44 L1268.64,713.06 L1268.55,711.68 L1268.49,710.3 L1268.45,708.93 L1268.42,707.55 L1268.41,706.17 L1268.4,704.79 L1268.4,704.79 L1268.39,706.17 L1268.38,707.55 L1268.35,708.93 L1268.31,710.3 L1268.25,711.68 L1268.16,713.06 L1268.03,714.44 L1267.86,715.82 L1267.64,717.2 L1267.37,718.58 L1267.06,719.95 L1266.71,721.33 L1266.35,722.71 L1265.98,724.09 L1265.62,725.47 L1265.27,726.85 L1264.93,728.23 L1264.6,729.61 L1264.26,730.98 L1263.9,732.36 L1263.51,733.74 L1263.09,735.12 L1262.64,736.5 L1262.16,737.88 L1261.68,739.26 L1261.21,740.63 L1260.76,742.01 L1260.33,743.39 L1259.9,744.77 L1259.48,746.15 L1259.04,747.53 L1258.59,748.91 L1258.12,750.28 L1257.67,751.66 L1257.27,753.04 L1256.96,754.42 L1256.8,755.8 L1256.82,757.18 L1257.04,758.56 L1257.47,759.93 L1258.07,761.31 L1258.8,762.69 L1259.59,764.07 L1260.37,765.45 L1261.06,766.83 L1261.62,768.21 L1262,769.58 L1262.2,770.96 L1262.25,772.34 L1262.17,773.72 L1262.03,775.1 L1261.89,776.48 L1261.8,777.86 L1261.8,779.24 L1261.91,780.61 L1262.13,781.99 L1262.44,783.37 L1262.82,784.75 L1263.23,786.13 L1263.65,787.51 L1264.06,788.89 L1264.45,790.26 L1264.8,791.64 L1265.11,793.02 L1265.37,794.4 L1265.58,795.78 L1265.72,797.16 L1265.81,798.54 L1265.85,799.91 L1265.87,801.29 L1265.88,802.67 L1265.92,804.05 L1266.01,805.43 L1266.15,806.81 L1266.35,808.19 L1266.59,809.56 L1266.87,810.94 L1267.15,812.32 L1267.42,813.7 L1267.67,815.08 L1267.88,816.46 L1268.04,817.84 L1268.16,819.21 L1268.25,820.59 L1268.31,821.97 L1268.35,823.35 L1268.38,824.73 L1268.39,826.11 L1268.4,827.49Z" fill="#8f8f8f" stroke="#5d5d5d" stroke-width="0.8"/>
<polygon points="1266.4,803.34 1270.4,803.34 1268.4,807.14" fill="#dcdcdc"/>
<polygon points="1266.4,789.12 1270.4,789.12 1268.4,792.92" fill="#dcdcdc"/>
<polygon points="1262.6,779.64 1266.6,779.64 1264.6,783.44" fill="#dcdcdc"/>
<polygon points="1270.2,777.27 1274.2,777.27 1272.2,781.07" fill="#dcdcdc"/>
<polygon points="1266.4,772.53 1270.4,772.53 1268.4,776.33" fill="#dcdcdc"/>
<polygon points="1262.6,760.68 1266.6,760.68 1264.6,764.48" fill="#dcdcdc"/>
<polygon points="1270.2,760.68 1274.2,760.68 1272.2,764.48" fill="#dcdcdc"/>
<polygon points="1262.6,755.94 1266.6,755.94 1264.6,759.74" fill="#dcdcdc"/>
<polygon points="1266.4,753.58 1270.4,753.58 1268.4,757.38" fill="#dcdcdc"/>
<polygon points="1270.2,753.58 1274.2,753.58 1272.2,757.38" fill="#dcdcdc"/>
<polygon points="1266.4,748.84 1270.4,748.84 1268.4,752.64" fill="#dcdcdc"/>
<polygon points="1266.4,741.73 1270.4,741.73 1268.4,745.53" fill="#dcdcdc"/>
<polygon points="1270.2,741.73 1274.2,741.73 1272.2,745.53" fill="#dcdcdc"/>
<polygon points="1266.4,734.62 1270.4,734.62 1268.4,738.42" fill="#dcdcdc"/>
<polygon points="1266.4,725.14 1270.4,725.14 1268.4,728.94" fill="#dcdcdc"/>
<line x1="1261.8" y1="779.17" x2="1275" y2="779.17" stroke="#1a1a1a" stroke-width="0.8" stroke-linecap="butt" stroke-dasharray="1.3 1.7"/>
<line x1="1260.25" y1="743.63" x2="1276.55" y2="743.63" stroke="#1a1a1a" stroke-width="0.8" stroke-linecap="butt" stroke-dasharray="1.3 1.7"/>
<line x1="1256.93" y1="757.84" x2="1279.87" y2="757.84" stroke="#1a1a1a" stroke-width="0.8" stroke-linecap="butt" stroke-dasharray="2.2 1.4"/>
<text x="1268.4" y="700.99" font-family='"Liberation Sans", sans-serif' font-size="17" font-weight="normal" text-anchor="middle" fill="#111">c</text>
<rect x="961.7" y="523.25" width="331.35" height="331.75" fill="none" stroke="#000" stroke-width="3.5"/>
<line x1="952.45" y1="855" x2="961.7" y2="855" stroke="#000" stroke-width="3" stroke-linecap="butt"/>
<text x="949.2" y="860.6" font-family='"Liberation Sans", sans-serif' font-size="15.9" font-weight="bold" text-anchor="end" fill="#000">80</text>
<line x1="952.45" y1="807.61" x2="961.7" y2="807.61" stroke="#000" stroke-width="3" stroke-linecap="butt"/>
<text x="949.2" y="813.21" font-family='"Liberation Sans", sans-serif' font-size="15.9" font-weight="bold" text-anchor="end" fill="#000">100</text>
<line x1="952.45" y1="760.21" x2="961.7" y2="760.21" stroke="#000" stroke-width="3" stroke-linecap="butt"/>
<text x="949.2" y="765.81" font-family='"Liberation Sans", sans-serif' font-size="15.9" font-weight="bold" text-anchor="end" fill="#000">120</text>
<line x1="952.45" y1="712.82" x2="961.7" y2="712.82" stroke="#000" stroke-width="3" stroke-linecap="butt"/>
<text x="949.2" y="718.42" font-family='"Liberation Sans", sans-serif' font-size="15.9" font-weight="bold" text-anchor="end" fill="#000">140</text>
<line x1="952.45" y1="665.43" x2="961.7" y2="665.43" stroke="#000" stroke-width="3" stroke-linecap="butt"/>
<text x="949.2" y="671.03" font-family='"Liberation Sans", sans-serif' font-size="15.9" font-weight="bold" text-anchor="end" fill="#000">160</text>
<line x1="952.45" y1="618.04" x2="961.7" y2="618.04" stroke="#000" stroke-width="3" stroke-linecap="butt"/>
<text x="949.2" y="623.64" font-family='"Liberation Sans", sans-serif' font-size="15.9" font-weight="bold" text-anchor="end" fill="#000">180</text>
<line x1="952.45" y1="570.64" x2="961.7" y2="570.64" stroke="#000" stroke-width="3" stroke-linecap="butt"/>
<text x="949.2" y="576.24" font-family='"Liberation Sans", sans-serif' font-size="15.9" font-weight="bold" text-anchor="end" fill="#000">200</text>
<line x1="952.45" y1="523.25" x2="961.7" y2="523.25" stroke="#000" stroke-width="3" stroke-linecap="butt"/>
<text x="949.2" y="528.85" font-family='"Liberation Sans", sans-serif' font-size="15.9" font-weight="bold" text-anchor="end" fill="#000">220</text>
<line x1="956.15" y1="831.3" x2="961.7" y2="831.3" stroke="#000" stroke-width="3" stroke-linecap="butt"/>
<line x1="956.15" y1="783.91" x2="961.7" y2="783.91" stroke="#000" stroke-width="3" stroke-linecap="butt"/>
<line x1="956.15" y1="736.52" x2="961.7" y2="736.52" stroke="#000" stroke-width="3" stroke-linecap="butt"/>
<line x1="956.15" y1="689.12" x2="961.7" y2="689.12" stroke="#000" stroke-width="3" stroke-linecap="butt"/>
<line x1="956.15" y1="641.73" x2="961.7" y2="641.73" stroke="#000" stroke-width="3" stroke-linecap="butt"/>
<line x1="956.15" y1="594.34" x2="961.7" y2="594.34" stroke="#000" stroke-width="3" stroke-linecap="butt"/>
<line x1="956.15" y1="546.95" x2="961.7" y2="546.95" stroke="#000" stroke-width="3" stroke-linecap="butt"/>
<line x1="1040.6" y1="855" x2="1040.6" y2="864.55" stroke="#000" stroke-width="3" stroke-linecap="butt"/>
<text x="1041.7" y="879.8" font-family='"Liberation Serif", "Noto Serif CJK SC", serif' font-size="14" font-weight="bold" text-anchor="middle" fill="#000" letter-spacing="2.2">行为干预</text>
<line x1="1213.9" y1="855" x2="1213.9" y2="864.55" stroke="#000" stroke-width="3" stroke-linecap="butt"/>
<text x="1215" y="879.8" font-family='"Liberation Serif", "Noto Serif CJK SC", serif' font-size="14" font-weight="bold" text-anchor="middle" fill="#000" letter-spacing="2.2">药物干预</text>
<text x="1129.38" y="905.2" font-family='"Liberation Serif", "Noto Serif CJK SC", serif' font-size="15" font-weight="bold" text-anchor="middle" fill="#000" letter-spacing="4">干预方式</text>
<text x="908" y="689.12" font-family='"Liberation Sans", sans-serif' font-size="17.0" font-weight="bold" text-anchor="middle" fill="#000" transform="rotate(-90 908 689.12)" dominant-baseline="central">SBP/mmHg</text>
<rect x="1231.6" y="532.3" width="22.5" height="10.8" fill="#8b8b8b" stroke="#757575" stroke-width="1"/>
<text x="1266.9" y="544" font-family='"Liberation Sans", sans-serif' font-size="16.8" font-weight="normal" text-anchor="start" fill="#111">T0</text>
<rect x="1231.6" y="561.1" width="22.5" height="10.8" fill="#6b6b6b" stroke="#555555" stroke-width="1"/>
<text x="1266.9" y="572.8" font-family='"Liberation Sans", sans-serif' font-size="16.8" font-weight="normal" text-anchor="start" fill="#111">T1</text>
<rect x="1231.6" y="589.9" width="22.5" height="10.8" fill="#9b9b9b" stroke="#858585" stroke-width="1"/>
<text x="1266.9" y="601.6" font-family='"Liberation Sans", sans-serif' font-size="16.8" font-weight="normal" text-anchor="start" fill="#111">T2</text>
<rect x="1231.6" y="618.7" width="22.5" height="10.8" fill="#8f8f8f" stroke="#797979" stroke-width="1"/>
<text x="1266.9" y="630.4" font-family='"Liberation Sans", sans-serif' font-size="16.8" font-weight="normal" text-anchor="start" fill="#111">T3</text>
<text x="1052.27" y="959.8" font-family='"Noto Serif CJK SC", serif' font-size="32" font-weight="normal" text-anchor="start" fill="#111">（</text>
<text x="1096.8" y="961.6" font-family='"Liberation Serif", serif' font-size="38" font-weight="normal" text-anchor="middle" fill="#111">g</text>
<text x="1110.1" y="959.8" font-family='"Noto Serif CJK SC", serif' font-size="32" font-weight="normal" text-anchor="start" fill="#111">）</text>
</g>
<g id="ph">
<line x1="1422.3" y1="584.03" x2="1422.3" y2="727.81" stroke="#505050" stroke-width="1.4" stroke-linecap="butt"/>
<line x1="1416.3" y1="584.03" x2="1428.3" y2="584.03" stroke="#505050" stroke-width="1.4" stroke-linecap="butt"/>
<line x1="1416.3" y1="727.81" x2="1428.3" y2="727.81" stroke="#505050" stroke-width="1.4" stroke-linecap="butt"/>
<rect x="1411" y="606.15" width="22.6" height="80.18" fill="#8b8b8b" stroke="#2c2c2c" stroke-width="1.4"/>
<line x1="1411" y1="650.39" x2="1433.6" y2="650.39" stroke="#2c2c2c" stroke-width="1.4" stroke-linecap="butt"/>
<text x="1422.3" y="574.03" font-family='"Liberation Sans", sans-serif' font-size="17" font-weight="normal" text-anchor="middle" fill="#111">a</text>
<line x1="1459.4" y1="631.04" x2="1459.4" y2="763.75" stroke="#505050" stroke-width="1.4" stroke-linecap="butt"/>
<line x1="1453.4" y1="631.04" x2="1465.4" y2="631.04" stroke="#505050" stroke-width="1.4" stroke-linecap="butt"/>
<line x1="1453.4" y1="763.75" x2="1465.4" y2="763.75" stroke="#505050" stroke-width="1.4" stroke-linecap="butt"/>
<rect x="1448.1" y="655.92" width="22.6" height="47" fill="#6b6b6b" stroke="#2c2c2c" stroke-width="1.4"/>
<line x1="1448.1" y1="672.51" x2="1470.7" y2="672.51" stroke="#2c2c2c" stroke-width="1.4" stroke-linecap="butt"/>
<text x="1459.4" y="619.44" font-family='"Liberation Sans", sans-serif' font-size="17" font-weight="normal" text-anchor="middle" fill="#111">ab</text>
<line x1="1496.5" y1="666.98" x2="1496.5" y2="758.23" stroke="#505050" stroke-width="1.4" stroke-linecap="butt"/>
<line x1="1490.5" y1="666.98" x2="1502.5" y2="666.98" stroke="#505050" stroke-width="1.4" stroke-linecap="butt"/>
<line x1="1490.5" y1="758.23" x2="1502.5" y2="758.23" stroke="#505050" stroke-width="1.4" stroke-linecap="butt"/>
<rect x="1485.2" y="680.81" width="22.6" height="47" fill="#9b9b9b" stroke="#2c2c2c" stroke-width="1.4"/>
<line x1="1485.2" y1="708.46" x2="1507.8" y2="708.46" stroke="#2c2c2c" stroke-width="1.4" stroke-linecap="butt"/>
<text x="1496.5" y="658.58" font-family='"Liberation Sans", sans-serif' font-size="17" font-weight="normal" text-anchor="middle" fill="#111">b</text>
<line x1="1533.2" y1="694.63" x2="1533.2" y2="785.88" stroke="#505050" stroke-width="1.4" stroke-linecap="butt"/>
<line x1="1527.2" y1="694.63" x2="1539.2" y2="694.63" stroke="#505050" stroke-width="1.4" stroke-linecap="butt"/>
<line x1="1527.2" y1="785.88" x2="1539.2" y2="785.88" stroke="#505050" stroke-width="1.4" stroke-linecap="butt"/>
<rect x="1521.9" y="722.28" width="22.6" height="33.18" fill="#8f8f8f" stroke="#2c2c2c" stroke-width="1.4"/>
<line x1="1521.9" y1="744.4" x2="1544.5" y2="744.4" stroke="#2c2c2c" stroke-width="1.4" stroke-linecap="butt"/>
<text x="1533.2" y="685.63" font-family='"Liberation Sans", sans-serif' font-size="17" font-weight="normal" text-anchor="middle" fill="#111">c</text>
<line x1="1594.8" y1="595.09" x2="1594.8" y2="736.11" stroke="#505050" stroke-width="1.4" stroke-linecap="butt"/>
<line x1="1588.8" y1="595.09" x2="1600.8" y2="595.09" stroke="#505050" stroke-width="1.4" stroke-linecap="butt"/>
<line x1="1588.8" y1="736.11" x2="1600.8" y2="736.11" stroke="#505050" stroke-width="1.4" stroke-linecap="butt"/>
<rect x="1583.5" y="639.33" width="22.6" height="38.71" fill="#8b8b8b" stroke="#2c2c2c" stroke-width="1.4"/>
<line x1="1583.5" y1="658.69" x2="1606.1" y2="658.69" stroke="#2c2c2c" stroke-width="1.4" stroke-linecap="butt"/>
<text x="1594.8" y="588.39" font-family='"Liberation Sans", sans-serif' font-size="17" font-weight="normal" text-anchor="middle" fill="#111">a</text>
<line x1="1631.9" y1="686.34" x2="1631.9" y2="763.75" stroke="#505050" stroke-width="1.4" stroke-linecap="butt"/>
<line x1="1625.9" y1="686.34" x2="1637.9" y2="686.34" stroke="#505050" stroke-width="1.4" stroke-linecap="butt"/>
<line x1="1625.9" y1="763.75" x2="1637.9" y2="763.75" stroke="#505050" stroke-width="1.4" stroke-linecap="butt"/>
<rect x="1620.6" y="697.39" width="22.6" height="44.24" fill="#6b6b6b" stroke="#2c2c2c" stroke-width="1.4"/>
<line x1="1620.6" y1="738.87" x2="1643.2" y2="738.87" stroke="#2c2c2c" stroke-width="1.4" stroke-linecap="butt"/>
<text x="1631.9" y="677.94" font-family='"Liberation Sans", sans-serif' font-size="17" font-weight="normal" text-anchor="middle" fill="#111">b</text>
<line x1="1669" y1="711.22" x2="1669" y2="835.64" stroke="#505050" stroke-width="1.4" stroke-linecap="butt"/>
<line x1="1663" y1="711.22" x2="1675" y2="711.22" stroke="#505050" stroke-width="1.4" stroke-linecap="butt"/>
<line x1="1663" y1="835.64" x2="1675" y2="835.64" stroke="#505050" stroke-width="1.4" stroke-linecap="butt"/>
<rect x="1657.7" y="730.58" width="22.6" height="35.94" fill="#9b9b9b" stroke="#2c2c2c" stroke-width="1.4"/>
<line x1="1657.7" y1="749.93" x2="1680.3" y2="749.93" stroke="#2c2c2c" stroke-width="1.4" stroke-linecap="butt"/>
<text x="1669" y="705.72" font-family='"Liberation Sans", sans-serif' font-size="17" font-weight="normal" text-anchor="middle" fill="#111">c</text>
<line x1="1706.1" y1="733.34" x2="1706.1" y2="824.59" stroke="#505050" stroke-width="1.4" stroke-linecap="butt"/>
<line x1="1700.1" y1="733.34" x2="1712.1" y2="733.34" stroke="#505050" stroke-width="1.4" stroke-linecap="butt"/>
<line x1="1700.1" y1="824.59" x2="1712.1" y2="824.59" stroke="#505050" stroke-width="1.4" stroke-linecap="butt"/>
<rect x="1694.8" y="752.7" width="22.6" height="41.48" fill="#8f8f8f" stroke="#2c2c2c" stroke-width="1.4"/>
<line x1="1694.8" y1="769.28" x2="1717.4" y2="769.28" stroke="#2c2c2c" stroke-width="1.4" stroke-linecap="butt"/>
<text x="1706.1" y="728.24" font-family='"Liberation Sans", sans-serif' font-size="17" font-weight="normal" text-anchor="middle" fill="#111">c</text>
<rect x="1397.7" y="523.2" width="333.4" height="331.8" fill="none" stroke="#000" stroke-width="3.5"/>
<line x1="1388.45" y1="855" x2="1397.7" y2="855" stroke="#000" stroke-width="3" stroke-linecap="butt"/>
<text x="1385.2" y="860.6" font-family='"Liberation Sans", sans-serif' font-size="15.9" font-weight="bold" text-anchor="end" fill="#000">90</text>
<line x1="1388.45" y1="799.7" x2="1397.7" y2="799.7" stroke="#000" stroke-width="3" stroke-linecap="butt"/>
<text x="1385.2" y="805.3" font-family='"Liberation Sans", sans-serif' font-size="15.9" font-weight="bold" text-anchor="end" fill="#000">110</text>
<line x1="1388.45" y1="744.4" x2="1397.7" y2="744.4" stroke="#000" stroke-width="3" stroke-linecap="butt"/>
<text x="1385.2" y="750" font-family='"Liberation Sans", sans-serif' font-size="15.9" font-weight="bold" text-anchor="end" fill="#000">130</text>
<line x1="1388.45" y1="689.1" x2="1397.7" y2="689.1" stroke="#000" stroke-width="3" stroke-linecap="butt"/>
<text x="1385.2" y="694.7" font-family='"Liberation Sans", sans-serif' font-size="15.9" font-weight="bold" text-anchor="end" fill="#000">150</text>
<line x1="1388.45" y1="633.8" x2="1397.7" y2="633.8" stroke="#000" stroke-width="3" stroke-linecap="butt"/>
<text x="1385.2" y="639.4" font-family='"Liberation Sans", sans-serif' font-size="15.9" font-weight="bold" text-anchor="end" fill="#000">170</text>
<line x1="1388.45" y1="578.5" x2="1397.7" y2="578.5" stroke="#000" stroke-width="3" stroke-linecap="butt"/>
<text x="1385.2" y="584.1" font-family='"Liberation Sans", sans-serif' font-size="15.9" font-weight="bold" text-anchor="end" fill="#000">190</text>
<line x1="1388.45" y1="523.2" x2="1397.7" y2="523.2" stroke="#000" stroke-width="3" stroke-linecap="butt"/>
<text x="1385.2" y="528.8" font-family='"Liberation Sans", sans-serif' font-size="15.9" font-weight="bold" text-anchor="end" fill="#000">210</text>
<line x1="1392.15" y1="827.35" x2="1397.7" y2="827.35" stroke="#000" stroke-width="3" stroke-linecap="butt"/>
<line x1="1392.15" y1="772.05" x2="1397.7" y2="772.05" stroke="#000" stroke-width="3" stroke-linecap="butt"/>
<line x1="1392.15" y1="716.75" x2="1397.7" y2="716.75" stroke="#000" stroke-width="3" stroke-linecap="butt"/>
<line x1="1392.15" y1="661.45" x2="1397.7" y2="661.45" stroke="#000" stroke-width="3" stroke-linecap="butt"/>
<line x1="1392.15" y1="606.15" x2="1397.7" y2="606.15" stroke="#000" stroke-width="3" stroke-linecap="butt"/>
<line x1="1392.15" y1="550.85" x2="1397.7" y2="550.85" stroke="#000" stroke-width="3" stroke-linecap="butt"/>
<line x1="1477.1" y1="855" x2="1477.1" y2="864.55" stroke="#000" stroke-width="3" stroke-linecap="butt"/>
<text x="1478.2" y="879.8" font-family='"Liberation Serif", "Noto Serif CJK SC", serif' font-size="14" font-weight="bold" text-anchor="middle" fill="#000" letter-spacing="2.2">行为干预</text>
<line x1="1649.7" y1="855" x2="1649.7" y2="864.55" stroke="#000" stroke-width="3" stroke-linecap="butt"/>
<text x="1650.8" y="879.8" font-family='"Liberation Serif", "Noto Serif CJK SC", serif' font-size="14" font-weight="bold" text-anchor="middle" fill="#000" letter-spacing="2.2">药物干预</text>
<text x="1566.4" y="905.2" font-family='"Liberation Serif", "Noto Serif CJK SC", serif' font-size="15" font-weight="bold" text-anchor="middle" fill="#000" letter-spacing="4">干预方式</text>
<text x="1344.5" y="689.1" font-family='"Liberation Sans", sans-serif' font-size="17.0" font-weight="bold" text-anchor="middle" fill="#000" transform="rotate(-90 1344.5 689.1)" dominant-baseline="central">SBP/mmHg</text>
<rect x="1669" y="532.3" width="22.5" height="10.8" fill="#8b8b8b" stroke="#3a3a3a" stroke-width="1.4"/>
<text x="1704.3" y="544" font-family='"Liberation Sans", sans-serif' font-size="16.8" font-weight="normal" text-anchor="start" fill="#111">T0</text>
<rect x="1669" y="561.1" width="22.5" height="10.8" fill="#6b6b6b" stroke="#3a3a3a" stroke-width="1.4"/>
<text x="1704.3" y="572.8" font-family='"Liberation Sans", sans-serif' font-size="16.8" font-weight="normal" text-anchor="start" fill="#111">T1</text>
<rect x="1669" y="589.9" width="22.5" height="10.8" fill="#9b9b9b" stroke="#3a3a3a" stroke-width="1.4"/>
<text x="1704.3" y="601.6" font-family='"Liberation Sans", sans-serif' font-size="16.8" font-weight="normal" text-anchor="start" fill="#111">T2</text>
<rect x="1669" y="618.7" width="22.5" height="10.8" fill="#8f8f8f" stroke="#3a3a3a" stroke-width="1.4"/>
<text x="1704.3" y="630.4" font-family='"Liberation Sans", sans-serif' font-size="16.8" font-weight="normal" text-anchor="start" fill="#111">T3</text>
<text x="1488.67" y="959.8" font-family='"Noto Serif CJK SC", serif' font-size="32" font-weight="normal" text-anchor="start" fill="#111">（</text>
<text x="1533.2" y="961.6" font-family='"Liberation Serif", serif' font-size="38" font-weight="normal" text-anchor="middle" fill="#111">h</text>
<text x="1546.5" y="959.8" font-family='"Noto Serif CJK SC", serif' font-size="32" font-weight="normal" text-anchor="start" fill="#111">）</text>
</g>
<g id="pi">
<line x1="454.9" y1="1009.7" x2="454.9" y2="1409" stroke="#000" stroke-width="1.3" stroke-linecap="butt" stroke-dasharray="3.4 2"/>
<line x1="453.9" y1="1030.8" x2="520.64" y2="1030.8" stroke="#6b6b6b" stroke-width="2.4" stroke-linecap="butt"/>
<line x1="453.9" y1="1027" x2="453.9" y2="1034.6" stroke="#6b6b6b" stroke-width="2.4" stroke-linecap="butt"/>
<line x1="520.64" y1="1027" x2="520.64" y2="1034.6" stroke="#6b6b6b" stroke-width="2.4" stroke-linecap="butt"/>
<rect x="479.92" y="1023.2" width="15.2" height="15.2" fill="#6b6b6b" stroke="none" stroke-width="1"/>
<line x1="345.1" y1="1030.8" x2="356.3" y2="1030.8" stroke="#000" stroke-width="3.7" stroke-linecap="butt"/>
<text x="341" y="1036.9" font-family='"Liberation Serif", serif' font-size="19" font-weight="bold" text-anchor="end" fill="#000">T2 - T3</text>
<line x1="501.96" y1="1061.5" x2="582.39" y2="1061.5" stroke="#6b6b6b" stroke-width="2.4" stroke-linecap="butt"/>
<line x1="501.96" y1="1057.7" x2="501.96" y2="1065.3" stroke="#6b6b6b" stroke-width="2.4" stroke-linecap="butt"/>
<line x1="582.39" y1="1057.7" x2="582.39" y2="1065.3" stroke="#6b6b6b" stroke-width="2.4" stroke-linecap="butt"/>
<rect x="534.95" y="1053.9" width="15.2" height="15.2" fill="#6b6b6b" stroke="none" stroke-width="1"/>
<line x1="345.1" y1="1061.5" x2="356.3" y2="1061.5" stroke="#000" stroke-width="3.7" stroke-linecap="butt"/>
<text x="341" y="1067.6" font-family='"Liberation Serif", serif' font-size="19" font-weight="bold" text-anchor="end" fill="#000">T1 - T3</text>
<line x1="456.69" y1="1092.2" x2="562.47" y2="1092.2" stroke="#6b6b6b" stroke-width="2.4" stroke-linecap="butt"/>
<line x1="456.69" y1="1088.4" x2="456.69" y2="1096" stroke="#6b6b6b" stroke-width="2.4" stroke-linecap="butt"/>
<line x1="562.47" y1="1088.4" x2="562.47" y2="1096" stroke="#6b6b6b" stroke-width="2.4" stroke-linecap="butt"/>
<rect x="501.58" y="1084.6" width="15.2" height="15.2" fill="#6b6b6b" stroke="none" stroke-width="1"/>
<line x1="345.1" y1="1092.2" x2="356.3" y2="1092.2" stroke="#000" stroke-width="3.7" stroke-linecap="butt"/>
<text x="341" y="1098.3" font-family='"Liberation Serif", serif' font-size="19" font-weight="bold" text-anchor="end" fill="#000">T1 - T2</text>
<line x1="601.81" y1="1122.9" x2="721.83" y2="1122.9" stroke="#6b6b6b" stroke-width="2.4" stroke-linecap="butt"/>
<line x1="601.81" y1="1119.1" x2="601.81" y2="1126.7" stroke="#6b6b6b" stroke-width="2.4" stroke-linecap="butt"/>
<line x1="721.83" y1="1119.1" x2="721.83" y2="1126.7" stroke="#6b6b6b" stroke-width="2.4" stroke-linecap="butt"/>
<rect x="653.97" y="1115.3" width="15.2" height="15.2" fill="#6b6b6b" stroke="none" stroke-width="1"/>
<line x1="345.1" y1="1122.9" x2="356.3" y2="1122.9" stroke="#000" stroke-width="3.7" stroke-linecap="butt"/>
<text x="341" y="1129" font-family='"Liberation Serif", serif' font-size="19" font-weight="bold" text-anchor="end" fill="#000">T0 - T3</text>
<line x1="560.48" y1="1153.7" x2="698.42" y2="1153.7" stroke="#6b6b6b" stroke-width="2.4" stroke-linecap="butt"/>
<line x1="560.48" y1="1149.9" x2="560.48" y2="1157.5" stroke="#6b6b6b" stroke-width="2.4" stroke-linecap="butt"/>
<line x1="698.42" y1="1149.9" x2="698.42" y2="1157.5" stroke="#6b6b6b" stroke-width="2.4" stroke-linecap="butt"/>
<rect x="621.1" y="1146.1" width="15.2" height="15.2" fill="#6b6b6b" stroke="none" stroke-width="1"/>
<line x1="345.1" y1="1153.7" x2="356.3" y2="1153.7" stroke="#000" stroke-width="3.7" stroke-linecap="butt"/>
<text x="341" y="1159.8" font-family='"Liberation Serif", serif' font-size="19" font-weight="bold" text-anchor="end" fill="#000">T0 - T2</text>
<line x1="512.67" y1="1184.4" x2="636.67" y2="1184.4" stroke="#6b6b6b" stroke-width="2.4" stroke-linecap="butt"/>
<line x1="512.67" y1="1180.6" x2="512.67" y2="1188.2" stroke="#6b6b6b" stroke-width="2.4" stroke-linecap="butt"/>
<line x1="636.67" y1="1180.6" x2="636.67" y2="1188.2" stroke="#6b6b6b" stroke-width="2.4" stroke-linecap="butt"/>
<rect x="566.32" y="1176.8" width="15.2" height="15.2" fill="#6b6b6b" stroke="none" stroke-width="1"/>
<line x1="345.1" y1="1184.4" x2="356.3" y2="1184.4" stroke="#000" stroke-width="3.7" stroke-linecap="butt"/>
<text x="341" y="1190.5" font-family='"Liberation Serif", serif' font-size="19" font-weight="bold" text-anchor="end" fill="#000">T0 - T1</text>
<line x1="464.66" y1="1235.7" x2="576.91" y2="1235.7" stroke="#8c8c8c" stroke-width="2.4" stroke-linecap="butt"/>
<line x1="464.66" y1="1231.9" x2="464.66" y2="1239.5" stroke="#8c8c8c" stroke-width="2.4" stroke-linecap="butt"/>
<line x1="576.91" y1="1231.9" x2="576.91" y2="1239.5" stroke="#8c8c8c" stroke-width="2.4" stroke-linecap="butt"/>
<circle cx="520.14" cy="1235.7" r="7.5" fill="#8c8c8c"/>
<line x1="345.1" y1="1235.7" x2="356.3" y2="1235.7" stroke="#000" stroke-width="3.7" stroke-linecap="butt"/>
<text x="341" y="1241.8" font-family='"Liberation Serif", serif' font-size="19" font-weight="bold" text-anchor="end" fill="#000">T2 - T3</text>
<line x1="505.2" y1="1266.4" x2="633.68" y2="1266.4" stroke="#8c8c8c" stroke-width="2.4" stroke-linecap="butt"/>
<line x1="505.2" y1="1262.6" x2="505.2" y2="1270.2" stroke="#8c8c8c" stroke-width="2.4" stroke-linecap="butt"/>
<line x1="633.68" y1="1262.6" x2="633.68" y2="1270.2" stroke="#8c8c8c" stroke-width="2.4" stroke-linecap="butt"/>
<circle cx="568.94" cy="1266.4" r="7.5" fill="#8c8c8c"/>
<line x1="345.1" y1="1266.4" x2="356.3" y2="1266.4" stroke="#000" stroke-width="3.7" stroke-linecap="butt"/>
<text x="341" y="1272.5" font-family='"Liberation Serif", serif' font-size="19" font-weight="bold" text-anchor="end" fill="#000">T1 - T3</text>
<line x1="437.47" y1="1297.1" x2="569.69" y2="1297.1" stroke="#8c8c8c" stroke-width="2.4" stroke-linecap="butt"/>
<line x1="437.47" y1="1293.3" x2="437.47" y2="1300.9" stroke="#8c8c8c" stroke-width="2.4" stroke-linecap="butt"/>
<line x1="569.69" y1="1293.3" x2="569.69" y2="1300.9" stroke="#8c8c8c" stroke-width="2.4" stroke-linecap="butt"/>
<circle cx="503.45" cy="1297.1" r="7.5" fill="#8c8c8c"/>
<line x1="345.1" y1="1297.1" x2="356.3" y2="1297.1" stroke="#000" stroke-width="3.7" stroke-linecap="butt"/>
<text x="341" y="1303.2" font-family='"Liberation Serif", serif' font-size="19" font-weight="bold" text-anchor="end" fill="#000">T1 - T2</text>
<line x1="548.03" y1="1327.8" x2="690.45" y2="1327.8" stroke="#8c8c8c" stroke-width="2.4" stroke-linecap="butt"/>
<line x1="548.03" y1="1324" x2="548.03" y2="1331.6" stroke="#8c8c8c" stroke-width="2.4" stroke-linecap="butt"/>
<line x1="690.45" y1="1324" x2="690.45" y2="1331.6" stroke="#8c8c8c" stroke-width="2.4" stroke-linecap="butt"/>
<circle cx="618.99" cy="1327.8" r="7.5" fill="#8c8c8c"/>
<line x1="345.1" y1="1327.8" x2="356.3" y2="1327.8" stroke="#000" stroke-width="3.7" stroke-linecap="butt"/>
<text x="341" y="1333.9" font-family='"Liberation Serif", serif' font-size="19" font-weight="bold" text-anchor="end" fill="#000">T0 - T3</text>
<line x1="476.81" y1="1358.5" x2="629.45" y2="1358.5" stroke="#8c8c8c" stroke-width="2.4" stroke-linecap="butt"/>
<line x1="476.81" y1="1354.7" x2="476.81" y2="1362.3" stroke="#8c8c8c" stroke-width="2.4" stroke-linecap="butt"/>
<line x1="629.45" y1="1354.7" x2="629.45" y2="1362.3" stroke="#8c8c8c" stroke-width="2.4" stroke-linecap="butt"/>
<circle cx="553.01" cy="1358.5" r="7.5" fill="#8c8c8c"/>
<line x1="345.1" y1="1358.5" x2="356.3" y2="1358.5" stroke="#000" stroke-width="3.7" stroke-linecap="butt"/>
<text x="341" y="1364.6" font-family='"Liberation Serif", serif' font-size="19" font-weight="bold" text-anchor="end" fill="#000">T0 - T2</text>
<line x1="415.81" y1="1389.2" x2="593.34" y2="1389.2" stroke="#8c8c8c" stroke-width="2.4" stroke-linecap="butt"/>
<line x1="415.81" y1="1385.4" x2="415.81" y2="1393" stroke="#8c8c8c" stroke-width="2.4" stroke-linecap="butt"/>
<line x1="593.34" y1="1385.4" x2="593.34" y2="1393" stroke="#8c8c8c" stroke-width="2.4" stroke-linecap="butt"/>
<circle cx="504.5" cy="1389.2" r="7.5" fill="#8c8c8c"/>
<line x1="345.1" y1="1389.2" x2="356.3" y2="1389.2" stroke="#000" stroke-width="3.7" stroke-linecap="butt"/>
<text x="341" y="1395.3" font-family='"Liberation Serif", serif' font-size="19" font-weight="bold" text-anchor="end" fill="#000">T0 - T1</text>
<rect x="356.3" y="1009.7" width="397.6" height="399.3" fill="none" stroke="#000" stroke-width="3.9"/>
<line x1="355.3" y1="1409" x2="355.3" y2="1420" stroke="#000" stroke-width="3.7" stroke-linecap="butt"/>
<text x="355.3" y="1441.8" font-family='"Liberation Serif", serif' font-size="18.6" font-weight="bold" text-anchor="middle" fill="#000">-20</text>
<line x1="454.9" y1="1409" x2="454.9" y2="1420" stroke="#000" stroke-width="3.7" stroke-linecap="butt"/>
<text x="454.9" y="1441.8" font-family='"Liberation Serif", serif' font-size="18.6" font-weight="bold" text-anchor="middle" fill="#000">0</text>
<line x1="554.5" y1="1409" x2="554.5" y2="1420" stroke="#000" stroke-width="3.7" stroke-linecap="butt"/>
<text x="554.5" y="1441.8" font-family='"Liberation Serif", serif' font-size="18.6" font-weight="bold" text-anchor="middle" fill="#000">20</text>
<line x1="654.1" y1="1409" x2="654.1" y2="1420" stroke="#000" stroke-width="3.7" stroke-linecap="butt"/>
<text x="654.1" y="1441.8" font-family='"Liberation Serif", serif' font-size="18.6" font-weight="bold" text-anchor="middle" fill="#000">40</text>
<line x1="753.7" y1="1409" x2="753.7" y2="1420" stroke="#000" stroke-width="3.7" stroke-linecap="butt"/>
<text x="753.7" y="1441.8" font-family='"Liberation Serif", serif' font-size="18.6" font-weight="bold" text-anchor="middle" fill="#000">60</text>
<text x="555" y="1474.3" font-family='"Liberation Sans", sans-serif' font-size="20.4" font-weight="bold" text-anchor="middle" fill="#000">SBP/mmHg</text>
<text x="259" y="1210" font-family='"Liberation Sans", sans-serif' font-size="20.6" font-weight="bold" text-anchor="middle" fill="#000" transform="rotate(-90 259 1210)" dominant-baseline="central">Time Point Comparison</text>
<rect x="615.3" y="1022.3" width="15.2" height="15.2" fill="#6b6b6b" stroke="none" stroke-width="1"/>
<circle cx="622.9" cy="1061.2" r="7.5" fill="#8c8c8c"/>
<text x="653.4" y="1036.8" font-family='"Liberation Serif", "Noto Serif CJK SC", serif' font-size="17" font-weight="600" text-anchor="start" fill="#222" letter-spacing="4">药物干预</text>
<text x="653.4" y="1067.5" font-family='"Liberation Serif", "Noto Serif CJK SC", serif' font-size="17" font-weight="600" text-anchor="start" fill="#222" letter-spacing="4">行为干预</text>
<text x="466.69" y="1532" font-family='"Noto Serif CJK SC", serif' font-size="32" font-weight="normal" text-anchor="start" fill="#111">（</text>
<text x="507" y="1533.8" font-family='"Liberation Serif", serif' font-size="38" font-weight="normal" text-anchor="middle" fill="#111">i</text>
<text x="516.08" y="1532" font-family='"Noto Serif CJK SC", serif' font-size="32" font-weight="normal" text-anchor="start" fill="#111">）</text>
</g>
<g id="pj">
<line x1="1176.1" y1="1033.4" x2="1176.1" y2="1412.7" stroke="#000" stroke-width="1.3" stroke-linecap="butt" stroke-dasharray="3.4 2"/>
<line x1="1185.14" y1="1091.9" x2="1303.13" y2="1091.9" stroke="#8c8c8c" stroke-width="2.4" stroke-linecap="butt"/>
<line x1="1185.14" y1="1088.1" x2="1185.14" y2="1095.7" stroke="#8c8c8c" stroke-width="2.4" stroke-linecap="butt"/>
<line x1="1303.13" y1="1088.1" x2="1303.13" y2="1095.7" stroke="#8c8c8c" stroke-width="2.4" stroke-linecap="butt"/>
<circle cx="1244.04" cy="1091.9" r="7.5" fill="#8c8c8c"/>
<line x1="1039.2" y1="1091.9" x2="1050.2" y2="1091.9" stroke="#000" stroke-width="3.7" stroke-linecap="butt"/>
<text x="1035.8" y="1098" font-family='"Liberation Serif", serif' font-size="19" font-weight="bold" text-anchor="end" fill="#000">T3</text>
<line x1="1215.28" y1="1179.3" x2="1357.48" y2="1179.3" stroke="#8c8c8c" stroke-width="2.4" stroke-linecap="butt"/>
<line x1="1215.28" y1="1175.5" x2="1215.28" y2="1183.1" stroke="#8c8c8c" stroke-width="2.4" stroke-linecap="butt"/>
<line x1="1357.48" y1="1175.5" x2="1357.48" y2="1183.1" stroke="#8c8c8c" stroke-width="2.4" stroke-linecap="butt"/>
<circle cx="1286.07" cy="1179.3" r="7.5" fill="#8c8c8c"/>
<line x1="1039.2" y1="1179.3" x2="1050.2" y2="1179.3" stroke="#000" stroke-width="3.7" stroke-linecap="butt"/>
<text x="1035.8" y="1185.4" font-family='"Liberation Serif", serif' font-size="19" font-weight="bold" text-anchor="end" fill="#000">T2</text>
<line x1="1209.34" y1="1267.1" x2="1347.37" y2="1267.1" stroke="#8c8c8c" stroke-width="2.4" stroke-linecap="butt"/>
<line x1="1209.34" y1="1263.3" x2="1209.34" y2="1270.9" stroke="#8c8c8c" stroke-width="2.4" stroke-linecap="butt"/>
<line x1="1347.37" y1="1263.3" x2="1347.37" y2="1270.9" stroke="#8c8c8c" stroke-width="2.4" stroke-linecap="butt"/>
<circle cx="1277.85" cy="1267.1" r="7.5" fill="#8c8c8c"/>
<line x1="1039.2" y1="1267.1" x2="1050.2" y2="1267.1" stroke="#000" stroke-width="3.7" stroke-linecap="butt"/>
<text x="1035.8" y="1273.2" font-family='"Liberation Serif", serif' font-size="19" font-weight="bold" text-anchor="end" fill="#000">T1</text>
<line x1="1099" y1="1354.2" x2="1281.01" y2="1354.2" stroke="#8c8c8c" stroke-width="2.4" stroke-linecap="butt"/>
<line x1="1099" y1="1350.4" x2="1099" y2="1358" stroke="#8c8c8c" stroke-width="2.4" stroke-linecap="butt"/>
<line x1="1281.01" y1="1350.4" x2="1281.01" y2="1358" stroke="#8c8c8c" stroke-width="2.4" stroke-linecap="butt"/>
<circle cx="1190" cy="1354.2" r="7.5" fill="#8c8c8c"/>
<line x1="1039.2" y1="1354.2" x2="1050.2" y2="1354.2" stroke="#000" stroke-width="3.7" stroke-linecap="butt"/>
<text x="1035.8" y="1360.3" font-family='"Liberation Serif", serif' font-size="19" font-weight="bold" text-anchor="end" fill="#000">T0</text>
<rect x="1050.2" y="1033.4" width="378.7" height="379.3" fill="none" stroke="#000" stroke-width="3.9"/>
<line x1="1049.7" y1="1412.7" x2="1049.7" y2="1423.2" stroke="#000" stroke-width="3.7" stroke-linecap="butt"/>
<text x="1049.7" y="1443.5" font-family='"Liberation Serif", serif' font-size="18.6" font-weight="bold" text-anchor="middle" fill="#000">-20</text>
<line x1="1112.9" y1="1412.7" x2="1112.9" y2="1423.2" stroke="#000" stroke-width="3.7" stroke-linecap="butt"/>
<text x="1112.9" y="1443.5" font-family='"Liberation Serif", serif' font-size="18.6" font-weight="bold" text-anchor="middle" fill="#000">-10</text>
<line x1="1176.1" y1="1412.7" x2="1176.1" y2="1423.2" stroke="#000" stroke-width="3.7" stroke-linecap="butt"/>
<text x="1176.1" y="1443.5" font-family='"Liberation Serif", serif' font-size="18.6" font-weight="bold" text-anchor="middle" fill="#000">0</text>
<line x1="1239.3" y1="1412.7" x2="1239.3" y2="1423.2" stroke="#000" stroke-width="3.7" stroke-linecap="butt"/>
<text x="1239.3" y="1443.5" font-family='"Liberation Serif", serif' font-size="18.6" font-weight="bold" text-anchor="middle" fill="#000">10</text>
<line x1="1302.5" y1="1412.7" x2="1302.5" y2="1423.2" stroke="#000" stroke-width="3.7" stroke-linecap="butt"/>
<text x="1302.5" y="1443.5" font-family='"Liberation Serif", serif' font-size="18.6" font-weight="bold" text-anchor="middle" fill="#000">20</text>
<line x1="1365.7" y1="1412.7" x2="1365.7" y2="1423.2" stroke="#000" stroke-width="3.7" stroke-linecap="butt"/>
<text x="1365.7" y="1443.5" font-family='"Liberation Serif", serif' font-size="18.6" font-weight="bold" text-anchor="middle" fill="#000">30</text>
<line x1="1428.9" y1="1412.7" x2="1428.9" y2="1423.2" stroke="#000" stroke-width="3.7" stroke-linecap="butt"/>
<text x="1428.9" y="1443.5" font-family='"Liberation Serif", serif' font-size="18.6" font-weight="bold" text-anchor="middle" fill="#000">40</text>
<text x="1239" y="1474.6" font-family='"Liberation Sans", sans-serif' font-size="19.6" font-weight="bold" text-anchor="middle" fill="#000">SBP/mmHg</text>
<text x="997.5" y="1223" font-family='"Liberation Sans", sans-serif' font-size="19.8" font-weight="bold" text-anchor="middle" fill="#000" transform="rotate(-90 997.5 1223)" dominant-baseline="central">Time Point</text>
<circle cx="1151.8" cy="1016.7" r="7.4" fill="#8c8c8c"/>
<text x="1180.7" y="1022.8" font-family='"Liberation Serif", "Noto Serif CJK SC", serif' font-size="17.5" font-weight="600" text-anchor="start" fill="#222" letter-spacing="3.35">行为干预 - 药物干预</text>
<text x="1172.59" y="1532" font-family='"Noto Serif CJK SC", serif' font-size="32" font-weight="normal" text-anchor="start" fill="#111">（</text>
<text x="1212.9" y="1533.8" font-family='"Liberation Serif", serif' font-size="38" font-weight="normal" text-anchor="middle" fill="#111">j</text>
<text x="1221.98" y="1532" font-family='"Noto Serif CJK SC", serif' font-size="32" font-weight="normal" text-anchor="start" fill="#111">）</text>
</g>
</svg>
</body></html>
